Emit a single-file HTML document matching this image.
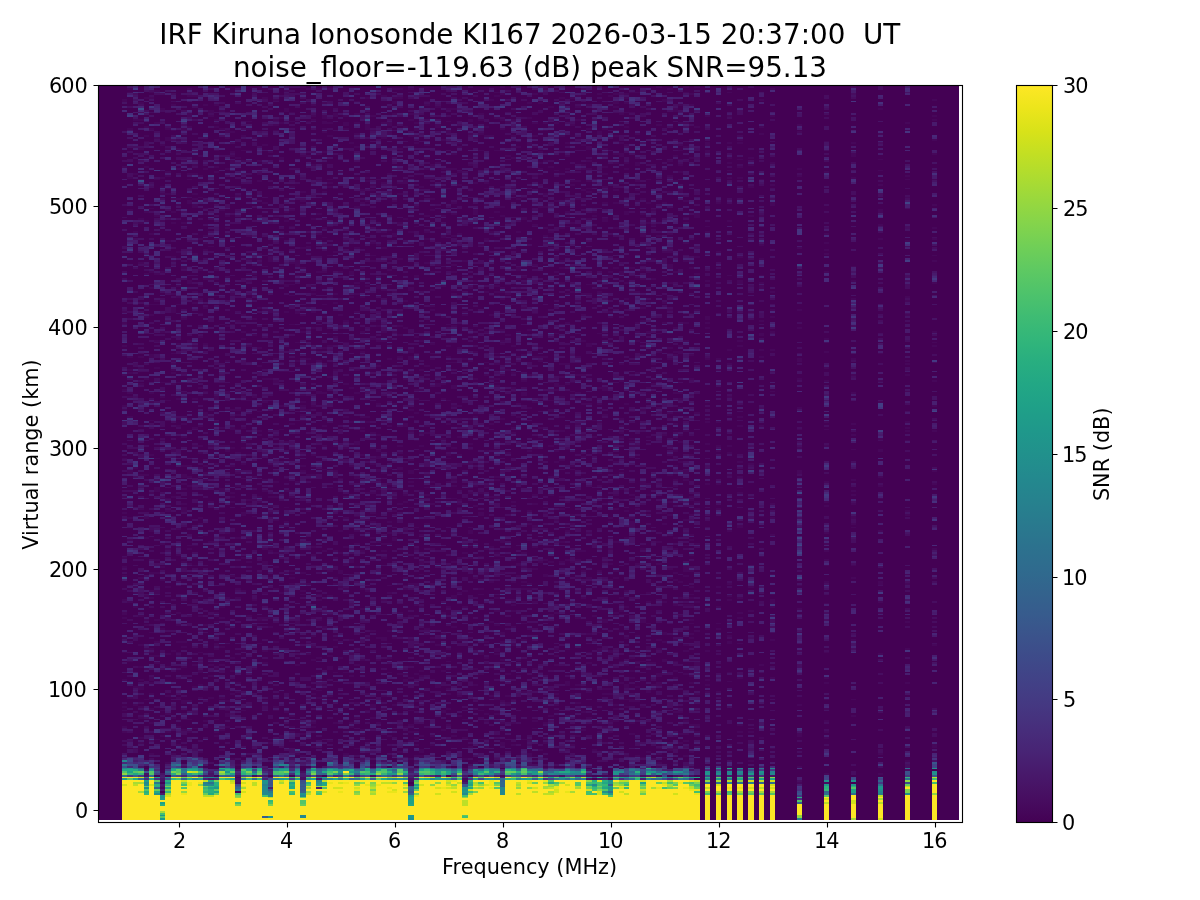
<!DOCTYPE html><html><head><meta charset="utf-8"><title>IRF Kiruna Ionosonde</title><style>html,body{margin:0;padding:0;background:#fff}svg{display:block}text{font-family:"DejaVu Sans","Liberation Sans",sans-serif;fill:#000}</style></head><body>
<svg width="1200" height="900" viewBox="0 0 1200 900">
<defs><linearGradient id="vg" x1="0" y1="0" x2="0" y2="1"><stop offset="0.0000" stop-color="#fde725"/><stop offset="0.0312" stop-color="#ece51b"/><stop offset="0.0625" stop-color="#d8e219"/><stop offset="0.0938" stop-color="#c2df23"/><stop offset="0.1250" stop-color="#addc30"/><stop offset="0.1562" stop-color="#98d83e"/><stop offset="0.1875" stop-color="#84d44b"/><stop offset="0.2188" stop-color="#70cf57"/><stop offset="0.2500" stop-color="#5ec962"/><stop offset="0.2812" stop-color="#4ec36b"/><stop offset="0.3125" stop-color="#3fbc73"/><stop offset="0.3438" stop-color="#32b67a"/><stop offset="0.3750" stop-color="#28ae80"/><stop offset="0.4062" stop-color="#22a785"/><stop offset="0.4375" stop-color="#1fa088"/><stop offset="0.4688" stop-color="#1f988b"/><stop offset="0.5000" stop-color="#21918c"/><stop offset="0.5312" stop-color="#23898e"/><stop offset="0.5625" stop-color="#26828e"/><stop offset="0.5938" stop-color="#297a8e"/><stop offset="0.6250" stop-color="#2c728e"/><stop offset="0.6562" stop-color="#2f6b8e"/><stop offset="0.6875" stop-color="#33638d"/><stop offset="0.7188" stop-color="#375b8d"/><stop offset="0.7500" stop-color="#3b528b"/><stop offset="0.7812" stop-color="#3e4989"/><stop offset="0.8125" stop-color="#424086"/><stop offset="0.8438" stop-color="#453781"/><stop offset="0.8750" stop-color="#472d7b"/><stop offset="0.9062" stop-color="#482374"/><stop offset="0.9375" stop-color="#48186a"/><stop offset="0.9688" stop-color="#470d60"/><stop offset="1.0000" stop-color="#440154"/></linearGradient><clipPath id="axc"><rect x="98" y="86" width="861" height="734"/></clipPath></defs>
<rect width="1200" height="900" fill="#fff"/>
<rect x="98" y="86" width="861" height="734" fill="#440154"/>
<g clip-path="url(#axc)"><svg x="94.953" y="84.327" width="863.878" height="735.781" viewBox="0 0 160 406" preserveAspectRatio="none" shape-rendering="crispEdges"><g fill="none" stroke-width="1"><path stroke="#46075a" d="M12 388.5h1M58 386.5h1M130 385.5h1M68 383.5h1M26 382.5h1M75 381.5h1m15 0h1M135 380.5h1m9 0h1M92 378.5h1M111 377.5h1M104 376.5h1m5 0h1m6 0h1m12 0h1M26 375.5h1m24 0h1m63 0h1M13 374.5h1m56 0h1m2 0h1m30 0h1M29 373.5h1m35 0h1m5 0h1m15 0h1m33 0h1m28 0h1M25 372.5h1m12 0h1m19 0h1m9 0h1m27 0h1M36 371.5h1m23 0h1m40 0h1m3 0h2m1 0h1M16 370.5h1m21 0h1m20 0h2m14 0h1m4 0h1m17 0h1m1 0h1m8 0h1M10 369.5h1m3 0h1m22 0h1m8 0h1m33 0h1m23 0h1m12 0h1m27 0h1M19 368.5h1m36 0h1m3 0h1m41 0h1m7 0h1M23 367.5h1m36 0h1m21 0h1m9 0h1m13 0h1M7 366.5h1m37 0h1m2 0h1m39 0h1m15 0h1m2 0h1m17 0h1M30 365.5h1m9 0h1m10 0h1m17 0h1m2 0h1m34 0h1m47 0h1M15 364.5h1m43 0h1m2 0h1m8 0h1m3 0h1m1 0h1m10 0h1m16 0h1m49 0h1M8 363.5h1m23 0h1m42 0h1m7 0h1m24 0h1M36 362.5h1m6 0h1m14 0h1m50 0h1M11 361.5h1m1 0h2m35 0h1m13 0h1m4 0h1m1 0h2m6 0h2m23 0h1M8 360.5h1m4 0h1m20 0h1m24 0h1m8 0h1m54 0h1m11 0h1M12 359.5h1m9 0h1m11 0h1m19 0h1m5 0h1m1 0h1m3 0h1m22 0h1m40 0h1M38 358.5h1m10 0h1m36 0h1m12 0h1m8 0h2m20 0h1M5 357.5h1m7 0h1m3 0h1m4 0h1m13 0h1m21 0h2m33 0h1m1 0h1m15 0h1m7 0h1m1 0h1m13 0h1M16 356.5h1m6 0h1m25 0h1m14 0h1m25 0h1M18 355.5h1m32 0h1m24 0h1m4 0h1M5 354.5h1m9 0h1m8 0h1m11 0h1m3 0h1m6 0h1m9 0h1m36 0h1M38 353.5h1m19 0h1m6 0h1m29 0h1m5 0h1m6 0h1m1 0h2m7 0h1M10 352.5h1m29 0h1m3 0h1m2 0h1m4 0h1m16 0h1m5 0h1m1 0h1m5 0h1m9 0h1m5 0h1M20 351.5h1m51 0h1m1 0h1m6 0h1m13 0h2m12 0h1m25 0h1M16 350.5h2m4 0h1m16 0h1m1 0h1m26 0h2m28 0h1M8 349.5h1m5 0h1m33 0h1m2 0h1m39 0h1M24 348.5h1m11 0h1m30 0h1m16 0h1m55 0h1M13 347.5h1m10 0h1m47 0h1m1 0h1M35 346.5h1m28 0h1m25 0h1m16 0h2M5 345.5h1m6 0h1m11 0h2m1 0h1m5 0h1m16 0h1m7 0h1m3 0h1m1 0h1m6 0h1m39 0h1M10 344.5h1m33 0h1m8 0h1m3 0h1m7 0h1m16 0h1m13 0h1m38 0h1M5 343.5h1m2 0h1m24 0h1m17 0h1m46 0h1m2 0h1m13 0h1M7 342.5h1m23 0h1m19 0h1m3 0h1m27 0h1m1 0h1m10 0h1m33 0h1M16 341.5h1m31 0h1m27 0h1m12 0h1M16 340.5h2m6 0h1m6 0h1m27 0h1m15 0h1m23 0h2m9 0h1M9 339.5h1m33 0h2m13 0h1m5 0h1m5 0h1m3 0h1m2 0h1m20 0h2m7 0h1m27 0h1m4 0h1M6 338.5h1m3 0h1m4 0h1m3 0h1m1 0h1m1 0h1m2 0h1m14 0h2m31 0h1m33 0h1M13 337.5h1m13 0h1m15 0h1m9 0h1m13 0h1m5 0h1m2 0h1m32 0h1M10 336.5h1m14 0h1m14 0h1m9 0h1m14 0h1m19 0h1m2 0h1m5 0h2m15 0h1M26 335.5h1m52 0h1m11 0h1m10 0h1m10 0h1m1 0h1M41 334.5h1m18 0h1m22 0h1m6 0h1m11 0h1M8 333.5h1m6 0h1m8 0h1m40 0h1m17 0h1m10 0h2M7 332.5h2m9 0h1m2 0h1m28 0h1m12 0h1m34 0h1m1 0h1M19 331.5h1m22 0h1m20 0h1m6 0h1m16 0h1m1 0h1m8 0h1m4 0h2m8 0h1M10 330.5h1m15 0h1m32 0h1m27 0h1m9 0h1m6 0h1m5 0h1m24 0h1m14 0h1M13 329.5h1m11 0h1m31 0h1m11 0h1m15 0h1m1 0h1m18 0h1m10 0h1M5 328.5h1m2 0h1m1 0h1m30 0h1m15 0h1m4 0h1m31 0h1m18 0h1M10 327.5h1m47 0h1m40 0h1m7 0h1m11 0h1m5 0h1m9 0h1M21 326.5h1m25 0h1m12 0h1m17 0h1m25 0h1m5 0h1M41 325.5h1m14 0h2m1 0h1m11 0h1m4 0h1m27 0h1m4 0h1M11 324.5h1m7 0h1m24 0h1m1 0h1m7 0h1m12 0h1m14 0h1m8 0h1m8 0h1m16 0h1M19 323.5h1m5 0h1m34 0h1m3 0h1m24 0h1m9 0h1m7 0h1M9 322.5h1m12 0h1m6 0h1m13 0h1m21 0h1m4 0h1m10 0h1M8 321.5h1m4 0h1m2 0h1m26 0h1m34 0h1m21 0h1m1 0h1M18 320.5h1m2 0h1m1 0h1m13 0h1m10 0h1m36 0h1m9 0h1m2 0h1m12 0h1m11 0h1M11 319.5h1m19 0h1m27 0h1m31 0h1m10 0h2m7 0h1M6 318.5h1m9 0h1m48 0h1m31 0h1m2 0h2m3 0h1m1 0h1M40 317.5h1m8 0h1m2 0h1m22 0h1m2 0h1m26 0h1m4 0h2M25 316.5h1m15 0h1m3 0h1m8 0h1m9 0h1m7 0h1m23 0h1m2 0h1M10 315.5h2m3 0h1m27 0h1m21 0h1m19 0h1m3 0h1m3 0h1M13 314.5h1m25 0h1m7 0h1m23 0h1m2 0h1m70 0h1M5 313.5h1m4 0h1m4 0h1m3 0h1m18 0h1m28 0h1m8 0h1m14 0h1m3 0h1m11 0h1m27 0h1M14 312.5h1m16 0h1m16 0h1m25 0h1m10 0h1m7 0h1m1 0h1m4 0h1m8 0h1m3 0h1m16 0h1M9 311.5h2m11 0h1m4 0h1m31 0h1m5 0h1m8 0h1m10 0h1m1 0h1m5 0h1m8 0h1m1 0h1m45 0h1M16 310.5h1m6 0h1m16 0h1m3 0h1m57 0h1M8 309.5h1m13 0h1m30 0h1m5 0h1m3 0h1m13 0h1m2 0h1m28 0h1m45 0h1M22 308.5h1m7 0h1m8 0h1m36 0h2m39 0h1m1 0h1M11 307.5h1m3 0h2m16 0h1m38 0h1m2 0h1m29 0h1m11 0h1M44 306.5h1m2 0h1m5 0h1m4 0h1m8 0h2m10 0h1m12 0h1m11 0h1m2 0h1m17 0h1m14 0h1M5 305.5h1m44 0h1m1 0h2m1 0h1m6 0h1m24 0h1m10 0h1m11 0h1M22 304.5h1m17 0h1m47 0h1m11 0h1m16 0h1M64 303.5h1m10 0h1m15 0h1m13 0h1m4 0h1M10 302.5h1m64 0h1m12 0h1m4 0h1m11 0h1m24 0h1M51 301.5h1m2 0h1m56 0h1M12 300.5h1m48 0h1m18 0h1m32 0h1m1 0h1M32 299.5h1m9 0h1m23 0h1m10 0h1m7 0h1M9 298.5h1m5 0h1m4 0h1m3 0h1m4 0h1m42 0h1m1 0h1M37 297.5h1m41 0h1m22 0h1m7 0h1m4 0h1M22 296.5h1m14 0h1m35 0h1m20 0h1m6 0h1m48 0h1M9 295.5h1m1 0h1m18 0h1m10 0h1m52 0h1m6 0h1m8 0h1M5 294.5h1m17 0h1m6 0h3m7 0h1m6 0h1m35 0h1m5 0h1m29 0h1M8 293.5h1m10 0h1m8 0h1m29 0h1m3 0h1m21 0h1m7 0h1m15 0h1M5 292.5h1m37 0h1m40 0h1m10 0h1m1 0h2M5 291.5h1m9 0h1m6 0h1m33 0h1m7 0h1m20 0h1m10 0h1m22 0h1m25 0h1M74 290.5h1m2 0h1m19 0h1m23 0h1M42 289.5h1m4 0h1m1 0h1m80 0h1M7 288.5h1m15 0h1m36 0h1m4 0h1m2 0h1m29 0h1m16 0h1m9 0h1M59 287.5h1m17 0h1m29 0h1m1 0h2M22 286.5h1m67 0h1m5 0h1m28 0h1m9 0h1M6 285.5h1m72 0h1m1 0h1m20 0h1m2 0h1m5 0h1m13 0h1m19 0h1M5 284.5h1m23 0h1m11 0h1m11 0h1m5 0h1m16 0h2m39 0h1m7 0h1M10 283.5h1m10 0h1m2 0h1m1 0h1m39 0h1m7 0h1m15 0h1m6 0h1m10 0h1m1 0h1m8 0h1M9 282.5h1m30 0h1m2 0h1m22 0h1m50 0h1M38 281.5h1m2 0h1m17 0h1m11 0h1m6 0h1m2 0h1m28 0h1m14 0h1M7 280.5h1m3 0h1m19 0h1m2 0h1m11 0h1m7 0h1m12 0h1m7 0h1m4 0h1m4 0h1m16 0h1M10 279.5h2m15 0h1m10 0h1m11 0h1m17 0h1m29 0h1M26 278.5h1m6 0h1m12 0h1m2 0h1m7 0h1m13 0h1m7 0h2m14 0h1M7 277.5h1m5 0h1m31 0h1m30 0h1m33 0h1m4 0h1m5 0h1M54 276.5h1m2 0h1m1 0h1m33 0h1m36 0h1M36 275.5h1m2 0h1m4 0h1m13 0h2m2 0h1m17 0h1m9 0h1m26 0h1m27 0h1m4 0h1M34 274.5h1m38 0h1m3 0h1m1 0h1m7 0h1m6 0h1m13 0h1m26 0h1m9 0h1M12 273.5h1m73 0h1m8 0h1m11 0h1M8 272.5h1m9 0h1m13 0h1m3 0h1m7 0h1m12 0h1m6 0h1m5 0h1m18 0h1m1 0h1m4 0h1m9 0h1m33 0h1M5 271.5h1m19 0h1m21 0h1m30 0h1m4 0h1m25 0h1M19 270.5h1m16 0h1m12 0h1m3 0h1m6 0h1m11 0h1m10 0h1m11 0h1m8 0h1m20 0h1m4 0h1m19 0h1M10 269.5h2m18 0h1m4 0h1m2 0h1m6 0h1m26 0h1m2 0h1m31 0h1M36 268.5h2m5 0h1m1 0h1m44 0h1m2 0h1m2 0h1m12 0h2M70 267.5h1m10 0h1m24 0h1m2 0h1M5 266.5h1m6 0h1m3 0h1m16 0h1m26 0h1m12 0h1m5 0h1m29 0h1M18 265.5h1m21 0h2m4 0h1m18 0h1m11 0h2m56 0h1m4 0h1M17 264.5h1m13 0h1m14 0h1m13 0h1m2 0h1m14 0h1m16 0h1m4 0h1m3 0h1M16 263.5h1m11 0h1m2 0h1m15 0h1m12 0h1m5 0h1m15 0h1m1 0h1m1 0h1m1 0h1m5 0h1M11 262.5h1m35 0h1m26 0h1m2 0h1m5 0h1m3 0h1m1 0h1m45 0h1M5 261.5h1m12 0h1m8 0h1m16 0h1m8 0h1m13 0h1m1 0h1m11 0h1m19 0h1M60 260.5h1m10 0h1m2 0h2m27 0h1m19 0h1M15 259.5h1m24 0h1m16 0h1m29 0h1m14 0h1m7 0h1M33 258.5h2m10 0h1m22 0h1m5 0h1m4 0h1M32 257.5h1m9 0h1m1 0h1m4 0h1m3 0h1m19 0h1m15 0h2m44 0h1M13 256.5h1m3 0h1m13 0h1m2 0h1m24 0h1m2 0h1m9 0h1m22 0h1m5 0h1m5 0h1m47 0h1M40 255.5h1m5 0h1m26 0h1m7 0h1M17 254.5h2m4 0h1m1 0h1m13 0h1m44 0h1m24 0h1M12 253.5h1m18 0h1m16 0h1m4 0h2m56 0h1m23 0h1M21 252.5h1m10 0h1m19 0h1m22 0h1m10 0h1m9 0h1m7 0h1M6 251.5h1m24 0h1m23 0h1m12 0h1m6 0h1m4 0h1m29 0h1M9 250.5h1m16 0h1m1 0h1m22 0h1m1 0h1m1 0h1m29 0h1m9 0h1m2 0h1m8 0h1M13 249.5h1m5 0h1m3 0h1m81 0h1M20 248.5h1m39 0h1m49 0h1m14 0h1M24 247.5h1m29 0h1m1 0h1m12 0h1m21 0h1m43 0h1M10 246.5h1m34 0h1m2 0h1m8 0h1m11 0h1m17 0h1m29 0h1m27 0h1M15 245.5h1m20 0h1M59 244.5h1m9 0h1m11 0h1m37 0h1m20 0h1M51 243.5h1m29 0h1m17 0h1m19 0h1M19 242.5h1m28 0h1m12 0h1m14 0h1m3 0h1m7 0h1m10 0h1m5 0h1m34 0h1M35 241.5h1m15 0h1m2 0h1m40 0h1m3 0h1M33 240.5h1m16 0h1m34 0h1m23 0h1M6 239.5h1m2 0h1m9 0h1m26 0h1m48 0h1m2 0h2m25 0h1m14 0h1M29 238.5h1m18 0h1m44 0h1m29 0h1m16 0h1M27 237.5h1m15 0h1m27 0h1m16 0h1m17 0h1m3 0h1m39 0h1M5 236.5h1m21 0h1m4 0h1m18 0h1m19 0h1m5 0h1m5 0h1m17 0h1m3 0h1M13 235.5h1m2 0h1m22 0h1m5 0h1m9 0h1m24 0h1m3 0h1m13 0h1m22 0h1m28 0h1M8 234.5h1m7 0h1m69 0h1m6 0h1m2 0h1m3 0h1m10 0h1m3 0h1M16 233.5h1m2 0h1m15 0h1m8 0h1m13 0h1m8 0h1m15 0h1M32 232.5h1m32 0h1m4 0h1m64 0h1M16 231.5h1m11 0h1m27 0h1m5 0h1m4 0h1m13 0h1m10 0h1m32 0h1m14 0h1M21 230.5h1m3 0h1m4 0h1m26 0h1m19 0h1m9 0h1m7 0h1m10 0h1m1 0h1m2 0h1m23 0h1M28 229.5h2m37 0h1m5 0h1m36 0h1M12 228.5h2m36 0h1m9 0h1m5 0h1m7 0h1m21 0h1m2 0h1m1 0h1m3 0h1m39 0h1M5 227.5h1m8 0h1m10 0h1m4 0h1m1 0h2m2 0h1m18 0h1m17 0h2m11 0h1m6 0h1m16 0h1m10 0h1M57 226.5h1m3 0h1m19 0h1m2 0h1m11 0h1m2 0h1m2 0h1m27 0h1m9 0h1M10 225.5h1m14 0h1m24 0h2m17 0h1m1 0h1m34 0h1m12 0h1M11 224.5h1m11 0h1m7 0h1m3 0h2m23 0h1m79 0h1M11 223.5h1m4 0h1m6 0h1m28 0h1m1 0h1m42 0h1M11 222.5h1m7 0h1m8 0h1m3 0h1m10 0h1m17 0h1m13 0h1m43 0h1M17 221.5h1m8 0h1m35 0h1m3 0h1m1 0h1m1 0h1m1 0h2m19 0h1m13 0h1m22 0h1m14 0h1M16 220.5h1m7 0h1m29 0h1m28 0h1m17 0h2m10 0h1m1 0h1m39 0h1M13 219.5h1m14 0h1m4 0h1m3 0h1m20 0h1m3 0h1m2 0h1m7 0h1m15 0h2m10 0h1m2 0h1m30 0h1M20 218.5h1m10 0h1m20 0h1m13 0h1m7 0h1m32 0h1m1 0h1m30 0h1M27 217.5h1m4 0h1m2 0h1m9 0h1m2 0h1m21 0h1m11 0h1M16 216.5h2m5 0h1m5 0h1m18 0h1m25 0h1m9 0h1m34 0h1m25 0h1M8 215.5h2m6 0h1m22 0h2m20 0h1m6 0h1m27 0h1m9 0h1m10 0h1M6 214.5h1m13 0h1m5 0h1m26 0h1m4 0h1m34 0h1m3 0h1m11 0h1m20 0h1M6 213.5h1m14 0h1m11 0h1m4 0h1m5 0h1m7 0h1m5 0h1m50 0h1m20 0h1m24 0h1M14 212.5h1m27 0h1m9 0h1m3 0h1m31 0h1m32 0h1M7 211.5h1m11 0h1m34 0h1m1 0h1M16 210.5h2m2 0h1m4 0h1m12 0h1m8 0h1m28 0h1m11 0h1m18 0h1m2 0h1M22 209.5h1m4 0h1m4 0h1m2 0h1m15 0h1m16 0h2m51 0h1M82 208.5h1m2 0h1m10 0h1m11 0h1m10 0h1M58 207.5h1m27 0h1M5 206.5h1m5 0h1m4 0h1m17 0h1m13 0h1m2 0h2m8 0h1m2 0h2m8 0h1m22 0h1m9 0h1M27 205.5h1m9 0h1m14 0h1m37 0h1M10 204.5h1m11 0h1m17 0h1m8 0h1m15 0h1m1 0h1m4 0h1m33 0h1m3 0h1M19 203.5h1m6 0h1m11 0h1m17 0h1m19 0h1m16 0h1m23 0h1M14 202.5h1m9 0h1m27 0h1m19 0h1m7 0h1m4 0h1m21 0h1m3 0h1m3 0h1m29 0h1M14 201.5h1m21 0h1m26 0h1m5 0h1m17 0h1m3 0h1m48 0h1m4 0h1M25 200.5h1m1 0h1m18 0h1m19 0h1m14 0h1m48 0h1M18 199.5h2m1 0h1m1 0h2m3 0h1m13 0h1m1 0h1m11 0h1m3 0h1m23 0h1m14 0h2m5 0h1m8 0h1m1 0h1m17 0h1M48 198.5h1m20 0h1m26 0h1m16 0h1M35 197.5h1m5 0h1m6 0h1m44 0h1m5 0h1m8 0h1M12 196.5h1m31 0h1m14 0h1m16 0h1m8 0h1m64 0h1M19 195.5h1m43 0h2m34 0h1m45 0h1M16 194.5h1m50 0h1m14 0h1m9 0h1m4 0h1m4 0h1M30 193.5h1m21 0h1m23 0h1m12 0h2m14 0h1m2 0h1m31 0h1M51 192.5h1m8 0h2m15 0h1m19 0h1m17 0h1M30 191.5h1m18 0h1m8 0h1m27 0h1m22 0h1m40 0h1m4 0h1M25 190.5h2m7 0h1m45 0h1m16 0h1m9 0h1m22 0h1m4 0h1M18 189.5h1m4 0h1m1 0h1m1 0h1m18 0h1m2 0h1m22 0h1m4 0h1m4 0h1m67 0h1M15 188.5h1m3 0h1m2 0h1m19 0h1m11 0h1m2 0h1m3 0h1m8 0h1m26 0h1m21 0h1m3 0h1M16 187.5h1m19 0h1m20 0h1m7 0h1m7 0h1m15 0h1m17 0h1m32 0h1M22 186.5h1m24 0h1m2 0h1m2 0h1m39 0h1m19 0h1m1 0h1m19 0h1m14 0h1M10 185.5h1m27 0h1m9 0h2m17 0h1m23 0h2M15 184.5h1m1 0h1m11 0h1m23 0h1m21 0h1m13 0h1m7 0h1M6 183.5h1m14 0h1m3 0h1m8 0h1m11 0h1m2 0h2m19 0h1m7 0h1m7 0h1m22 0h1m9 0h1M20 182.5h1m5 0h1m11 0h1m55 0h1m22 0h1M20 181.5h1m38 0h1m10 0h1m35 0h1m4 0h1M27 180.5h1m2 0h1m4 0h1m48 0h1m14 0h1M5 179.5h1m18 0h3m11 0h2m18 0h1m15 0h1m9 0h1m16 0h1M80 178.5h1m23 0h1m3 0h1m21 0h1M5 177.5h1m24 0h1m3 0h1m3 0h1m1 0h1m25 0h2m4 0h1m82 0h1M52 176.5h1m2 0h1m22 0h1m11 0h2m1 0h1m4 0h1M10 175.5h1m20 0h1m6 0h1m42 0h1m31 0h1m31 0h1M13 174.5h1m6 0h1m6 0h2m7 0h1m8 0h1m1 0h1m17 0h1m18 0h1m11 0h1m22 0h1M15 173.5h1m2 0h1m3 0h1m21 0h1m14 0h1m4 0h1m24 0h1m18 0h1M6 172.5h1m5 0h1m9 0h1m6 0h1m56 0h1m3 0h1m26 0h1M27 171.5h1m10 0h1m40 0h1M6 170.5h1m3 0h1m5 0h1m7 0h1m16 0h2m5 0h1m30 0h1m9 0h1m17 0h2m31 0h1M20 169.5h1m3 0h1m1 0h1m5 0h1m6 0h1m1 0h1m12 0h1m22 0h1m10 0h1m13 0h1m22 0h1m24 0h1M5 168.5h1m53 0h2m24 0h1m8 0h1M19 167.5h1m27 0h1m18 0h1m10 0h1m15 0h2m7 0h1M38 166.5h1m14 0h1m9 0h1m2 0h1m4 0h2m1 0h1m10 0h2M8 165.5h1m5 0h1m31 0h1m16 0h2m20 0h1m1 0h1m15 0h1M12 164.5h2m1 0h1m17 0h1m40 0h1m9 0h1m3 0h1m22 0h1M33 163.5h1m11 0h1m33 0h1m17 0h1m37 0h1m9 0h1m9 0h1M9 162.5h1m21 0h2m24 0h1m12 0h1m2 0h2m29 0h1m5 0h1m19 0h1M40 161.5h1m2 0h1m42 0h1M5 160.5h1m47 0h1m18 0h1m2 0h1m4 0h1m8 0h2m49 0h1m9 0h1M6 159.5h1m7 0h1m1 0h1m41 0h1m18 0h1m22 0h1M34 158.5h2m18 0h1m1 0h1m1 0h1m4 0h1m76 0h1M6 157.5h1m7 0h1m29 0h1m3 0h1m11 0h1m15 0h1m38 0h1M8 156.5h1m2 0h1m11 0h1m13 0h1m34 0h1m18 0h1m43 0h1M30 155.5h1m19 0h1m1 0h1m8 0h1M14 154.5h1m24 0h1m34 0h1m1 0h1m9 0h2m9 0h1m5 0h1m13 0h1m32 0h1M33 153.5h2m1 0h1m28 0h2m5 0h1m32 0h1M14 152.5h1m9 0h1m12 0h1m3 0h1m27 0h1m12 0h1m47 0h1m19 0h1M33 151.5h1m5 0h1m14 0h1m3 0h1m3 0h1m5 0h1m37 0h1m6 0h1m1 0h1m14 0h1m9 0h1M6 150.5h1m1 0h1m1 0h1m45 0h1m1 0h1m6 0h1m15 0h3m5 0h1m33 0h1M10 149.5h1m38 0h1m29 0h1m21 0h1m5 0h1m2 0h1M14 148.5h1m4 0h1m11 0h1m20 0h1m6 0h1m2 0h1m5 0h1m5 0h1m31 0h1m1 0h1m36 0h1M49 147.5h1m8 0h1m11 0h1m33 0h1m2 0h2m26 0h1M40 146.5h1m17 0h1m58 0h1m5 0h1m1 0h1m14 0h1M30 145.5h1m11 0h1m24 0h1m38 0h1M5 144.5h1m12 0h1m9 0h1m14 0h1m21 0h1m11 0h1m13 0h1m16 0h1m10 0h1m35 0h1M15 143.5h1m4 0h1m13 0h1m27 0h1m12 0h1m15 0h1M17 142.5h1m19 0h1m6 0h1m1 0h1m42 0h1m5 0h1m59 0h1M11 141.5h1m5 0h1m34 0h2m6 0h1m14 0h1m14 0h1m9 0h1m8 0h1m9 0h1M27 140.5h1m23 0h1m2 0h1m15 0h1m64 0h1M19 139.5h1m24 0h1m14 0h1m6 0h1m27 0h1M29 138.5h1m26 0h1m16 0h1m2 0h1m46 0h1M22 137.5h1m20 0h1m14 0h1m8 0h1m17 0h1m7 0h1m10 0h1m1 0h1m3 0h1m12 0h1M12 136.5h1m14 0h1m10 0h1m10 0h1m3 0h1m1 0h1m16 0h1m5 0h1m21 0h1m1 0h1m22 0h1m29 0h1M74 135.5h2m4 0h1m15 0h1M38 134.5h1m1 0h1m16 0h1m28 0h1m16 0h1m3 0h1m5 0h1m16 0h1M24 133.5h1m27 0h1m3 0h1m9 0h1M23 132.5h1m1 0h1m5 0h1m4 0h1m28 0h1m22 0h1m17 0h1M5 131.5h1m81 0h1m12 0h1m4 0h1m3 0h1m3 0h1M26 130.5h1m19 0h1m7 0h1m46 0h1m21 0h1M16 129.5h1m12 0h1m83 0h1M9 128.5h1m32 0h1m13 0h1m7 0h1m30 0h1m17 0h1m11 0h1M10 127.5h1m16 0h1m10 0h1m6 0h1m22 0h1m4 0h1m16 0h1m59 0h1M19 126.5h1m17 0h1m22 0h2m2 0h1m16 0h1m28 0h1m8 0h1M5 125.5h1m8 0h1m17 0h1m2 0h1m1 0h1m2 0h1m7 0h1m7 0h1m11 0h1m26 0h1m25 0h1M14 124.5h1m16 0h2m29 0h1m43 0h1m4 0h1m13 0h1m4 0h1M14 123.5h1m5 0h1m9 0h1m48 0h1m21 0h1M9 122.5h1m40 0h1m11 0h1M10 121.5h2m3 0h1m19 0h1m6 0h1m34 0h1m1 0h1m17 0h1M18 120.5h1m9 0h1m15 0h1m60 0h1M11 119.5h1m45 0h1m23 0h1m7 0h1m60 0h1M19 118.5h1m47 0h1m7 0h1m22 0h1m41 0h1M15 117.5h1m27 0h1m3 0h1m1 0h1m6 0h1m12 0h1m80 0h1M25 116.5h1m3 0h1m6 0h1m6 0h1m29 0h2m38 0h1M14 115.5h1m10 0h1m14 0h1m3 0h1m3 0h1m17 0h1m9 0h1m10 0h1m2 0h2M18 114.5h1m24 0h1m11 0h1m16 0h1m1 0h2m12 0h1m4 0h1m5 0h2m24 0h1M15 113.5h1m24 0h1m12 0h1m4 0h1m3 0h1m3 0h1M10 112.5h1m12 0h1m28 0h1m5 0h1m10 0h1m5 0h1m17 0h1m5 0h1m23 0h1M12 111.5h1m2 0h1m3 0h1m15 0h1m4 0h1m7 0h1m1 0h1m1 0h1m11 0h1m9 0h1m7 0h1m40 0h1M23 110.5h1m10 0h3m46 0h1m1 0h1m5 0h1m2 0h1M15 109.5h1m1 0h1m6 0h1m23 0h1m14 0h1m15 0h1m6 0h1m11 0h1m7 0h1m12 0h1m3 0h1m31 0h1M17 108.5h1m10 0h1m20 0h1m20 0h1m42 0h1m5 0h1m20 0h1M20 107.5h3m11 0h1m2 0h1m40 0h1m22 0h1m1 0h1m6 0h1M24 106.5h1m18 0h1m15 0h1m8 0h1m10 0h1m9 0h1m10 0h1M37 105.5h1m11 0h1m9 0h1m9 0h1m2 0h1m11 0h1m30 0h1m1 0h1m5 0h1M9 104.5h1m1 0h1m16 0h2m17 0h1m49 0h1m13 0h1M10 103.5h1m1 0h1m28 0h2m2 0h1m1 0h1m14 0h1m3 0h1m18 0h1m9 0h1m1 0h1m4 0h1m4 0h1m27 0h1M19 102.5h1m2 0h1m10 0h1m20 0h1m23 0h1m22 0h1M16 101.5h1m17 0h1m3 0h1m10 0h1m15 0h1m12 0h1m7 0h1m9 0h1m2 0h1m6 0h1m3 0h1M16 100.5h2m13 0h1m5 0h1m18 0h1m12 0h1m28 0h1m7 0h1m33 0h1M37 99.5h1m25 0h1m2 0h1m14 0h1m24 0h1M8 98.5h1m21 0h1m5 0h2m23 0h1m21 0h1M14 97.5h1m17 0h1m4 0h1m13 0h1m16 0h1m17 0h1m22 0h1m45 0h1M28 96.5h1m1 0h1m1 0h1m14 0h1m6 0h1m1 0h1m39 0h1m6 0h1m19 0h1M9 95.5h1m4 0h1m17 0h1m42 0h1m31 0h1m3 0h1m7 0h1M43 94.5h1m7 0h1m12 0h1m22 0h1m33 0h1m33 0h1M18 93.5h1m11 0h1m104 0h1M15 92.5h1m28 0h2m59 0h2m8 0h1M20 91.5h1m64 0h1m49 0h1M38 90.5h2m8 0h1m4 0h1m21 0h1m8 0h1m21 0h1m23 0h1M6 89.5h1m1 0h1m12 0h1m11 0h1m2 0h1m2 0h1m21 0h1M52 88.5h1m18 0h1m51 0h1M20 87.5h1m30 0h1m33 0h1m23 0h1m25 0h1M13 86.5h1m32 0h1m103 0h1M19 85.5h1m2 0h1m38 0h1m10 0h1m10 0h2m60 0h1m9 0h1M34 84.5h1m7 0h1m21 0h1m37 0h1M6 83.5h1m13 0h1m7 0h1m26 0h1m8 0h1m1 0h1m7 0h1m8 0h1m17 0h1m2 0h1M10 82.5h1m13 0h1m16 0h1m13 0h1m11 0h1m33 0h1m4 0h1m28 0h1M7 81.5h1m45 0h1m4 0h1m2 0h1m11 0h1m4 0h1m5 0h1m28 0h1M29 80.5h1m10 0h1M24 79.5h1m17 0h1m20 0h1m19 0h1m2 0h1m9 0h1m10 0h1m47 0h1M12 78.5h1m23 0h1m6 0h1m2 0h1m12 0h1m27 0h1m25 0h1M81 77.5h1m21 0h1m41 0h1M8 76.5h1m5 0h1m1 0h1m7 0h1m31 0h1m10 0h1m1 0h1m6 0h1m11 0h1m13 0h1m6 0h1M9 75.5h1m2 0h1m4 0h1m17 0h1m37 0h1m20 0h1m22 0h1M8 74.5h1m24 0h1m6 0h1m1 0h1m8 0h1m5 0h1m10 0h1m10 0h1m11 0h1m2 0h1m6 0h1M53 73.5h1m25 0h1m29 0h1m1 0h1M11 72.5h1m12 0h1m13 0h1m22 0h1m2 0h1m10 0h1m16 0h1m18 0h1m9 0h1m1 0h1M20 71.5h1m20 0h1m24 0h1m3 0h1m27 0h1m2 0h1m9 0h1M9 70.5h1m4 0h1m20 0h1m34 0h1m3 0h1m12 0h1m4 0h1m5 0h1m46 0h1M6 69.5h1m16 0h1m12 0h1m25 0h1m7 0h1m32 0h1m41 0h1M10 68.5h1m9 0h1m83 0h1M18 67.5h1m29 0h1m10 0h1m14 0h2m6 0h2m14 0h1M12 66.5h1m2 0h1m2 0h1m19 0h1m33 0h1m14 0h1m37 0h1m29 0h1M17 65.5h1m13 0h1m17 0h1m16 0h1m27 0h1m1 0h1m5 0h1m2 0h1m9 0h1m9 0h1M17 64.5h1m18 0h1m1 0h1m11 0h1m4 0h1m29 0h1m14 0h1m8 0h1M14 63.5h2m2 0h1m5 0h1m10 0h1m26 0h1m5 0h1m9 0h1m3 0h1m4 0h1m1 0h1m11 0h1M19 62.5h1m5 0h1m53 0h1m18 0h1m51 0h1M26 61.5h1m40 0h1m40 0h1M12 60.5h2m4 0h1m33 0h1m3 0h1m26 0h1M38 59.5h1m3 0h1m48 0h1m14 0h1m1 0h1M49 58.5h1m1 0h1m38 0h1m5 0h1m3 0h1m7 0h1M13 57.5h1m30 0h1m8 0h1m11 0h1m3 0h1m2 0h1m4 0h1m5 0h1m7 0h1M12 56.5h1m23 0h1m6 0h1m16 0h1m14 0h1m18 0h1m26 0h1M42 55.5h1m8 0h1m15 0h1m20 0h1m36 0h1m19 0h1M43 54.5h1m9 0h1m2 0h2m12 0h1m1 0h1m4 0h1m14 0h1m4 0h1M21 53.5h1m8 0h1m19 0h1m6 0h1m30 0h2m1 0h1m8 0h1m6 0h1M11 52.5h1m5 0h1m23 0h1m1 0h1m4 0h1m3 0h1m11 0h1m5 0h1m31 0h1m20 0h1m26 0h1m4 0h1M6 51.5h1m5 0h1m35 0h1m1 0h1m66 0h1m1 0h1m20 0h1M13 50.5h1m5 0h1m44 0h1m16 0h1m24 0h1m23 0h1m19 0h1M7 49.5h1m9 0h2m11 0h1m6 0h1m16 0h1m36 0h1m1 0h2M13 48.5h1m8 0h1m22 0h1m21 0h1m40 0h1m26 0h1M27 47.5h1m30 0h1m19 0h1m6 0h1m31 0h1m27 0h1M15 46.5h1m4 0h1m3 0h1m36 0h1m2 0h3m15 0h1m4 0h1m2 0h2m6 0h1m4 0h1m26 0h1M5 45.5h1m3 0h1m12 0h1m61 0h1m9 0h1m24 0h1M16 44.5h1m1 0h1m21 0h1m21 0h1m6 0h1m20 0h1m9 0h1m7 0h1m12 0h1M25 43.5h1m37 0h1m18 0h1m13 0h1m1 0h1m1 0h1m16 0h1m7 0h1M16 42.5h1m8 0h1m1 0h1m2 0h1m52 0h1m7 0h1m14 0h1M34 41.5h1m35 0h1m7 0h1m29 0h1m10 0h1m25 0h1M9 40.5h1m16 0h1m7 0h1m26 0h1m15 0h1m32 0h1m6 0h1m3 0h1M19 39.5h1m5 0h1m12 0h2m36 0h1m10 0h1m5 0h2m2 0h1m9 0h1m32 0h1M41 38.5h1m3 0h1m20 0h1m29 0h2m42 0h1m14 0h1M15 37.5h1m9 0h1m6 0h1m9 0h1m39 0h1m30 0h1M22 36.5h1m4 0h2m7 0h1m34 0h1m2 0h1m6 0h1m26 0h1m4 0h1m9 0h1M8 35.5h1m4 0h1m1 0h1m40 0h1m23 0h1m10 0h1m1 0h2M48 34.5h1m18 0h1m9 0h2m2 0h1m9 0h1m17 0h1M12 33.5h1m18 0h1m29 0h1m18 0h1m9 0h1m7 0h1m8 0h2m4 0h1M18 32.5h1m28 0h1m11 0h1m7 0h1m12 0h1m6 0h1m9 0h1m15 0h1m3 0h1m1 0h1m20 0h1M9 31.5h1m11 0h1m18 0h1m24 0h2m8 0h1m12 0h2m4 0h1m1 0h1m6 0h1m7 0h1m23 0h1M13 30.5h1m1 0h1m6 0h1m41 0h1m54 0h1m35 0h1M11 29.5h1m1 0h1m10 0h1m4 0h1m23 0h1m16 0h1M9 28.5h1m17 0h1m15 0h1m14 0h2m12 0h2m3 0h1m3 0h1m4 0h1m9 0h1m22 0h1M48 27.5h1m5 0h1m14 0h1m1 0h1m21 0h1m6 0h1m22 0h1m21 0h1M24 26.5h2m16 0h1m11 0h1m10 0h1m27 0h1m36 0h1M14 25.5h1m9 0h1m8 0h1m17 0h1m7 0h1m5 0h1m14 0h1m2 0h1m18 0h1m47 0h1M6 24.5h1m3 0h1m2 0h1m2 0h1m6 0h1m4 0h1m13 0h1m3 0h1m3 0h1m8 0h1m15 0h1m15 0h1m2 0h1M9 23.5h1m7 0h1m4 0h1m27 0h1m6 0h1m5 0h1m8 0h1m25 0h1m12 0h1m11 0h1M33 22.5h1m12 0h1m3 0h1m3 0h1m8 0h1m24 0h1m15 0h1m25 0h1M11 21.5h1m10 0h1m11 0h1m7 0h2m2 0h1m1 0h1m4 0h2m4 0h1m16 0h1m1 0h1m2 0h1m1 0h1m1 0h1m22 0h2m40 0h1M28 20.5h1m6 0h2m2 0h1m2 0h1m22 0h1m3 0h1m6 0h1M7 19.5h2m13 0h1m10 0h1m6 0h1m17 0h1m10 0h1m1 0h1m3 0h1m1 0h1m11 0h1m65 0h1M34 18.5h1m7 0h1m31 0h1m5 0h1M17 17.5h1m3 0h1m18 0h1m1 0h1m1 0h1m1 0h1m4 0h1m17 0h1m38 0h1m4 0h1m3 0h1m7 0h1m29 0h1M17 16.5h1m26 0h1m3 0h1m6 0h1m2 0h1m12 0h1m15 0h1m9 0h1M21 15.5h1m14 0h1m61 0h2m9 0h1M21 14.5h1m1 0h1m11 0h1m51 0h1m19 0h1M12 13.5h1m22 0h1m29 0h2m25 0h1m14 0h1m37 0h1M54 12.5h1m8 0h1m20 0h1m4 0h1m6 0h1M14 11.5h1m5 0h1m1 0h1m17 0h1m20 0h1m29 0h1m16 0h1m1 0h1M8 10.5h1m33 0h1m12 0h1m24 0h1m1 0h1m13 0h1m1 0h1M5 9.5h1m42 0h1m6 0h1m5 0h1m34 0h1m8 0h1M5 8.5h1m27 0h1m39 0h1m31 0h1m17 0h1m31 0h1M9 7.5h2m20 0h1m18 0h1m4 0h2m29 0h1m1 0h1m9 0h1M17 6.5h2m34 0h1m20 0h1m14 0h1m5 0h1M75 5.5h1m5 0h1m11 0h1m2 0h1m1 0h1m11 0h1M6 4.5h1m3 0h1m15 0h1m2 0h1m44 0h1m24 0h2m8 0h1m7 0h1M11 3.5h1m23 0h1M6 2.5h1m10 0h1m21 0h1m1 0h1m1 0h1m11 0h2m1 0h1m24 0h1m22 0h1m18 0h1M38 1.5h1m36 0h1m28 0h1m4 0h1m1 0h1m28 0h1M46 0.5h1m13 0h1m3 0h1m5 0h1m4 0h1m2 0h1m2 0h1m1 0h1m6 0h1m3 0h1m4 0h2m3 0h1m2 0h1m42 0h1"/>
<path stroke="#470d60" d="M26 385.5h1m108 0h1M58 384.5h1m9 0h1m61 0h1M26 383.5h1m11 0h1m19 0h1m32 0h1M38 382.5h1M9 381.5h1m16 0h1m2 0h1m21 0h1m7 0h1m41 0h1m2 0h1m2 0h1m2 0h1M140 380.5h1M38 379.5h1m101 0h1M9 378.5h1m16 0h1m41 0h1m22 0h1m58 0h1M68 377.5h1M16 376.5h1m48 0h1m25 0h1m53 0h1m4 0h1M69 375.5h1m10 0h2m1 0h1m1 0h1m23 0h1m30 0h1m9 0h1M21 374.5h1m15 0h1m42 0h1m26 0h1m1 0h1M53 373.5h1m5 0h1m33 0h2m22 0h1M10 372.5h1m15 0h1m7 0h1m1 0h1m11 0h2m1 0h1m17 0h1m4 0h1m3 0h1m10 0h1m11 0h1m1 0h1M57 371.5h1m31 0h1M27 370.5h1m18 0h1m1 0h1m6 0h1m14 0h1M28 369.5h1m25 0h1m28 0h1m4 0h1m9 0h1M7 368.5h1m28 0h1m13 0h2m13 0h1m10 0h1m9 0h1m5 0h2m1 0h1m11 0h1m7 0h1m14 0h1m14 0h1M7 367.5h1m10 0h1m16 0h2m50 0h1m19 0h1m37 0h1M18 366.5h1m10 0h1m6 0h1m20 0h1m28 0h1m19 0h1m8 0h1M16 365.5h1m10 0h1m1 0h1m4 0h1m6 0h1m8 0h1m1 0h1m22 0h1m10 0h1m17 0h1m4 0h1m1 0h1m3 0h1M5 364.5h1m32 0h1m4 0h1m10 0h1m23 0h1m1 0h1m1 0h1m17 0h1m2 0h1m13 0h1m17 0h1M16 363.5h1m7 0h1m25 0h1m18 0h1m2 0h1m21 0h1m2 0h1m2 0h2m4 0h1m12 0h1m1 0h1M5 362.5h2m3 0h1m8 0h1m21 0h1m17 0h1m17 0h1m2 0h1m22 0h1m17 0h1m8 0h1M32 361.5h1m9 0h1m22 0h2m9 0h2m15 0h1M20 360.5h1m10 0h1m1 0h1m21 0h1m18 0h1m8 0h1m31 0h1M37 359.5h1m3 0h1m38 0h1m3 0h1m3 0h1m2 0h1m4 0h1m5 0h1m4 0h1m3 0h1m1 0h1m5 0h1m35 0h1M16 358.5h1m20 0h1m15 0h1m20 0h1m28 0h1m51 0h1M6 357.5h1m3 0h1m5 0h1m27 0h1m29 0h1m32 0h1M14 356.5h1m36 0h1m5 0h1m9 0h2m6 0h1m34 0h1m14 0h1m9 0h1m9 0h1M12 355.5h2m8 0h1m22 0h1m2 0h1m6 0h1m65 0h1M9 354.5h1m10 0h1m5 0h1m1 0h1m29 0h1m2 0h1m3 0h1m38 0h1m6 0h1m38 0h1M56 353.5h1m16 0h1m9 0h1m37 0h1M33 352.5h1m1 0h1m9 0h1m4 0h1m8 0h2m11 0h1m3 0h1m1 0h1m9 0h1m2 0h1m3 0h1m10 0h1m10 0h1m17 0h1M24 351.5h1m15 0h1m15 0h1m18 0h1m8 0h1m15 0h1m1 0h1m14 0h1M7 350.5h1m29 0h1m39 0h1m12 0h1m22 0h1m7 0h1M9 349.5h1m22 0h1m10 0h1m27 0h1m9 0h1m19 0h1M5 348.5h1m2 0h1m3 0h1m8 0h1m10 0h1m54 0h1m8 0h1m7 0h1M5 347.5h1m3 0h1m6 0h1m8 0h1m30 0h1M7 346.5h1m10 0h1m31 0h1m8 0h1m31 0h1m12 0h1m40 0h1M41 345.5h1m26 0h1m5 0h1m3 0h1m8 0h1m10 0h1m9 0h1m16 0h1M16 344.5h1m6 0h2m6 0h1m8 0h1m29 0h1m14 0h1m3 0h1m18 0h1m36 0h1m9 0h1M11 343.5h1m2 0h1m3 0h1m12 0h1m14 0h1m12 0h1m8 0h1m22 0h1m1 0h1m5 0h1m6 0h1m10 0h1M28 342.5h1m9 0h1m21 0h1m15 0h1m24 0h1m1 0h1m2 0h1m1 0h1M5 341.5h1m2 0h1m19 0h1m15 0h1m2 0h1m5 0h1m2 0h1m1 0h1m5 0h1m10 0h1m30 0h1m4 0h1m3 0h1M20 340.5h1m2 0h1m15 0h1m2 0h1m17 0h1m9 0h1m6 0h1m15 0h1m1 0h1m13 0h1M14 339.5h2m36 0h1m9 0h1m21 0h1m6 0h1m5 0h1m6 0h1m1 0h1m18 0h1M7 338.5h1m31 0h1m12 0h1m41 0h1m20 0h1M7 337.5h1m8 0h1m18 0h1m18 0h1m14 0h1m8 0h1m1 0h1m25 0h1m18 0h1m4 0h1M15 336.5h1m13 0h1m5 0h1m9 0h1m17 0h1m3 0h1m10 0h1m20 0h1m4 0h1m16 0h1M13 335.5h1m13 0h1m5 0h1m28 0h2m16 0h2m22 0h1M13 334.5h1m4 0h1m1 0h1m1 0h1m14 0h1m14 0h2m31 0h1m12 0h1m10 0h1M40 333.5h1m4 0h1m15 0h1m22 0h1m3 0h1m4 0h1m4 0h1m4 0h1m4 0h1M39 332.5h1m18 0h1m25 0h1M33 331.5h1m7 0h1m15 0h3m4 0h2m1 0h1m1 0h1m2 0h1m8 0h2m2 0h2m3 0h1m16 0h1M8 330.5h2m30 0h3m4 0h1m2 0h1m1 0h1m11 0h1m2 0h1m1 0h1m6 0h1m22 0h1m45 0h1M6 329.5h1m2 0h1m19 0h1m2 0h1m11 0h1m13 0h1m9 0h1m6 0h1m39 0h1M38 328.5h2m3 0h1m15 0h1m14 0h1m2 0h1m23 0h1m1 0h1M15 327.5h1m9 0h1m12 0h2m20 0h1m35 0h1M6 326.5h1m3 0h1m2 0h1m2 0h2m14 0h2m6 0h1m20 0h1m4 0h1m16 0h1m3 0h1m5 0h1M18 325.5h1m9 0h1m2 0h1m1 0h1m40 0h1m5 0h1m24 0h2m8 0h1m3 0h1m25 0h1M23 324.5h1m8 0h2m28 0h1m38 0h1m4 0h1m1 0h1m10 0h1m1 0h1m1 0h1M14 323.5h1m8 0h1m18 0h1m19 0h1m21 0h1M12 322.5h1m2 0h1m37 0h1m3 0h1m14 0h1m1 0h2m26 0h1m18 0h1M7 321.5h1m14 0h1m35 0h1m4 0h1m25 0h1m6 0h1m28 0h1m4 0h1M56 320.5h1m25 0h1m3 0h1m20 0h2m21 0h1M19 319.5h1m6 0h1m27 0h1m17 0h1m3 0h1m23 0h1m6 0h1m7 0h1M47 318.5h1m13 0h1m7 0h1m2 0h1M19 317.5h1m1 0h1m28 0h1m47 0h1m3 0h1m42 0h1M31 316.5h1m5 0h1m15 0h1m4 0h1m20 0h1m70 0h1M21 315.5h1m50 0h1M15 314.5h1m2 0h1m1 0h1m5 0h1m6 0h1m3 0h1m26 0h1m32 0h1m17 0h1M6 313.5h1m2 0h1m2 0h1m29 0h2m3 0h1m22 0h2m7 0h1m9 0h1m6 0h1m7 0h1M12 312.5h1m33 0h1m4 0h1m18 0h1m21 0h1m11 0h1m10 0h1m19 0h1M26 311.5h1m7 0h2m12 0h1m45 0h1m1 0h1m13 0h1m29 0h1M18 310.5h1m39 0h1m19 0h1m6 0h1m3 0h1m4 0h1M38 309.5h1m1 0h1m17 0h1m1 0h1m6 0h2m3 0h1m13 0h1m6 0h1m4 0h1m11 0h2m3 0h1M20 308.5h1m3 0h1m29 0h1m3 0h1m1 0h1m6 0h2m1 0h1m4 0h1m9 0h1m5 0h1m14 0h1m4 0h1m43 0h1M6 307.5h1m20 0h1m11 0h1m5 0h1m3 0h1m8 0h2m2 0h1m34 0h1m13 0h1M7 306.5h1m14 0h1m8 0h1m14 0h1m2 0h1m27 0h1m3 0h1m20 0h1M7 305.5h1m2 0h1m23 0h1m21 0h1m1 0h1m4 0h1m5 0h1m24 0h1m12 0h2m8 0h1m3 0h1M29 304.5h1m14 0h1m5 0h1m12 0h1m34 0h1m24 0h1M26 303.5h1m21 0h1m12 0h1m5 0h1m18 0h1m3 0h1m1 0h1m13 0h1m33 0h1M20 302.5h1m2 0h1m9 0h1m35 0h1m4 0h1m17 0h1m4 0h1m9 0h1m7 0h1m9 0h1M13 301.5h2m4 0h1m15 0h1m1 0h1m12 0h1m9 0h2m33 0h1m12 0h1M42 300.5h1m33 0h1m4 0h1m14 0h1m12 0h1M25 299.5h1m5 0h1m4 0h1m7 0h1m1 0h1m13 0h1m64 0h1m24 0h1m4 0h1M10 298.5h1m6 0h1m16 0h1m4 0h1m9 0h1m6 0h1m5 0h1m2 0h1m10 0h1m15 0h1m4 0h1M12 297.5h1m4 0h1m12 0h2m4 0h1m19 0h1m5 0h1m20 0h1m22 0h1M26 296.5h1m6 0h1m15 0h2m29 0h2m9 0h1m12 0h1m12 0h1m7 0h1m29 0h1M6 295.5h1m6 0h1m17 0h1m4 0h2m1 0h1m5 0h1m47 0h1m31 0h1m9 0h1M13 294.5h1m23 0h1m3 0h1m3 0h1m11 0h1m12 0h1m1 0h1m26 0h1m55 0h1M7 293.5h1m9 0h1m2 0h1m1 0h1m36 0h1m5 0h1m10 0h1m2 0h1m16 0h1m2 0h1m3 0h1m21 0h1M16 292.5h1m4 0h1m13 0h1m9 0h1m1 0h1m4 0h2m18 0h1m34 0h2M13 291.5h1m7 0h1m20 0h2m8 0h1m82 0h1M20 290.5h1m20 0h1m16 0h1m19 0h1m25 0h1m8 0h1M19 289.5h1m12 0h1m32 0h1m5 0h1m21 0h1m17 0h1m1 0h1m36 0h1M10 288.5h1m1 0h1m18 0h1m3 0h1m55 0h1m17 0h2M14 287.5h1m2 0h2m10 0h1m17 0h1m12 0h1m1 0h1m22 0h1m3 0h1m1 0h1m5 0h1m10 0h1M31 286.5h1m7 0h1m7 0h1m8 0h1m19 0h1m4 0h1m1 0h1m23 0h1m15 0h1M5 285.5h1m6 0h1m5 0h1m34 0h1m10 0h1m23 0h1m20 0h1m13 0h1m31 0h1M14 284.5h1m1 0h1m1 0h1m5 0h1m19 0h1m1 0h1m4 0h1m8 0h1m12 0h1m19 0h1m10 0h1M29 283.5h1m8 0h1m30 0h2m10 0h1m11 0h2m4 0h1m11 0h1M13 282.5h1m15 0h1m6 0h1m4 0h1m12 0h1m14 0h1m8 0h1m19 0h1M9 281.5h1m5 0h2m14 0h1m35 0h1m6 0h1m26 0h1m19 0h1m13 0h1M8 280.5h1m4 0h1m4 0h1m23 0h1m12 0h1m67 0h1M6 279.5h1m13 0h1m5 0h1m8 0h1m5 0h1m18 0h1m28 0h1m21 0h1m38 0h1M5 278.5h1m39 0h1m12 0h1m11 0h1m6 0h2m2 0h1m5 0h1m8 0h1m10 0h1M11 277.5h1m20 0h1m13 0h1m59 0h1m10 0h1M6 276.5h1m8 0h1m1 0h1m5 0h1m26 0h1m28 0h1m65 0h1M7 275.5h1m21 0h1m8 0h1m71 0h1m24 0h1M15 274.5h1m32 0h1m36 0h1m6 0h1m9 0h1m14 0h1m32 0h1m4 0h1M28 273.5h1m39 0h1m2 0h1m2 0h1m15 0h2m6 0h1m3 0h1M26 272.5h1m19 0h1m6 0h1m14 0h1m3 0h1m15 0h1m5 0h1m60 0h1M9 271.5h1m11 0h1m52 0h1m1 0h1m7 0h1M23 270.5h1m9 0h1m13 0h1m16 0h1m1 0h1m4 0h1m31 0h1m4 0h1M5 269.5h1m14 0h1m11 0h1m1 0h1m6 0h1m6 0h1m20 0h1m4 0h1m1 0h2m8 0h1m6 0h1m25 0h1M12 268.5h1m3 0h1m11 0h1m1 0h1m21 0h1m6 0h1m6 0h1m1 0h2m2 0h1m57 0h1M5 267.5h1m10 0h1m1 0h1m1 0h1m21 0h3m7 0h1m2 0h1m1 0h1m2 0h1m3 0h1m15 0h1m20 0h1m15 0h1M26 266.5h1m1 0h1m13 0h1m1 0h1m3 0h1m14 0h1m8 0h1m33 0h2m2 0h1m34 0h1M7 265.5h1m3 0h1m8 0h1m32 0h1m43 0h1m2 0h1m8 0h1m11 0h1M11 264.5h1m12 0h1m14 0h1m10 0h1m14 0h1m6 0h1m13 0h1m11 0h1m41 0h1M55 263.5h1m5 0h1m27 0h1m19 0h1M7 262.5h2m1 0h1m3 0h1m6 0h1m4 0h1m3 0h1m4 0h1m15 0h1m10 0h1m19 0h1m5 0h1m10 0h1m3 0h1m6 0h1M16 261.5h1m17 0h1m24 0h1m8 0h1m19 0h1m5 0h1m18 0h1M5 260.5h1m45 0h1m1 0h1m26 0h1m24 0h1M27 259.5h1m18 0h1m11 0h1m6 0h1m8 0h1m38 0h1M12 258.5h1m5 0h1m13 0h1m2 0h1m11 0h1m1 0h1m45 0h1M10 257.5h1m2 0h1m15 0h1m25 0h1m3 0h1m3 0h2m13 0h1m16 0h1m5 0h1M8 256.5h1m12 0h1m16 0h2m3 0h1m17 0h1m12 0h1m8 0h2m3 0h1m4 0h1m15 0h1m13 0h1M15 255.5h1m6 0h1m9 0h1m8 0h1m17 0h1m8 0h1m7 0h1m15 0h1m13 0h1m4 0h1m5 0h1M11 254.5h1m39 0h1m17 0h1m8 0h1m4 0h1m3 0h1m4 0h1m5 0h1m4 0h1M30 253.5h1m13 0h1m18 0h1m4 0h1m1 0h1m1 0h1m19 0h1m1 0h1m6 0h1m5 0h1m13 0h1M15 252.5h1m6 0h1m5 0h1m9 0h2m4 0h1m6 0h1m24 0h1m8 0h1m1 0h1m9 0h1m5 0h1m5 0h1m30 0h1M42 251.5h1m27 0h1m10 0h1m2 0h1m50 0h1m4 0h1M23 250.5h1m8 0h1m88 0h1M10 249.5h1m28 0h1m20 0h2m4 0h1m20 0h1m21 0h1M17 248.5h1m29 0h1m5 0h1m9 0h1m42 0h1m43 0h1M23 247.5h1m8 0h1m4 0h1m12 0h1m33 0h1m2 0h1m16 0h1m4 0h1M13 246.5h1m11 0h1m3 0h1m49 0h1m9 0h1m1 0h1M10 245.5h1m3 0h1m2 0h1m7 0h1m25 0h1m5 0h1m17 0h1m5 0h3m5 0h1m3 0h1m15 0h1M10 244.5h3m34 0h2m6 0h1m1 0h1m3 0h1m3 0h1m7 0h1m4 0h1m8 0h1m6 0h1m1 0h1m2 0h1m3 0h1m9 0h1m16 0h1M16 243.5h1m1 0h1m16 0h1m8 0h1m33 0h1m19 0h1M83 242.5h1m7 0h1m10 0h1M56 241.5h1m28 0h1m54 0h1M18 240.5h1m4 0h1m25 0h1m6 0h1m34 0h1m18 0h1m2 0h1m26 0h1M5 239.5h1m7 0h1m18 0h1m28 0h1m13 0h1m45 0h1m8 0h1m4 0h1m14 0h1M5 238.5h1m3 0h1m4 0h1m2 0h1m50 0h1m14 0h1m2 0h2m3 0h1m29 0h1m13 0h1M48 237.5h1m6 0h1m17 0h1m2 0h1m6 0h1m5 0h1m12 0h1m10 0h1m1 0h1M8 236.5h2m2 0h1m3 0h1m6 0h1m4 0h1m15 0h1m11 0h1m9 0h1m37 0h1m4 0h1m1 0h1M14 235.5h1m17 0h1m16 0h1m4 0h1m37 0h1m9 0h1m22 0h1M10 234.5h1m2 0h1m8 0h1m15 0h1m3 0h1m18 0h1m5 0h1m3 0h1m13 0h1m3 0h1M7 233.5h1m3 0h1m6 0h1m2 0h1m1 0h1m1 0h1m1 0h1m11 0h1m1 0h1m8 0h1m24 0h1m11 0h1m10 0h1m14 0h1m5 0h1m30 0h1M13 232.5h1m7 0h1m11 0h1m11 0h1m28 0h1m2 0h1m29 0h1m1 0h2M15 231.5h1m3 0h1m9 0h1m18 0h1m1 0h2m22 0h1m5 0h1m13 0h1m6 0h1m13 0h1M15 230.5h1m2 0h1m8 0h1m1 0h1m9 0h1m27 0h1m15 0h1m56 0h1M13 229.5h1m4 0h1m15 0h1m2 0h2m15 0h1m14 0h1m20 0h1m5 0h2m6 0h1m2 0h1m11 0h1M24 228.5h1m13 0h1m16 0h1m3 0h1m1 0h1m3 0h1m5 0h1m8 0h1m8 0h1m1 0h2m17 0h1m2 0h1m11 0h1M8 227.5h1m3 0h1m2 0h1m4 0h1m23 0h1m1 0h1m1 0h1m19 0h1m3 0h1m10 0h1m7 0h1M16 226.5h1m12 0h1m22 0h1m15 0h1m35 0h1m3 0h1M12 225.5h1m2 0h2m15 0h1m13 0h1m6 0h1m1 0h1m1 0h1m14 0h1m22 0h2m13 0h2M5 224.5h3m37 0h1m2 0h1m2 0h1m1 0h1m5 0h1m7 0h1m1 0h1m1 0h1m4 0h1m16 0h1m2 0h1m1 0h1m4 0h1M18 223.5h2m1 0h1m7 0h1m19 0h1m5 0h2m14 0h1m10 0h1m6 0h1M8 222.5h1m4 0h1m4 0h1m21 0h1m31 0h1m11 0h1m4 0h1m2 0h1m8 0h1m2 0h1m1 0h1M6 221.5h1m7 0h1m6 0h1m5 0h1m14 0h1m15 0h1m4 0h1m14 0h1m7 0h1m4 0h1m5 0h1m42 0h1M18 220.5h1m11 0h1m4 0h1m11 0h2m4 0h1m9 0h1m8 0h1m2 0h1m2 0h1m2 0h1m22 0h1m5 0h1m34 0h1M39 219.5h1m11 0h2m13 0h1m1 0h1m1 0h1m24 0h1m3 0h1m10 0h1m44 0h1M9 218.5h1m1 0h1m6 0h1m17 0h1m8 0h1m15 0h1m23 0h2m6 0h1m21 0h1M13 217.5h1m4 0h1m3 0h1m5 0h1m10 0h3m9 0h1m1 0h1m12 0h1m5 0h1m13 0h1m5 0h1m6 0h1m4 0h1m14 0h1m3 0h1M7 216.5h1m11 0h1m4 0h1m10 0h1m5 0h1m2 0h1m30 0h1m3 0h1m37 0h1M11 215.5h1m24 0h1m4 0h1m2 0h1m9 0h1m34 0h1m5 0h1m34 0h1M30 214.5h1m7 0h1m5 0h1m30 0h1m11 0h1m2 0h1m44 0h1M5 213.5h1m20 0h3m14 0h1m24 0h1m3 0h1m2 0h2m12 0h1m9 0h1m7 0h2M48 212.5h1m16 0h1m12 0h1m7 0h1m8 0h1m13 0h1m1 0h1m11 0h1M41 211.5h1m23 0h1m5 0h1m4 0h1m15 0h1m1 0h1m7 0h2m9 0h1m5 0h1m35 0h1M61 210.5h1m4 0h2m2 0h1m30 0h1m11 0h1m7 0h1M6 209.5h1m12 0h1m34 0h1m6 0h1m3 0h1m1 0h1m3 0h1m51 0h1M34 208.5h1m15 0h1m6 0h1m3 0h1m7 0h2m1 0h1m10 0h1m21 0h1m3 0h1m30 0h1M5 207.5h1m12 0h1m1 0h1m8 0h1m3 0h1m11 0h2m4 0h1m19 0h1m5 0h1m17 0h1M44 206.5h1m30 0h1m1 0h1m22 0h1m12 0h1m7 0h1M8 205.5h1m5 0h1m16 0h1m19 0h1m40 0h1m6 0h1m7 0h1m22 0h1M5 204.5h1m2 0h1m19 0h1m53 0h1m6 0h1m1 0h1m4 0h1m3 0h1m8 0h1m5 0h1m3 0h1M7 203.5h1m7 0h1m15 0h1m21 0h1m11 0h1m24 0h1m4 0h1M15 202.5h1m14 0h1m4 0h1m26 0h1m10 0h2m21 0h1m9 0h1m14 0h1m28 0h1M15 201.5h1m21 0h1m4 0h1m9 0h1m6 0h1m33 0h1m13 0h1M6 200.5h2m3 0h1m9 0h1m11 0h1m2 0h1m14 0h1m17 0h1m12 0h1m4 0h1m18 0h1m8 0h1M9 199.5h1m24 0h1m30 0h1m13 0h1m6 0h1m9 0h2m12 0h1m10 0h1m8 0h1M5 198.5h1m12 0h1m9 0h1m7 0h1m4 0h1m3 0h1m1 0h1m28 0h1m23 0h1m1 0h1m32 0h1M25 197.5h1m1 0h1m6 0h1m1 0h1m7 0h1m1 0h1m17 0h1m9 0h1m3 0h1m10 0h1m4 0h1m35 0h1M6 196.5h1m2 0h1m67 0h1m12 0h1m9 0h1m1 0h1m1 0h1m5 0h1m34 0h1M10 195.5h1m1 0h1m1 0h1m13 0h1m2 0h1m1 0h1m15 0h2m4 0h1m41 0h1m8 0h1M32 194.5h1m62 0h1m11 0h1M13 193.5h1m19 0h1m7 0h1m18 0h1m1 0h1m2 0h1m8 0h1m6 0h1m6 0h1m14 0h1m6 0h1m2 0h1M20 192.5h1m16 0h1m1 0h1m5 0h1m12 0h1m3 0h1m27 0h1m9 0h1m4 0h1m1 0h1m9 0h1M17 191.5h1m10 0h1m3 0h2m6 0h1m4 0h1m39 0h1m11 0h1m3 0h1m38 0h1M8 190.5h1m9 0h1m23 0h1m2 0h1m2 0h1m20 0h1m3 0h1m3 0h1m17 0h1m15 0h1M10 189.5h1m4 0h1m51 0h2m14 0h1m7 0h1m12 0h1m25 0h1M8 188.5h1m3 0h1m1 0h1m12 0h1m17 0h1m10 0h1m30 0h1m1 0h1m11 0h1m33 0h1M5 187.5h1m4 0h1m1 0h1m20 0h1m34 0h1m2 0h1m21 0h1M5 186.5h1m6 0h1m1 0h1m28 0h1m7 0h1m37 0h2m8 0h1m1 0h1m7 0h1M13 185.5h1m8 0h1m14 0h1m21 0h1m4 0h2m13 0h2m25 0h1m4 0h1m5 0h1m1 0h1M25 184.5h1m16 0h1m23 0h2m1 0h1m36 0h1m6 0h1m41 0h1M15 183.5h2m14 0h1m6 0h1m19 0h1m3 0h3m29 0h1M33 182.5h1m5 0h3m35 0h1m67 0h1M12 181.5h1m15 0h1m12 0h1m3 0h1m43 0h1m14 0h1M19 180.5h1m17 0h1m1 0h1m6 0h2m34 0h1m18 0h1m11 0h1m5 0h1m3 0h1m26 0h1M21 179.5h1m10 0h1m7 0h1m5 0h1m47 0h1m18 0h1M26 178.5h1m11 0h1m27 0h1m12 0h1m19 0h1m23 0h1M19 177.5h1m21 0h1m1 0h1m8 0h1m4 0h2m20 0h1m22 0h1m2 0h1m1 0h1m5 0h1M22 176.5h1m17 0h1m2 0h1m19 0h1m2 0h1m18 0h1m19 0h1m13 0h1m30 0h1M11 175.5h1m28 0h1m27 0h1m6 0h1M7 174.5h1m16 0h1m6 0h2m10 0h1m7 0h1m8 0h2m6 0h1m5 0h1m4 0h1m3 0h1m24 0h1M10 173.5h1m13 0h1m25 0h1m31 0h1m12 0h1m6 0h1m4 0h1M5 172.5h1m1 0h1m19 0h1m19 0h1m6 0h1m12 0h2m19 0h1M14 171.5h1m4 0h1m2 0h1m6 0h1m1 0h2m6 0h2m12 0h1m56 0h1m6 0h1m3 0h1M20 170.5h1m29 0h1m3 0h1m8 0h1m12 0h1m22 0h1m1 0h1m9 0h1M5 169.5h1m9 0h2m33 0h1m33 0h1m15 0h1M12 168.5h1m13 0h1m7 0h2m1 0h1m1 0h2m2 0h1m5 0h1m25 0h1m1 0h1m5 0h2m2 0h1M12 167.5h1m37 0h1m1 0h1m26 0h1M8 166.5h1m21 0h1m24 0h1m6 0h1m52 0h1m19 0h1M19 165.5h1m13 0h2m3 0h1m1 0h1m9 0h1M16 164.5h1m5 0h3m26 0h1m8 0h1m4 0h1m4 0h1m25 0h1m3 0h1m7 0h1m1 0h1M8 163.5h1m2 0h1m6 0h1m15 0h1m9 0h1m43 0h1m21 0h1m19 0h1M6 162.5h1m4 0h1m5 0h1m1 0h1m9 0h1m3 0h1m21 0h1m5 0h1m17 0h1m4 0h2m2 0h1m2 0h1M60 161.5h1m2 0h1m21 0h1m10 0h1m43 0h1M16 160.5h1m2 0h1m3 0h1m6 0h1m13 0h1m1 0h1m8 0h1m5 0h1m15 0h1m9 0h1m3 0h1m4 0h1m2 0h1m35 0h1M7 159.5h1m22 0h1m13 0h1m6 0h1m14 0h1m1 0h1m5 0h1m4 0h1m25 0h1m29 0h1M8 158.5h2m26 0h1m7 0h2m4 0h1m37 0h1m9 0h1m26 0h1M19 157.5h1m7 0h1m3 0h1m13 0h1m20 0h1m8 0h1m27 0h1m4 0h1m41 0h1M22 156.5h1m24 0h1m15 0h1m39 0h1m46 0h1M7 155.5h1m48 0h1m18 0h1m4 0h2m29 0h1M7 154.5h1m1 0h1m12 0h2m3 0h1m12 0h1m1 0h1m1 0h1m32 0h1m2 0h1m10 0h1m7 0h2m29 0h1m14 0h1M11 153.5h1m2 0h1m1 0h2m4 0h1m4 0h2m16 0h1m22 0h1m11 0h1m7 0h2m5 0h1m15 0h1m11 0h1m31 0h1M27 152.5h1m15 0h1m16 0h1m6 0h1m10 0h1m42 0h1m18 0h1M12 151.5h1m25 0h1m17 0h1m9 0h2m26 0h1m4 0h1m19 0h1M11 150.5h1m5 0h1m18 0h1m37 0h1m3 0h1m19 0h1m7 0h1m6 0h1M11 149.5h1m12 0h1m63 0h1m11 0h1m24 0h1m29 0h1M8 148.5h1m6 0h1m8 0h1m4 0h2m16 0h1m9 0h1m14 0h1m4 0h1m13 0h1m5 0h1m2 0h1m24 0h1m4 0h1M15 147.5h1m4 0h1m14 0h1m5 0h1m49 0h1M16 146.5h1m1 0h1m2 0h1m14 0h1m6 0h1M8 145.5h1m32 0h1m40 0h1m3 0h1m43 0h1m19 0h1M11 144.5h1m5 0h1m2 0h1m14 0h1m8 0h1m1 0h1m7 0h1m15 0h1m1 0h1m8 0h1m19 0h1M8 143.5h1m23 0h1m6 0h1m6 0h1m11 0h2m26 0h2m4 0h1m14 0h1M11 142.5h1m30 0h1m19 0h1m12 0h2m1 0h1m7 0h1m14 0h2m32 0h1M10 141.5h1m14 0h2m15 0h1m26 0h1m6 0h1m11 0h1m17 0h1m43 0h1M13 140.5h1m1 0h1m28 0h1m7 0h1m42 0h1m1 0h1m25 0h1m21 0h1M14 139.5h2m7 0h1m7 0h1m19 0h1m10 0h1m6 0h1m11 0h1m2 0h1m3 0h1m8 0h1m4 0h1m5 0h1M11 138.5h2m4 0h1m1 0h1m16 0h1m2 0h1m12 0h1m11 0h1m6 0h1m83 0h1M9 137.5h1m5 0h1m12 0h1m2 0h1m13 0h1m9 0h1m13 0h1m1 0h2m8 0h1m7 0h1m12 0h1m22 0h1m19 0h1M13 136.5h1m11 0h1m7 0h1m24 0h1m2 0h1m8 0h1m23 0h1m8 0h1m31 0h1M39 135.5h1m1 0h1m11 0h1m4 0h1m10 0h1m1 0h1m25 0h1m12 0h1M12 134.5h1m2 0h1m25 0h1m1 0h1m1 0h1m4 0h1m2 0h1m11 0h1m59 0h1M19 133.5h1m7 0h1m2 0h1m14 0h1m3 0h1m1 0h1m3 0h1m14 0h1m69 0h1M5 132.5h1m31 0h1m3 0h1m4 0h1m6 0h1m14 0h1m5 0h1m4 0h1m6 0h1m7 0h1m28 0h1M10 131.5h1m15 0h2m18 0h1m20 0h1m25 0h1m14 0h1m21 0h1M13 130.5h2m6 0h1m19 0h1m9 0h1m28 0h1m64 0h1m4 0h1M6 129.5h1m14 0h1m9 0h1m16 0h1m3 0h1m8 0h1m17 0h1m41 0h1M16 128.5h1m16 0h1m48 0h1m14 0h1m6 0h1m18 0h1M19 127.5h1m32 0h1m1 0h1m68 0h1m21 0h1M63 126.5h1m51 0h1m7 0h1m26 0h1M6 125.5h1m1 0h1m4 0h1m12 0h1m3 0h1m20 0h2m28 0h1m6 0h1m5 0h1m11 0h1m10 0h1m1 0h1M5 124.5h1m7 0h1m2 0h1m7 0h1m13 0h1m10 0h2m2 0h1m2 0h1m9 0h1m2 0h1m1 0h1m9 0h1m2 0h1m11 0h1m1 0h1m18 0h1m27 0h1M13 123.5h1m22 0h1m2 0h1m9 0h1m2 0h1m4 0h1m27 0h1m6 0h1m2 0h1m10 0h1M20 122.5h1m1 0h1m13 0h1m24 0h1m8 0h1m8 0h1m25 0h1M38 121.5h1m27 0h1m6 0h1m9 0h1m10 0h1m30 0h1M6 120.5h1m1 0h1m47 0h1m9 0h1m25 0h1m4 0h1M19 119.5h1m4 0h1m4 0h1m49 0h1m5 0h1m6 0h1m2 0h1m5 0h1m3 0h1m9 0h1m7 0h1M6 118.5h1m1 0h1m3 0h1m8 0h1m6 0h1m16 0h1m7 0h1m38 0h1m1 0h1m7 0h1m22 0h1m24 0h1M14 117.5h1m11 0h1m2 0h1m22 0h1m10 0h1m17 0h1m9 0h1m1 0h1m12 0h1M22 116.5h1m18 0h2m23 0h2m36 0h1M13 115.5h1m14 0h1m3 0h1m2 0h1m11 0h1m45 0h1m11 0h1m4 0h1M7 114.5h1m4 0h1m12 0h1m34 0h1m7 0h1m17 0h1m34 0h1M50 113.5h1m36 0h1M46 112.5h1m31 0h1m5 0h1m7 0h1m1 0h1m7 0h1m7 0h2m38 0h1M39 111.5h1m23 0h1m3 0h1m1 0h1m2 0h1m16 0h1m17 0h1m5 0h1m7 0h1m8 0h1m19 0h1M10 110.5h1m28 0h1m16 0h1m1 0h1m17 0h1m15 0h1m20 0h1m36 0h1M18 109.5h1m9 0h1m8 0h1m43 0h1m6 0h1m18 0h1m1 0h1m5 0h1m29 0h1M27 108.5h1m3 0h1m3 0h2m4 0h1m10 0h1m26 0h1m1 0h1m11 0h1m3 0h1m1 0h1m17 0h1m32 0h1M5 107.5h1m9 0h2m10 0h1m54 0h1m42 0h1m4 0h1M29 106.5h1m2 0h1m12 0h1m3 0h1m2 0h1m19 0h1m2 0h1m18 0h2m44 0h1m9 0h1M17 105.5h2m6 0h1m53 0h1m5 0h1m9 0h1m3 0h1m13 0h1m26 0h1m9 0h1M12 104.5h1m38 0h1m1 0h1m47 0h1m11 0h1M5 103.5h1m38 0h1m12 0h1m5 0h1m1 0h1m3 0h1m21 0h1m1 0h1m14 0h1M9 102.5h1m6 0h1m25 0h1m28 0h1m9 0h1m16 0h1m9 0h1m4 0h1m11 0h1M7 101.5h1m5 0h1m8 0h1m4 0h1m18 0h1m24 0h1m15 0h1m27 0h1M64 100.5h1m11 0h1m1 0h1m2 0h1m6 0h1m12 0h1M8 99.5h2m4 0h1m14 0h1m58 0h1M54 98.5h1m15 0h2m25 0h1m3 0h1m3 0h1m9 0h1m29 0h1M16 97.5h1m2 0h1m8 0h1m1 0h1m9 0h1m9 0h1m1 0h2m8 0h1m2 0h1m5 0h1m30 0h2m1 0h1m4 0h1M20 96.5h1m52 0h1m3 0h1m7 0h1m19 0h1m15 0h1M13 95.5h1m26 0h2m11 0h2m4 0h1m25 0h1m9 0h1m14 0h1M10 94.5h1m11 0h1m7 0h2m2 0h1m24 0h1m1 0h2m46 0h1M39 93.5h1m10 0h1m8 0h1m10 0h1m6 0h1m35 0h1m31 0h1M8 92.5h1m12 0h1m6 0h2m2 0h1m27 0h1m12 0h1m3 0h1m4 0h1M13 91.5h1m2 0h2m15 0h1m2 0h1m5 0h1m3 0h1m2 0h1m14 0h2m28 0h1m11 0h1m1 0h1m16 0h1M5 90.5h1m8 0h1m9 0h1m6 0h1m5 0h1m25 0h1m4 0h1m5 0h1m2 0h1m11 0h1m12 0h1m8 0h1m43 0h1M5 89.5h1m19 0h1m2 0h1m13 0h1m23 0h1m4 0h1m19 0h1m19 0h1m7 0h1m30 0h1M32 88.5h1m9 0h2m16 0h1m4 0h1m1 0h1m12 0h1M33 87.5h1m5 0h1m20 0h1m2 0h1m3 0h1m15 0h1m3 0h1M14 86.5h1m2 0h2m16 0h1m7 0h1m4 0h1m2 0h1m2 0h1m2 0h1m4 0h1m3 0h1m5 0h1m18 0h1M7 85.5h1m2 0h1m29 0h1m5 0h1m19 0h1m13 0h1m18 0h1m10 0h1m4 0h1m5 0h1M50 84.5h1m14 0h1m18 0h1m12 0h1m15 0h1m41 0h1M21 83.5h1m9 0h1m14 0h1m6 0h1m42 0h1M18 82.5h1m16 0h1m23 0h1m5 0h1m23 0h1m2 0h1m2 0h1m25 0h1m1 0h1M21 81.5h1m12 0h1m4 0h1m12 0h1m6 0h1m43 0h2m40 0h1M46 80.5h1m7 0h1m6 0h1m3 0h1m18 0h2m17 0h1M16 79.5h1m17 0h1m1 0h1m14 0h1m18 0h1m14 0h1m3 0h2m44 0h1m14 0h1M28 78.5h1m32 0h1m10 0h1m8 0h1m21 0h1m46 0h1M20 77.5h1m23 0h1m5 0h1m5 0h1m11 0h1m23 0h1m6 0h1m1 0h1M7 76.5h1m17 0h2m5 0h1m19 0h1m11 0h1m24 0h1m14 0h1m30 0h1M29 75.5h1m44 0h1m3 0h1m1 0h1m8 0h1m23 0h1M11 74.5h1m1 0h1m1 0h1m3 0h1m1 0h1m81 0h1m1 0h1m3 0h1M5 73.5h1m24 0h1m25 0h1m11 0h1m2 0h1m1 0h1m3 0h1m7 0h1m8 0h1m1 0h1M22 72.5h1m3 0h1m3 0h1m2 0h1m20 0h1m26 0h1M25 71.5h1m59 0h1m24 0h1m12 0h1M10 70.5h1m5 0h1m27 0h1m20 0h1m25 0h1m7 0h1m3 0h1m31 0h1M13 69.5h1m12 0h1m52 0h1m1 0h1m8 0h1M36 68.5h1m7 0h1m13 0h1m4 0h1m3 0h1m11 0h1m1 0h1m21 0h1m9 0h1m16 0h1m19 0h1M24 67.5h1m4 0h1m4 0h1m16 0h1m13 0h1m1 0h1m38 0h1m6 0h1M5 66.5h1m16 0h1m1 0h1m9 0h1m8 0h1m2 0h1m3 0h1m8 0h1m3 0h1m26 0h1m13 0h1m6 0h1m23 0h1M43 65.5h1m26 0h1m10 0h1m5 0h1m29 0h1M20 64.5h1m8 0h2m17 0h1m17 0h1m19 0h1m28 0h1M12 63.5h1m24 0h2m5 0h1m3 0h2m7 0h1m3 0h1m9 0h1m18 0h1m26 0h1m1 0h1m5 0h1m24 0h1M17 62.5h1m13 0h1m23 0h1m2 0h1m10 0h2m1 0h1m4 0h1M8 61.5h1m19 0h1m8 0h1m2 0h1m11 0h1m8 0h1m21 0h1m4 0h2m19 0h1m13 0h1m21 0h1m4 0h1M26 60.5h1m3 0h1m26 0h1m19 0h1m9 0h1m12 0h1m3 0h1m6 0h1m28 0h1m4 0h1M12 59.5h1m17 0h1m18 0h1m4 0h1m19 0h1m9 0h1m1 0h2m13 0h1m3 0h1m5 0h1m28 0h1M34 58.5h1m15 0h1m9 0h2m7 0h1m11 0h1m12 0h1M17 57.5h1m9 0h1m5 0h1m21 0h1m3 0h1m14 0h1m1 0h1m3 0h1m44 0h1m24 0h1M10 56.5h1m7 0h1m7 0h1m5 0h1m18 0h1m21 0h1m3 0h1m18 0h2m21 0h1M45 55.5h1m7 0h2m4 0h1m22 0h1m12 0h1m12 0h1m12 0h1m1 0h1M10 54.5h1m16 0h2m8 0h1m2 0h1m22 0h1M32 53.5h1m3 0h1m4 0h1m20 0h1m38 0h1m15 0h1m1 0h1m25 0h1M8 52.5h1m15 0h1m62 0h1m4 0h1m1 0h2m12 0h1M11 51.5h1m14 0h1m11 0h1m2 0h1m15 0h1m3 0h2m18 0h1m24 0h1m8 0h1M6 50.5h1m17 0h1m33 0h1m6 0h1m2 0h1m16 0h1m39 0h1M6 49.5h1m8 0h1m11 0h2m30 0h2m5 0h1m15 0h1m3 0h1m34 0h1m8 0h1M30 48.5h1m19 0h1m13 0h1m3 0h1m4 0h1m2 0h1m10 0h1m1 0h1M59 47.5h1m2 0h1m4 0h1m3 0h1m21 0h1M36 46.5h2m2 0h1m14 0h2m18 0h1m13 0h1m15 0h1M18 45.5h1m20 0h1m3 0h1m18 0h1m7 0h1m4 0h1m4 0h1m36 0h1M20 44.5h1m22 0h1m26 0h1m18 0h1m12 0h2m15 0h1M26 43.5h1m4 0h1m23 0h1m5 0h1m7 0h1m18 0h1m6 0h1m9 0h1m2 0h1m31 0h1M5 42.5h2m1 0h1m11 0h1m1 0h1m9 0h1m15 0h1m4 0h1m30 0h1m5 0h1m18 0h1m11 0h1m1 0h1m11 0h1M6 41.5h1m8 0h1m1 0h1m28 0h1m22 0h1m2 0h1m3 0h1m3 0h1m17 0h1m7 0h1m4 0h1M7 40.5h1m7 0h2m32 0h1m5 0h1m23 0h1m11 0h1m6 0h1m1 0h1m10 0h1M23 39.5h2m7 0h1m37 0h1m10 0h1m31 0h1m11 0h1M8 38.5h1m6 0h1m9 0h1m12 0h1m5 0h1m54 0h1m17 0h1m17 0h1M6 37.5h1m11 0h1m20 0h2m7 0h1m45 0h1m3 0h1M47 36.5h1m12 0h1m1 0h2m1 0h1m9 0h1m13 0h2m4 0h1m11 0h1m3 0h1m23 0h1M33 35.5h1m12 0h2m3 0h1m30 0h1m22 0h1m5 0h1m9 0h1m8 0h1M6 34.5h3m4 0h1m6 0h1m5 0h1m3 0h1m2 0h1m4 0h1m1 0h1m11 0h1m20 0h1m13 0h1m10 0h1m18 0h1M9 33.5h1m19 0h1m22 0h1m31 0h1M9 32.5h1m6 0h1m8 0h1m3 0h1m54 0h1m16 0h1m43 0h1M11 31.5h2m13 0h1m7 0h1m16 0h1m5 0h1m2 0h1m17 0h1m12 0h1m1 0h1m31 0h1M11 30.5h1m2 0h1m11 0h1m14 0h1m10 0h1m6 0h1m10 0h1m18 0h1m7 0h1m9 0h1m2 0h1m2 0h1M19 29.5h2m27 0h1m1 0h1m34 0h1m9 0h1m1 0h1M14 28.5h1m8 0h1m7 0h1m37 0h1m27 0h1m5 0h1M18 27.5h1m41 0h1m4 0h1m10 0h1M11 26.5h1m18 0h1m20 0h1m6 0h1m4 0h1m7 0h1M10 25.5h1m5 0h2m26 0h1m7 0h1m2 0h1m12 0h1m13 0h1m12 0h2M24 24.5h1m2 0h1m8 0h1m3 0h1m2 0h1m7 0h1m2 0h1m50 0h1m7 0h1M13 23.5h1m38 0h1m2 0h1m14 0h1m6 0h1m1 0h1m4 0h1m4 0h1m16 0h1m2 0h1M16 22.5h1m15 0h1m3 0h1m19 0h1m10 0h1m42 0h1M8 21.5h1m22 0h1m7 0h1m21 0h1m25 0h2M12 20.5h1m14 0h1m5 0h1m33 0h1m4 0h1m4 0h1m10 0h1m18 0h1M18 19.5h1m18 0h1m16 0h1m6 0h1m1 0h1m8 0h1m11 0h1m7 0h1m32 0h1M17 18.5h1m25 0h1m5 0h1m25 0h1m3 0h1m19 0h1m17 0h1m17 0h1M49 17.5h1m6 0h1m6 0h1m1 0h1m21 0h1m13 0h1M21 16.5h1m18 0h1m9 0h1m9 0h1m5 0h1m14 0h1m9 0h2m6 0h1m1 0h1m17 0h1m15 0h1M8 15.5h1m1 0h1m2 0h1m8 0h1m1 0h1m21 0h1m15 0h1m13 0h1m4 0h2m13 0h2m4 0h1m16 0h1M9 14.5h1m2 0h1m3 0h1m33 0h1m7 0h1m6 0h1m3 0h1m12 0h1m23 0h1m1 0h1m10 0h1M32 13.5h1m11 0h1m32 0h1m24 0h1m32 0h1M6 12.5h1m11 0h1m12 0h1m5 0h1m12 0h1m5 0h1m44 0h1M8 11.5h1m23 0h1m30 0h1m25 0h1m9 0h1m7 0h1m9 0h1M23 10.5h1m2 0h1m11 0h1m4 0h1m17 0h1m3 0h1m2 0h1m17 0h1m28 0h1M14 9.5h1m16 0h1m1 0h1m9 0h1m44 0h1m1 0h1M31 8.5h1m7 0h1m27 0h1m8 0h1m2 0h1m5 0h1m1 0h1m31 0h1M38 7.5h1m19 0h1m7 0h1m1 0h1m24 0h1m41 0h1m4 0h1M10 6.5h1m23 0h1m1 0h1m19 0h1m3 0h2m8 0h1m64 0h1M7 5.5h1m3 0h2m1 0h1m14 0h1m5 0h4m9 0h1m3 0h1m11 0h1m18 0h1m13 0h1m42 0h1M17 4.5h1m33 0h1m3 0h1m2 0h1m24 0h1m2 0h1m19 0h1M10 3.5h1m25 0h1m28 0h1m10 0h1m8 0h1M21 2.5h1m4 0h1m5 0h1m40 0h1m16 0h1m54 0h1M36 1.5h2m20 0h1m10 0h1m13 0h1m37 0h1m23 0h1M14 0.5h1m8 0h1m7 0h1m15 0h1m92 0h1"/>
<path stroke="#471365" d="M12 387.5h1M12 384.5h1m13 0h1M12 383.5h1m8 0h1m19 0h1m51 0h1M20 381.5h2m9 0h1m9 0h1m26 0h1m17 0h1m21 0h1m16 0h1M9 380.5h1m2 0h1m8 0h1M32 378.5h1m25 0h1m51 0h1M13 377.5h1m17 0h1m26 0h1m24 0h1M8 376.5h1m10 0h1m16 0h1m5 0h1m19 0h1m10 0h1m1 0h1m2 0h1m5 0h1m14 0h1M20 375.5h1m54 0h1m28 0h2m4 0h1m10 0h1M35 374.5h1m2 0h1m15 0h1m4 0h1m30 0h1m28 0h1m30 0h1M14 373.5h1m12 0h1m4 0h1m6 0h1m9 0h1m14 0h1m11 0h1m1 0h1m2 0h1m15 0h1m57 0h1M20 372.5h1m8 0h1m26 0h1m19 0h1m6 0h1m13 0h1m6 0h1M5 371.5h1m22 0h1m11 0h1m33 0h1m35 0h1m2 0h1m11 0h1M10 370.5h2m2 0h1m3 0h1m43 0h1m4 0h1m3 0h1m6 0h1m8 0h2m4 0h1m21 0h1m9 0h1M5 369.5h1m10 0h1m1 0h1m10 0h2m5 0h1m28 0h1m1 0h1m3 0h1m24 0h1M6 368.5h1m11 0h1m18 0h1m11 0h1m2 0h1m34 0h1m9 0h1m19 0h1m7 0h1M6 367.5h1m34 0h1m3 0h1m75 0h1m1 0h1M61 366.5h1m4 0h1m5 0h2m2 0h1m22 0h1m9 0h1m11 0h1M6 365.5h1m11 0h1m37 0h1m28 0h1m2 0h1m8 0h1m47 0h1m4 0h1M8 364.5h1m5 0h1m3 0h1m27 0h1m8 0h1m14 0h1m15 0h1m22 0h1m35 0h1M14 363.5h1m7 0h1m15 0h1m3 0h1m14 0h1m4 0h1m17 0h2M45 362.5h1m26 0h1m1 0h1m8 0h1m3 0h1m5 0h1m10 0h1m6 0h1M6 361.5h1m8 0h1m1 0h1m5 0h1m4 0h1m14 0h1m3 0h1m5 0h1m1 0h1m11 0h2m71 0h1M9 360.5h1m17 0h1m11 0h1m9 0h1m15 0h1m9 0h1m2 0h1m1 0h1m10 0h1m3 0h1m4 0h1m49 0h1M9 359.5h2m17 0h1m23 0h1m53 0h1m8 0h1M28 358.5h1m28 0h1m4 0h1m13 0h1m27 0h1m20 0h1M15 357.5h1m2 0h1m21 0h1m5 0h1m19 0h1m19 0h1m15 0h1m27 0h1M17 356.5h1m24 0h1m23 0h1m22 0h1m12 0h3m50 0h1M5 355.5h1m3 0h1m18 0h1m8 0h1m18 0h2m35 0h3m29 0h1m24 0h1m4 0h1M23 354.5h1m15 0h1m53 0h1M20 353.5h1m31 0h1m23 0h1m38 0h1m7 0h1M39 352.5h1m8 0h1m7 0h1m5 0h1m21 0h1m24 0h1m13 0h1M6 351.5h1m8 0h1m22 0h1m20 0h1m2 0h1M5 350.5h2m22 0h1m32 0h1m8 0h1m19 0h1m7 0h1M27 349.5h1m7 0h1m2 0h1m25 0h1m14 0h1m8 0h1m7 0h1M20 348.5h1m1 0h1m2 0h2m14 0h1m21 0h1m9 0h1m3 0h1m30 0h1m4 0h1m1 0h1M18 347.5h1m46 0h1m4 0h1m14 0h1m3 0h1M17 346.5h1m8 0h1m28 0h1m1 0h1m9 0h1m42 0h2M18 345.5h1m12 0h1m21 0h1m6 0h1m20 0h1m4 0h1m7 0h1m8 0h1m2 0h1m28 0h1M6 344.5h1m1 0h1m5 0h1m68 0h1m13 0h1m13 0h1M21 343.5h1m2 0h1m1 0h2m59 0h1m1 0h1m12 0h1m42 0h1M14 342.5h1m3 0h1m8 0h1m6 0h1m37 0h2m10 0h1M63 341.5h1m1 0h1m22 0h1m6 0h1m27 0h1M57 340.5h1m21 0h1m1 0h2m1 0h1M36 339.5h1m10 0h1m19 0h1m5 0h1m8 0h2M31 338.5h1m1 0h1m35 0h1m10 0h1m2 0h1m1 0h1m10 0h1m3 0h1M23 337.5h1m27 0h1m5 0h1m1 0h1m29 0h1m6 0h2M8 336.5h1m29 0h1m7 0h1m2 0h1m10 0h1m19 0h1m2 0h1m5 0h1m7 0h2m36 0h1m14 0h1M7 335.5h1m22 0h1m25 0h1m10 0h1m4 0h1m1 0h1m3 0h1m30 0h1m1 0h1m9 0h1M15 334.5h1m45 0h1m3 0h1m16 0h1m1 0h1m45 0h1M7 333.5h1m12 0h1m11 0h1m23 0h1m15 0h1m16 0h1m1 0h1m7 0h1m17 0h1M37 332.5h1m4 0h1m23 0h1m18 0h1m7 0h1m10 0h1M6 331.5h1m17 0h1m4 0h1m13 0h1m5 0h2m44 0h1M24 330.5h1m4 0h1m7 0h1m8 0h1m6 0h1m18 0h1m29 0h1M11 329.5h1m10 0h1m5 0h1m16 0h1m38 0h1M17 328.5h1m4 0h1m7 0h1m5 0h1m23 0h1m4 0h1m2 0h1m7 0h1m3 0h1m1 0h1m15 0h1m31 0h1M20 327.5h1m40 0h1m19 0h1m6 0h1m9 0h1m4 0h1m11 0h1m7 0h1M25 326.5h1m23 0h1m7 0h1m7 0h1m25 0h2m4 0h1M26 325.5h1m10 0h1m44 0h1m7 0h2m19 0h1m5 0h1m12 0h1M5 324.5h1m1 0h1m10 0h1m28 0h1m31 0h1m10 0h1m6 0h1M21 323.5h1m6 0h1m20 0h1m27 0h1m7 0h2m24 0h1M10 322.5h1m8 0h1m1 0h1m6 0h1m12 0h1m27 0h1m9 0h1m2 0h1m26 0h1M24 321.5h1m3 0h2m15 0h1m11 0h1m8 0h1m1 0h1m4 0h1m27 0h1m8 0h1m2 0h1m1 0h1M12 320.5h1m1 0h2m48 0h1m18 0h1m3 0h1m2 0h1m1 0h1m3 0h1M5 319.5h1m41 0h1m19 0h1m7 0h1m2 0h1m1 0h1m16 0h1m27 0h1m29 0h1M19 318.5h1m15 0h1m5 0h1m14 0h1m52 0h3m3 0h1m1 0h1M6 317.5h1m17 0h1m69 0h1M17 316.5h1m9 0h1m5 0h2m12 0h1m1 0h1m2 0h1m9 0h1m62 0h1M28 315.5h1m5 0h1m1 0h1m10 0h1m12 0h1m29 0h1m4 0h2m2 0h1m2 0h1m7 0h1M21 314.5h1m12 0h1m1 0h1m11 0h1m14 0h1m20 0h1m6 0h1m14 0h1m4 0h1m7 0h1m10 0h1M24 313.5h1m2 0h1m35 0h1m11 0h1M10 312.5h1m5 0h1m7 0h1m4 0h1m7 0h1m48 0h1m9 0h1m2 0h1m25 0h1M32 311.5h1m47 0h1m3 0h1M9 310.5h1m10 0h1m1 0h1m10 0h1m7 0h2m7 0h1m2 0h1m11 0h1m3 0h1m6 0h1m18 0h1m39 0h1M11 309.5h1m15 0h1m85 0h1m26 0h1M11 308.5h1m14 0h1m13 0h1m18 0h1m22 0h1m4 0h1m14 0h1m6 0h2m2 0h1m16 0h1m9 0h1M66 307.5h1m4 0h1m5 0h1m14 0h1m7 0h1m7 0h1M5 306.5h1m13 0h1m115 0h1M25 305.5h1m12 0h1m52 0h1M7 304.5h2m63 0h1m7 0h2m20 0h1m6 0h1m11 0h1m18 0h1M38 303.5h1m6 0h1m5 0h1m14 0h1m46 0h1M12 302.5h1m3 0h1m20 0h1m3 0h1m2 0h1m3 0h2m14 0h1m34 0h1m17 0h1m3 0h1M44 301.5h1m11 0h1m6 0h1m66 0h1m24 0h1M8 300.5h1m15 0h1m24 0h1m5 0h1m3 0h1m9 0h1m24 0h1m3 0h1m4 0h1m3 0h2M27 299.5h1m2 0h1m10 0h1m17 0h1m9 0h1m39 0h1m1 0h1M21 298.5h1m15 0h2m32 0h1m10 0h1m8 0h1m1 0h1M5 297.5h1m18 0h1m29 0h1m5 0h1m7 0h1m1 0h1m3 0h1m1 0h1m19 0h1M9 296.5h1m25 0h1m20 0h1m3 0h1m5 0h1m32 0h1m21 0h1M14 295.5h1m10 0h1m3 0h1m19 0h1m34 0h1M28 294.5h1m4 0h1m9 0h1m12 0h1m1 0h1m31 0h1m39 0h1m14 0h1m4 0h1M12 293.5h1m3 0h1m34 0h1m14 0h1m1 0h1m11 0h1m36 0h1M30 292.5h1m33 0h1m23 0h1m41 0h1M8 291.5h1m23 0h1m5 0h1m39 0h1m7 0h1m17 0h1M5 290.5h1m12 0h1m6 0h1m14 0h1m25 0h2m8 0h1m2 0h1m4 0h1M18 289.5h1m3 0h1m23 0h1m33 0h1m3 0h1m9 0h1m2 0h1M26 288.5h1m1 0h1m13 0h1m7 0h1m33 0h1m1 0h1m2 0h1m3 0h1M39 287.5h2m29 0h1m16 0h1m15 0h2m18 0h1M19 286.5h1m1 0h1m15 0h1m16 0h1m12 0h1m2 0h1m2 0h1m4 0h2m24 0h1m8 0h1M21 285.5h1m14 0h1m10 0h1m6 0h1m1 0h1m3 0h1m9 0h1m1 0h1m4 0h1m30 0h1M8 284.5h1m11 0h1m5 0h1m6 0h1m58 0h1m6 0h1m21 0h1m28 0h1M16 283.5h1m25 0h1m8 0h1m6 0h1m6 0h1m21 0h1m12 0h1m4 0h1m3 0h1M8 282.5h1m81 0h1m14 0h1m13 0h1M8 281.5h1m2 0h1m35 0h1m9 0h1m4 0h1m21 0h1m2 0h1m8 0h1m5 0h1m2 0h1m13 0h1m20 0h1M83 280.5h1m14 0h1m16 0h1m19 0h1M8 279.5h1m53 0h1m1 0h1m11 0h1m1 0h1m1 0h1m10 0h1m2 0h1m18 0h1m7 0h1m23 0h1M8 278.5h1m2 0h1m23 0h1m14 0h1m11 0h1m11 0h1m1 0h1m9 0h1m4 0h1m43 0h1M57 277.5h1m1 0h1m7 0h1m24 0h1m11 0h2m7 0h1m9 0h1m26 0h1M22 276.5h1m9 0h1m1 0h1m10 0h1m2 0h1m34 0h1m1 0h1m23 0h1m40 0h1M8 275.5h1m9 0h2m6 0h1m3 0h1m6 0h1m7 0h1m5 0h1m4 0h1m26 0h1m46 0h1M61 274.5h1m7 0h1m13 0h1M9 273.5h1m28 0h1m7 0h1m4 0h1m11 0h1m2 0h1m6 0h1m20 0h1m16 0h1m7 0h1m10 0h1M17 272.5h1m60 0h1m14 0h1m4 0h1M70 271.5h1m16 0h1m1 0h1m14 0h1M10 270.5h1m2 0h1m4 0h1m6 0h1m1 0h1m11 0h1m6 0h1m1 0h1m6 0h1m18 0h2M19 269.5h1m37 0h1m13 0h1m18 0h1m20 0h1m3 0h1M8 268.5h1m8 0h1m6 0h1m10 0h1m15 0h1m3 0h1m5 0h1m18 0h1m42 0h1M8 267.5h1m22 0h1m34 0h1m1 0h1m3 0h1m6 0h1m6 0h1m4 0h1m19 0h1m11 0h1m31 0h1M25 266.5h1m5 0h1m8 0h1m27 0h1m31 0h1m1 0h1m8 0h1M17 265.5h1m48 0h1m12 0h1m70 0h1M12 264.5h1m10 0h1m6 0h1m23 0h1m12 0h1m13 0h1m1 0h1m10 0h1m6 0h1m11 0h1m5 0h1M19 263.5h1m44 0h1m14 0h1M60 262.5h1m20 0h1m9 0h1m2 0h2M13 261.5h1m16 0h1m4 0h1m1 0h1m33 0h1m27 0h1M8 260.5h1m31 0h1m20 0h1M6 259.5h1m6 0h1m24 0h1m9 0h1m3 0h2m53 0h2m46 0h1M21 258.5h1m7 0h1m11 0h1m18 0h1m9 0h1m5 0h1m29 0h1M23 257.5h1m38 0h1m8 0h1m12 0h1m70 0h1M35 256.5h2m10 0h1m8 0h1m16 0h1m31 0h2m3 0h1m6 0h1M10 255.5h1m20 0h1m3 0h1m3 0h1m10 0h1m24 0h1m29 0h1M8 254.5h1m4 0h2m9 0h1m8 0h1m30 0h1m21 0h1m7 0h2M18 253.5h1m6 0h1m11 0h1m3 0h1m20 0h1m19 0h1m2 0h1m17 0h1m6 0h1M68 252.5h2m23 0h1m5 0h1m8 0h1M11 251.5h1m22 0h1m3 0h1m19 0h2m14 0h1m17 0h1m6 0h1m15 0h1M13 250.5h1m8 0h1m2 0h1m21 0h1m42 0h1m8 0h1m8 0h2m30 0h1M17 249.5h1m9 0h2m3 0h1m2 0h1m7 0h1m3 0h1m2 0h1m16 0h1m8 0h1m5 0h1m3 0h1m26 0h1M39 248.5h1m9 0h1m5 0h1m24 0h1m10 0h1m7 0h1M34 247.5h1m17 0h1m2 0h1m1 0h2m7 0h1m4 0h1m6 0h1m71 0h1M21 246.5h1m6 0h1m11 0h1m19 0h1m1 0h1m1 0h1m11 0h1m16 0h1m9 0h1m5 0h1m25 0h1M11 245.5h1m11 0h1m18 0h1m3 0h1m2 0h1m8 0h1m4 0h1m10 0h1m10 0h1M6 244.5h1m1 0h1m23 0h1m13 0h1m5 0h1m82 0h1M10 243.5h2m22 0h1m17 0h1m1 0h1m18 0h1m5 0h1m8 0h1m19 0h1m21 0h1m24 0h1M16 242.5h1m24 0h1m10 0h1m5 0h1m8 0h1m16 0h1m2 0h1m23 0h1m7 0h1m15 0h1M20 241.5h1m11 0h1m9 0h1m47 0h1m20 0h1m9 0h1M25 240.5h1m6 0h1m11 0h1m1 0h1m1 0h1m31 0h1m38 0h1M23 239.5h1m16 0h1m11 0h2m6 0h1m1 0h1m9 0h1m1 0h1m9 0h2m19 0h1m4 0h1m2 0h1M7 238.5h1m61 0h1m10 0h1m3 0h1m7 0h1m6 0h1m5 0h1M31 237.5h1m5 0h1m15 0h1m9 0h1m29 0h1m46 0h1M35 236.5h2m1 0h1m9 0h1m31 0h1m69 0h1M17 235.5h1m15 0h1m1 0h1m8 0h1m2 0h1m11 0h1m7 0h1m10 0h1m44 0h1m21 0h1M5 234.5h1m50 0h1m2 0h1m44 0h1M8 233.5h1m24 0h1m9 0h1m1 0h1m15 0h1m12 0h1m18 0h1m36 0h1M6 232.5h1m1 0h1m22 0h1m8 0h1m2 0h1m41 0h2m13 0h1m22 0h1M12 231.5h1m11 0h1m34 0h1m8 0h1m21 0h1M63 230.5h1m28 0h1m16 0h1M27 229.5h1m2 0h1m10 0h1m1 0h1m17 0h1m24 0h1m1 0h2m3 0h1m4 0h1m3 0h1m14 0h1M6 228.5h1m2 0h1m5 0h2m24 0h1m45 0h1m12 0h1m5 0h1M11 227.5h1m12 0h1m4 0h1m46 0h1m4 0h1m18 0h1m10 0h1M19 226.5h1m14 0h1m1 0h1m10 0h1m6 0h2m2 0h1m5 0h1m42 0h1m9 0h1m3 0h1M18 225.5h1m30 0h1m17 0h1m2 0h1m11 0h1M10 224.5h1m11 0h1m1 0h1m7 0h1m49 0h1m17 0h1m22 0h1M26 223.5h1m4 0h1m3 0h1m9 0h1m2 0h1m4 0h1m21 0h1m3 0h2m3 0h1m13 0h1m2 0h1m5 0h1M22 222.5h1m4 0h1m23 0h1m17 0h1m23 0h1M8 221.5h1m9 0h2m11 0h1m21 0h1m1 0h1m8 0h1m39 0h1m6 0h1m13 0h1M12 220.5h1m29 0h2m5 0h1m11 0h1m8 0h1m17 0h1m46 0h1m4 0h1M10 219.5h1m1 0h1m31 0h1m49 0h1m12 0h1m13 0h1m8 0h1M21 218.5h1m2 0h1m13 0h1m10 0h2m44 0h1M12 217.5h1m4 0h1m12 0h1m7 0h1m20 0h1m21 0h1m8 0h1m5 0h1m1 0h1m2 0h1M14 216.5h1m23 0h2m26 0h1m6 0h1m11 0h1m17 0h1M20 215.5h1m4 0h1m21 0h1M14 214.5h1m9 0h1m24 0h1m6 0h1m4 0h1m9 0h1m31 0h1m19 0h1M8 213.5h1m86 0h1M13 212.5h1m3 0h1m5 0h1m9 0h1m21 0h1m3 0h1m11 0h1m7 0h1m3 0h1m13 0h1m9 0h1M11 211.5h1m51 0h2m4 0h1m7 0h1m1 0h1m41 0h1m18 0h1M15 210.5h1m8 0h1m8 0h1m6 0h1m3 0h1m7 0h2m10 0h1m22 0h1m10 0h1m1 0h1m8 0h1M5 209.5h1m7 0h1m11 0h1m21 0h1m4 0h1m7 0h1m5 0h1m21 0h1m10 0h1m15 0h1M27 208.5h1m5 0h1m2 0h1m4 0h1m4 0h1m8 0h1m19 0h1m13 0h1m2 0h1m42 0h1M26 207.5h1m15 0h1m49 0h1m4 0h1m9 0h1m17 0h1M15 206.5h1m1 0h1m6 0h1m1 0h1m11 0h1m18 0h1m24 0h1m26 0h1M13 205.5h1m15 0h1m11 0h2m10 0h1m2 0h1m4 0h1m57 0h1M38 204.5h1m35 0h1m1 0h1m4 0h1m35 0h1m37 0h1M14 203.5h1m5 0h1m16 0h1m6 0h1m3 0h1m43 0h1M12 202.5h1m18 0h1m24 0h1m14 0h1m16 0h1m10 0h1m13 0h1M11 201.5h1m1 0h1m10 0h1m4 0h2m14 0h1m2 0h1m15 0h1m35 0h2M13 200.5h2m1 0h1m17 0h1m4 0h2m12 0h1m20 0h1M6 199.5h1m15 0h1m23 0h1m16 0h1m23 0h1m5 0h1m11 0h1M11 198.5h1m21 0h1m6 0h1m37 0h1m2 0h1m3 0h1m2 0h1m34 0h1M8 197.5h1m3 0h1m9 0h1m53 0h1m9 0h1m16 0h2M32 196.5h1m1 0h1m1 0h1m12 0h1m3 0h1m10 0h1m7 0h1m9 0h1m12 0h1m59 0h1M27 195.5h1m23 0h1m18 0h1m9 0h1m5 0h1m17 0h1m12 0h1M37 194.5h1m3 0h1m1 0h1m21 0h1m5 0h1m15 0h1m2 0h1m26 0h1M9 193.5h1m5 0h1m47 0h2m39 0h1m45 0h1M26 192.5h1m6 0h1m2 0h1m3 0h1m31 0h1m2 0h1m8 0h1m19 0h1m3 0h1m1 0h1M8 191.5h1m53 0h1m37 0h1M22 190.5h1m6 0h1m6 0h1m22 0h1m10 0h1m10 0h1m11 0h1m4 0h1m4 0h1m13 0h1M52 189.5h1m16 0h1m22 0h2m21 0h1m9 0h1M25 188.5h1m43 0h1m15 0h1m7 0h1M67 187.5h1m2 0h1m10 0h2m26 0h1M11 186.5h1m28 0h1m18 0h1m10 0h1m3 0h1m13 0h1m34 0h1m6 0h1M17 185.5h1m9 0h1m42 0h1m2 0h1m23 0h1M31 184.5h1m36 0h1m15 0h1m24 0h2M19 183.5h2m19 0h1m13 0h1m30 0h1m13 0h1m7 0h1m17 0h1M21 182.5h1m3 0h1m22 0h1m12 0h1m3 0h1m7 0h1m15 0h1m13 0h1m7 0h1m1 0h1M14 181.5h1m21 0h1m34 0h1m26 0h1m2 0h1M72 180.5h1m2 0h1m2 0h1m14 0h1m2 0h1m7 0h1m2 0h1M8 179.5h1m20 0h1m6 0h1m23 0h1m38 0h1m30 0h1M5 178.5h1m18 0h1m72 0h1m3 0h1m8 0h1M11 177.5h1m23 0h1m6 0h1m28 0h1m1 0h1m32 0h1m16 0h1M8 176.5h1m60 0h1m17 0h1m18 0h1M12 175.5h1m41 0h1m14 0h1m17 0h1m14 0h1m5 0h1m1 0h1m10 0h1M8 174.5h1m3 0h1m3 0h1m29 0h1m10 0h2m21 0h1m4 0h2m2 0h1m1 0h1m25 0h1m17 0h1m4 0h1m4 0h1M8 173.5h1m17 0h1m22 0h1m7 0h2m22 0h1m9 0h1m1 0h1m11 0h1m9 0h1m1 0h1m37 0h1M16 172.5h1m14 0h1m14 0h1m23 0h1m1 0h1m10 0h1m8 0h1m17 0h1m44 0h1M7 171.5h1m80 0h1m7 0h1m28 0h1m9 0h1M17 170.5h1m9 0h1m8 0h1m7 0h1m8 0h1M44 169.5h1m14 0h1m16 0h1m14 0h1m19 0h1m3 0h1m1 0h1m37 0h1M51 168.5h1m22 0h1m20 0h1m2 0h1m4 0h1m46 0h1M31 167.5h1m42 0h1m1 0h1M23 166.5h1m70 0h1m8 0h2m18 0h1M26 165.5h1m17 0h1m4 0h1m3 0h1m4 0h1m14 0h1m3 0h1m20 0h1M10 164.5h1m6 0h1m9 0h1m26 0h1m4 0h1m23 0h1m3 0h1m6 0h2m3 0h1m4 0h1m10 0h1m1 0h1m27 0h1M23 163.5h1m3 0h1m26 0h1m4 0h1m2 0h1m10 0h1m19 0h1M60 162.5h1m2 0h1m39 0h1m2 0h1m1 0h1m14 0h1m16 0h1M48 161.5h1m15 0h1m4 0h1m27 0h1m4 0h1M57 160.5h1m16 0h1m6 0h1M23 159.5h2m4 0h1m66 0h1m28 0h1m4 0h1M40 158.5h1m14 0h1m18 0h1m24 0h1m30 0h1M8 157.5h2m31 0h1m14 0h1m5 0h1m5 0h1m15 0h1m24 0h1m11 0h1M5 156.5h1m42 0h1m2 0h1m13 0h1m9 0h1m8 0h1m2 0h1m52 0h1M8 155.5h1m12 0h1m22 0h1m10 0h1m3 0h1m27 0h1m29 0h1M6 154.5h1m21 0h1m5 0h1m1 0h1m9 0h1m13 0h1m12 0h1m33 0h1m27 0h1M7 153.5h1m18 0h1m4 0h2m5 0h1m2 0h1m25 0h1m6 0h1m28 0h1m3 0h1M46 152.5h1m3 0h1m25 0h1m11 0h1M18 151.5h1m2 0h1m60 0h1m5 0h2m14 0h1M45 150.5h1m26 0h1m3 0h1m9 0h1m13 0h1m8 0h1m40 0h1M5 149.5h1m26 0h1m5 0h1m5 0h1m14 0h1m12 0h1m30 0h1m2 0h1m2 0h1m3 0h1M20 148.5h1m12 0h1m15 0h1m13 0h1m18 0h1m2 0h1m2 0h1m16 0h1m4 0h1m29 0h1M16 147.5h1m17 0h1m1 0h1m5 0h1m2 0h1m23 0h1m3 0h1m6 0h1M17 146.5h1m49 0h1m5 0h1m4 0h1m2 0h1M15 145.5h1m5 0h1m7 0h1m13 0h1m5 0h1m8 0h1m12 0h1m1 0h1m28 0h1m8 0h1M32 144.5h1m5 0h1m1 0h1m11 0h1M7 143.5h1m10 0h1m9 0h1m65 0h2m49 0h1M39 142.5h1m5 0h1m3 0h1m7 0h1m7 0h2m13 0h1m49 0h1M32 141.5h1m5 0h1m20 0h1m25 0h1m3 0h1m4 0h1m2 0h1m42 0h1M34 140.5h1m4 0h1m7 0h1m1 0h2m4 0h1m8 0h1m3 0h1m7 0h1m27 0h1m1 0h1m43 0h1M34 139.5h2m11 0h1m34 0h1m67 0h1M80 138.5h1m5 0h1m9 0h1m3 0h1m44 0h1M10 137.5h1m38 0h1m9 0h2m35 0h1M11 136.5h1m12 0h1m38 0h1m11 0h1m43 0h1M23 135.5h1m5 0h1m14 0h1m5 0h1m22 0h1m12 0h1m17 0h1m12 0h1m3 0h1M10 134.5h1m10 0h1m3 0h1m5 0h1m2 0h1m11 0h1m19 0h1m1 0h1m3 0h1m9 0h1m17 0h1M17 133.5h1m4 0h1m2 0h1m6 0h1m52 0h1m11 0h1m2 0h1m49 0h1M43 132.5h1m17 0h2m20 0h1m3 0h1m62 0h1M28 131.5h2m12 0h1m10 0h1m17 0h2m72 0h1M11 130.5h1m21 0h1m26 0h1m14 0h1m8 0h1m4 0h1m12 0h1M28 129.5h1m24 0h1m86 0h1m14 0h1M13 128.5h1m37 0h1m13 0h1m11 0h2m4 0h1m6 0h2m11 0h1m13 0h1m27 0h1m4 0h1M8 127.5h1m42 0h1m25 0h1m20 0h1m5 0h1m1 0h1m3 0h1M12 126.5h1m2 0h1m2 0h1m7 0h1m25 0h1m1 0h1m1 0h1m18 0h1m33 0h1m11 0h1M12 125.5h1m20 0h1m36 0h1m3 0h1m48 0h1M9 124.5h1m8 0h1m3 0h1m14 0h1m6 0h1m10 0h1m38 0h1m4 0h1M5 123.5h1m34 0h1m9 0h1m7 0h1m21 0h1m8 0h1m50 0h1m4 0h1M85 122.5h1m7 0h1m21 0h1M7 121.5h1m8 0h1m36 0h1m4 0h1m51 0h1m10 0h1m23 0h1m9 0h1M20 120.5h1m11 0h1m56 0h1m40 0h1m19 0h1M5 119.5h1m11 0h1m60 0h1m12 0h1M11 118.5h1m6 0h1m6 0h1m63 0h1m6 0h1m9 0h1M8 117.5h1m14 0h1m1 0h1m1 0h1m31 0h1m16 0h1m1 0h1m28 0h1m3 0h1M19 116.5h1m19 0h1m39 0h1m11 0h1m2 0h2m10 0h1m14 0h1m18 0h1m14 0h1M19 115.5h1m19 0h1m14 0h1m18 0h1m9 0h1m11 0h1m5 0h1m17 0h1m10 0h1M28 114.5h2m21 0h1m24 0h1m2 0h2m27 0h1M54 113.5h2m65 0h1M14 112.5h1m2 0h2m10 0h1m4 0h1m8 0h1m3 0h1m23 0h1m1 0h1m3 0h1m1 0h1m25 0h1m9 0h1m5 0h1m3 0h1m19 0h1M73 111.5h1m34 0h1M19 110.5h1m4 0h1m15 0h1m13 0h1m23 0h1m7 0h1m20 0h1m11 0h1m1 0h1m8 0h1M19 109.5h1m2 0h1m11 0h1m15 0h1m9 0h1m13 0h1m2 0h1m16 0h1m22 0h1M6 108.5h1m14 0h1m4 0h1m7 0h1m8 0h1m25 0h1m5 0h1m7 0h2m2 0h1M18 107.5h1m27 0h1m3 0h1m23 0h1m5 0h1m13 0h1m1 0h1m5 0h1m42 0h1M57 106.5h1m11 0h1m11 0h1m9 0h1m23 0h1M47 105.5h1m6 0h2m10 0h1m24 0h1M52 104.5h1m12 0h1m4 0h1m2 0h1m25 0h1m25 0h1m4 0h1M11 103.5h1m6 0h1m2 0h1m16 0h1m13 0h1m52 0h1m34 0h1m14 0h1M10 102.5h1m7 0h1m5 0h1m2 0h2m48 0h1m4 0h1M51 101.5h1m3 0h1m7 0h1m11 0h1m25 0h1m11 0h1m16 0h1m14 0h1M46 100.5h1m11 0h1m20 0h1m10 0h1m28 0h1M6 99.5h1m16 0h1m10 0h1m27 0h1m14 0h1m19 0h1m21 0h1M9 98.5h1m1 0h1m2 0h1m20 0h1m19 0h1m3 0h1m5 0h1m7 0h1m2 0h1m21 0h1M23 97.5h1m2 0h1m6 0h1m2 0h1m18 0h1m10 0h2m7 0h1m12 0h1M15 96.5h1m1 0h1m9 0h1m22 0h1m1 0h1m10 0h1m17 0h1m5 0h1M24 95.5h1m4 0h1m28 0h1m47 0h1m2 0h1m15 0h1M18 94.5h1m5 0h1m3 0h2m5 0h1m1 0h1m51 0h1m6 0h1m10 0h1m7 0h1M9 93.5h1m6 0h1m46 0h1m2 0h1m31 0h1m3 0h1m16 0h1M5 92.5h2m9 0h1m3 0h1m13 0h1m26 0h1m4 0h1m1 0h1m10 0h1m14 0h2m25 0h1M12 91.5h1m50 0h1m39 0h1m1 0h1m34 0h1M41 90.5h1m43 0h1m17 0h1m41 0h1M11 89.5h1m33 0h2m8 0h1m6 0h1m1 0h1m4 0h1m13 0h1m1 0h2m10 0h1M13 88.5h1m27 0h1m4 0h1m3 0h1m18 0h1m13 0h2m3 0h1m11 0h1m54 0h1M47 87.5h1m4 0h1m5 0h1m10 0h1m31 0h2m20 0h1M33 86.5h1m7 0h1m5 0h1m7 0h1m18 0h1m9 0h1m45 0h1m9 0h1M8 85.5h1m3 0h1m19 0h1m14 0h1m27 0h1m12 0h1m8 0h1m8 0h1m1 0h1m14 0h1M51 84.5h1m2 0h1m21 0h1m1 0h1m29 0h1m10 0h1M7 83.5h1m21 0h1m3 0h1m15 0h1m1 0h1m45 0h1m7 0h1M31 82.5h1m4 0h1m36 0h1m13 0h1m6 0h1m22 0h1M24 81.5h1m2 0h1m34 0h1m2 0h1m6 0h1m1 0h1M5 80.5h1m5 0h1m1 0h1m8 0h1m19 0h1m7 0h1m1 0h1m3 0h1m93 0h1M21 79.5h2m68 0h1m3 0h1m1 0h2m9 0h1m21 0h1M16 78.5h1m17 0h1m29 0h1m8 0h1m1 0h1m47 0h1m11 0h1m4 0h1m4 0h1M7 77.5h1m35 0h1m16 0h1m15 0h1m7 0h1m12 0h1m23 0h1m3 0h1M33 76.5h1m11 0h1m9 0h1m3 0h1m8 0h1m8 0h1m9 0h1m13 0h1m1 0h1M11 75.5h1m10 0h1m7 0h1m6 0h1m5 0h1m7 0h1m11 0h1m4 0h1m1 0h1M41 74.5h1m21 0h1m3 0h1m22 0h1m1 0h1M31 73.5h1m3 0h1m10 0h1m3 0h1m25 0h1m1 0h1m8 0h1M34 72.5h1m23 0h1m23 0h1m2 0h1m10 0h1m5 0h1m3 0h2M11 71.5h1m12 0h1m20 0h1m6 0h1m7 0h1m21 0h1m4 0h1m18 0h1M21 70.5h1m4 0h1m4 0h1m6 0h1m50 0h1m33 0h1m16 0h1M15 69.5h1m4 0h1m12 0h1m10 0h1m14 0h1m34 0h1m13 0h1m8 0h1M21 68.5h1m8 0h4m1 0h1m12 0h1m23 0h1m19 0h2m7 0h1M8 67.5h1m6 0h1m3 0h1m49 0h2m13 0h1m38 0h1m6 0h1M10 66.5h1m28 0h1m9 0h1m5 0h1m6 0h1m2 0h1m28 0h1m5 0h1m39 0h1M35 65.5h1m10 0h1m30 0h1m6 0h1m12 0h2m46 0h1M52 64.5h1m7 0h1m27 0h1m1 0h1m10 0h1m21 0h1m16 0h1M20 63.5h1m1 0h1m30 0h1m1 0h1m20 0h1m7 0h1m6 0h1m6 0h1m5 0h1M41 62.5h1m10 0h1m1 0h1m12 0h1m16 0h1m26 0h1m3 0h1M39 61.5h1m39 0h1m7 0h1m11 0h1M14 60.5h1m7 0h1m17 0h2m3 0h1m5 0h1m2 0h1m4 0h1m12 0h1m2 0h1m4 0h1m1 0h1m6 0h1m4 0h1m4 0h1m13 0h1M53 59.5h1m3 0h1m1 0h1m7 0h1m7 0h1m17 0h1m25 0h1m15 0h1M9 58.5h1m7 0h1m30 0h1m28 0h1m20 0h1m12 0h1m7 0h1m5 0h1m9 0h1M20 57.5h1m1 0h1m1 0h1m17 0h1m21 0h1m27 0h1m1 0h1m15 0h1M25 56.5h1m20 0h1m1 0h1m6 0h1m7 0h1m12 0h1m5 0h1m18 0h1m33 0h1M8 55.5h1m1 0h1m12 0h1m22 0h1m1 0h1m13 0h1m1 0h1m15 0h1m5 0h1m9 0h1m3 0h1m9 0h1M19 54.5h1m15 0h2m44 0h1m3 0h1m12 0h1m18 0h1m5 0h1M13 53.5h1m14 0h1m5 0h1m5 0h1m10 0h1m4 0h1m15 0h1m31 0h1m1 0h1m48 0h1M38 52.5h2m14 0h1m21 0h1m11 0h1m11 0h1m12 0h1M7 51.5h1m36 0h1m18 0h2m5 0h1m7 0h1m25 0h1M8 50.5h1m8 0h1m9 0h1m10 0h1m16 0h1M48 49.5h1m31 0h2m16 0h1m10 0h1M9 48.5h1m16 0h1m44 0h1m7 0h1m8 0h1m7 0h1m10 0h1m1 0h1m13 0h1m31 0h1M12 47.5h1m12 0h1m14 0h1m24 0h1m8 0h2m15 0h2m22 0h1m24 0h1M31 46.5h1m28 0h1m11 0h1m3 0h1m16 0h1m8 0h1m10 0h1m41 0h1M21 45.5h1m3 0h1m14 0h1m17 0h1m34 0h1M15 44.5h1m25 0h1m18 0h1m36 0h1m8 0h1m18 0h1m24 0h1M14 43.5h1m8 0h1m46 0h1m21 0h1m8 0h1m8 0h1m44 0h1M18 42.5h1m9 0h1m13 0h1m12 0h1m15 0h1m3 0h1m22 0h1m9 0h1m2 0h1m38 0h1M16 41.5h1m8 0h1m14 0h1m4 0h1m13 0h1m44 0h1m4 0h1M12 40.5h1m4 0h1m4 0h1m20 0h1m79 0h1M8 39.5h1m1 0h1m68 0h1m21 0h1m17 0h1M7 38.5h1m1 0h1m2 0h1m38 0h1m31 0h1m1 0h1m1 0h1m21 0h1M13 37.5h1m2 0h2m33 0h1m4 0h1m15 0h1m13 0h1m14 0h1m1 0h1m11 0h1m7 0h1m16 0h1M16 36.5h1m14 0h1m6 0h1m10 0h1m4 0h1m12 0h1m34 0h1M18 35.5h2m16 0h1m17 0h2m3 0h4m7 0h1m5 0h1M9 34.5h1m9 0h1m24 0h1m5 0h1m6 0h1m47 0h1m5 0h1M18 33.5h2m48 0h1m35 0h1m30 0h1m9 0h1M10 32.5h1m1 0h1m2 0h1m3 0h1m7 0h1m8 0h1m29 0h1m41 0h1m26 0h1M15 31.5h1m20 0h1m17 0h1m54 0h1M16 30.5h1m19 0h1m28 0h1m3 0h1m7 0h1m13 0h1m10 0h1m1 0h1M6 29.5h1m20 0h1m17 0h2m9 0h1m12 0h1m10 0h1m18 0h1M36 28.5h1m15 0h2m6 0h1m23 0h1m4 0h1m8 0h1m16 0h1M16 27.5h1m13 0h1m5 0h1m14 0h1m1 0h1m12 0h1m3 0h1m7 0h2m7 0h1m17 0h1m2 0h1m21 0h1M5 26.5h1m25 0h1m1 0h1m19 0h1m25 0h1m6 0h1m24 0h1m7 0h1M6 25.5h1m98 0h1M15 24.5h1m15 0h1m20 0h1m14 0h1m67 0h1M21 23.5h1m16 0h1m74 0h1m21 0h1M27 22.5h2m42 0h1m5 0h1m13 0h1m5 0h1M7 21.5h1m4 0h1m11 0h1m10 0h1m1 0h1m29 0h1m30 0h1M24 20.5h1m15 0h1m3 0h1m9 0h1m5 0h1m23 0h1m12 0h1m6 0h1m40 0h1M23 19.5h1m25 0h1m90 0h1M7 18.5h1m23 0h1m1 0h1m4 0h2m5 0h1m25 0h1m6 0h1m6 0h1m1 0h1m6 0h1m45 0h1M10 17.5h1m28 0h1m3 0h1m18 0h1m8 0h1m5 0h1m8 0h1m20 0h1m22 0h1M9 16.5h1m5 0h1m20 0h1m5 0h1m2 0h1m6 0h1m6 0h1m25 0h1m16 0h1m2 0h1m4 0h1m19 0h1M23 15.5h1m4 0h1m5 0h1m5 0h1m19 0h1m6 0h1m24 0h1m15 0h1m8 0h1M13 14.5h2m5 0h1m21 0h1m1 0h1m15 0h2m6 0h1m27 0h1m14 0h1M15 13.5h1m3 0h1m19 0h1m20 0h1m1 0h1m1 0h1m2 0h1M16 12.5h1m6 0h1m55 0h1m7 0h1m3 0h1m7 0h1m7 0h1m27 0h1M28 11.5h1m1 0h1m23 0h1m31 0h1m8 0h1m6 0h1m6 0h1m15 0h1M5 10.5h1m16 0h1m40 0h1m3 0h1M17 9.5h1m21 0h1m24 0h1m6 0h1m20 0h1m1 0h1m3 0h1m5 0h1M7 8.5h1m2 0h1m34 0h1m1 0h1m5 0h1m18 0h1m33 0h1M33 7.5h1m15 0h1m27 0h1m23 0h1M7 6.5h1m11 0h1m3 0h1m5 0h1m5 0h1m19 0h1m3 0h1m20 0h1m17 0h1m4 0h1m36 0h1M16 5.5h2m3 0h2m23 0h1m19 0h1m23 0h1m18 0h1M18 4.5h1m12 0h1m3 0h1m10 0h1m31 0h1m3 0h1m7 0h1m3 0h1m2 0h1m15 0h1m9 0h1m26 0h1M9 3.5h1m3 0h1m6 0h1m20 0h1m24 0h1m4 0h1m11 0h1m15 0h1m1 0h1m6 0h1m2 0h1M40 2.5h1m13 0h1m9 0h1m16 0h1m9 0h1m5 0h1m21 0h1M6 1.5h1m28 0h1m6 0h1m22 0h2m10 0h2m1 0h1m1 0h1m2 0h1m7 0h1m23 0h1M6 0.5h1m28 0h1m8 0h1m13 0h2m2 0h1m3 0h1m1 0h1m18 0h1m5 0h1m12 0h1m4 0h1m18 0h1m4 0h1"/>
<path stroke="#481a6c" d="M12 391.5h1M41 388.5h1M12 386.5h1m117 0h1M68 385.5h1M94 383.5h1M12 381.5h1m25 0h1m9 0h1m9 0h1m4 0h1m19 0h1m13 0h2m3 0h1m14 0h1M32 380.5h1m5 0h1m52 0h1m2 0h1M21 379.5h1m10 0h1m25 0h1M31 378.5h1m74 0h1M59 377.5h1m25 0h2M23 376.5h1m7 0h1m2 0h1m18 0h1m15 0h1m27 0h1m11 0h1m13 0h1M13 375.5h1m2 0h1m21 0h1m34 0h1m25 0h1m1 0h1M25 374.5h1m10 0h1m2 0h1m22 0h1m1 0h1m48 0h1m11 0h1m19 0h1M7 373.5h1m3 0h1m13 0h1m5 0h1m4 0h1m4 0h1m15 0h1m41 0h2m9 0h1M14 372.5h1m16 0h1m50 0h1m5 0h1m5 0h2m19 0h1m7 0h1M7 371.5h1m11 0h1m9 0h1m2 0h1m14 0h1m2 0h1m24 0h1m4 0h3m11 0h1m3 0h2m21 0h1m33 0h1M15 370.5h1m7 0h1m11 0h1m4 0h1m11 0h1m12 0h1m8 0h1m32 0h1m9 0h1m12 0h1M13 369.5h1m20 0h1m4 0h1m11 0h1m3 0h1m20 0h1m2 0h1m13 0h1M39 368.5h1m2 0h1m14 0h1m9 0h1m5 0h1m76 0h1M17 367.5h1m1 0h1m31 0h1m3 0h1m13 0h1m9 0h1m1 0h1m73 0h1M15 366.5h1m52 0h2m38 0h1M49 365.5h1m30 0h1m6 0h1m33 0h1m3 0h1M6 364.5h1m4 0h1m21 0h2m12 0h1m4 0h1m3 0h1m35 0h1m8 0h1M6 363.5h1m3 0h1m15 0h1m4 0h1m24 0h1m29 0h1m8 0h1m6 0h1M8 362.5h1m3 0h1m13 0h1m19 0h1m1 0h1m53 0h1m4 0h1M45 361.5h1m38 0h1m17 0h1M10 360.5h1m6 0h1m6 0h1m11 0h1m27 0h1m21 0h1M46 359.5h1m31 0h1m3 0h1m17 0h1m20 0h1M24 358.5h1m44 0h1m2 0h2m7 0h1m1 0h1M9 357.5h1m22 0h1m6 0h1m8 0h1m6 0h1m17 0h1m8 0h1M5 356.5h2m8 0h1m36 0h1m42 0h1m27 0h1M14 355.5h1m8 0h1m18 0h1m3 0h1m12 0h1m5 0h1m18 0h1m2 0h1M7 354.5h1m27 0h1m2 0h1m17 0h1m5 0h2m11 0h1m12 0h1m1 0h1m1 0h1m5 0h1M107 353.5h1M7 352.5h2m12 0h1m33 0h1M9 351.5h1m11 0h1m23 0h1m14 0h1m9 0h1m6 0h1m8 0h1m1 0h1m12 0h1m11 0h1M11 350.5h1m34 0h1m13 0h2m10 0h3m7 0h1m6 0h1m12 0h1m8 0h1M16 349.5h1m43 0h1m16 0h1m4 0h1m12 0h1m7 0h1m5 0h1m3 0h1m5 0h1M6 348.5h1m7 0h1m14 0h1m18 0h1m3 0h1m77 0h1M44 347.5h1m47 0h1m10 0h1m2 0h1M13 346.5h1m11 0h1m19 0h1m49 0h1m9 0h1m34 0h1m9 0h1m4 0h1M9 345.5h2m10 0h1m13 0h1m47 0h1m8 0h1m47 0h1M33 344.5h1m4 0h1m12 0h1m21 0h2m2 0h1m9 0h2m10 0h2m6 0h1m32 0h1M9 343.5h1m2 0h1m9 0h1m18 0h1m11 0h1m8 0h1m11 0h1m5 0h1m42 0h1M22 342.5h1m25 0h1m9 0h1m3 0h1m12 0h1m31 0h1m42 0h1M7 341.5h1m6 0h1m4 0h1m14 0h1m5 0h1m44 0h1m18 0h1m2 0h1m5 0h1M25 340.5h1m35 0h1m51 0h1M11 339.5h1m8 0h1m9 0h1m19 0h2m3 0h1m1 0h1m36 0h2m12 0h1m2 0h1m11 0h1M45 338.5h1m2 0h1m21 0h1m39 0h2M14 337.5h1m11 0h1m3 0h1m2 0h1m16 0h1m49 0h1m22 0h1M27 336.5h1m40 0h1m5 0h1m4 0h1m16 0h1m12 0h1m3 0h1M15 335.5h1m22 0h1m20 0h1m8 0h2M7 334.5h1m17 0h2m7 0h1m14 0h1m16 0h1m4 0h1m8 0h1m6 0h1m3 0h1M25 333.5h1m3 0h1m37 0h1m9 0h3m16 0h1m10 0h1m32 0h1M24 332.5h1m2 0h1m3 0h1m36 0h1m4 0h1m9 0h1m22 0h1m3 0h1M10 331.5h1m15 0h1m10 0h1m10 0h1M11 330.5h1m20 0h1m48 0h1m13 0h1m15 0h1m28 0h1M12 329.5h1m29 0h1m16 0h1m40 0h1M12 328.5h1m11 0h1m21 0h1m5 0h1m14 0h1m16 0h1M16 327.5h1m11 0h1m25 0h1m15 0h1m12 0h1M15 326.5h1m7 0h1m20 0h2m23 0h1m43 0h1M53 325.5h1m13 0h1m2 0h1m39 0h1M70 324.5h1m7 0h1m8 0h1M6 323.5h1m2 0h1m65 0h1m5 0h1m6 0h1m8 0h1m7 0h1M46 322.5h1m2 0h1m44 0h1m16 0h1m1 0h1m11 0h1m9 0h1M12 321.5h1m48 0h1m20 0h1m21 0h1m6 0h1M16 320.5h1m14 0h1m23 0h1m18 0h1m22 0h1m52 0h1M14 319.5h1m10 0h1m12 0h1m14 0h1m15 0h1m3 0h2m11 0h1m11 0h1M11 318.5h1m9 0h1m2 0h1m4 0h1m47 0h1m2 0h1M15 317.5h1m6 0h2m23 0h1m21 0h1m23 0h1m1 0h1m21 0h1m37 0h1M6 316.5h2m11 0h1m69 0h1m1 0h1m3 0h1m14 0h1M24 315.5h1m27 0h1m27 0h1m19 0h1M17 314.5h1m10 0h1m9 0h1m23 0h1m4 0h1m14 0h1m10 0h1m2 0h1m10 0h1m13 0h1M17 313.5h1m11 0h1m9 0h1m11 0h1m6 0h1m5 0h1m4 0h1m15 0h1m35 0h1m8 0h1M94 312.5h1m7 0h1m37 0h1M33 311.5h1m20 0h1m2 0h1M51 310.5h1m59 0h1M18 309.5h1m20 0h1m7 0h1m1 0h1m1 0h1m30 0h1M19 308.5h1m33 0h1m12 0h1m11 0h1M12 307.5h2m6 0h1m36 0h1m6 0h1m56 0h1M12 306.5h1m37 0h1m42 0h1m27 0h1M6 305.5h1m15 0h1m34 0h1m6 0h1m2 0h1m4 0h1m5 0h1m16 0h1m34 0h1m4 0h1M12 304.5h1m21 0h1m7 0h1m32 0h1m8 0h1m30 0h1m14 0h1m24 0h1M14 303.5h1m2 0h1m1 0h1m3 0h1m12 0h1m3 0h1m19 0h1m28 0h1m7 0h1M11 302.5h1m3 0h1m23 0h2m20 0h1m3 0h1m18 0h1M12 301.5h1m26 0h1m32 0h1m4 0h1m4 0h1m24 0h1m32 0h1M9 300.5h1m27 0h1m39 0h1M8 299.5h1m2 0h1m36 0h2m30 0h1m19 0h1m2 0h1M11 298.5h1m4 0h1m10 0h1m15 0h1m10 0h2m61 0h1M15 297.5h1m13 0h1m18 0h1m29 0h1m56 0h1M23 296.5h2m19 0h1m12 0h1m3 0h1m31 0h1M28 295.5h1m21 0h1m6 0h1m21 0h1m3 0h1m11 0h1m9 0h1m3 0h1M9 294.5h1m2 0h1m8 0h1m14 0h1m14 0h1m12 0h1m21 0h1m14 0h1m5 0h1M10 293.5h1m34 0h1m10 0h1m38 0h1m1 0h1m23 0h1M8 292.5h1m5 0h1m2 0h1m7 0h1m20 0h1m7 0h1m6 0h1m4 0h1m8 0h1m33 0h1m11 0h1M19 291.5h1m19 0h2m14 0h1m10 0h1m6 0h1m25 0h1m9 0h1m45 0h1M35 290.5h1m2 0h1m3 0h1m2 0h1m63 0h1m40 0h1M14 289.5h1m26 0h1m26 0h1m4 0h1m9 0h1m1 0h1m9 0h1M18 288.5h1m19 0h1m13 0h1m9 0h2m21 0h1m11 0h1m2 0h1M35 287.5h1m15 0h1m19 0h1m30 0h1m37 0h1M20 286.5h1m74 0h1m6 0h1M20 285.5h1m3 0h1m71 0h2m32 0h1M25 284.5h1m30 0h1m37 0h1m20 0h1M9 283.5h1m34 0h1m37 0h1m24 0h1M15 282.5h1m3 0h1m53 0h1m35 0h1m13 0h1M22 281.5h1m62 0h1m31 0h1M23 280.5h1m2 0h2m1 0h1m31 0h1m22 0h1m24 0h1M9 279.5h1m49 0h1m39 0h1M20 278.5h1m19 0h1m26 0h1m21 0h1m40 0h1M6 277.5h1m29 0h1m21 0h1m7 0h1m18 0h1m8 0h1m40 0h1M39 276.5h1m9 0h1m12 0h2m2 0h1m19 0h1m7 0h1m26 0h1M23 275.5h1m24 0h1m15 0h1m27 0h1m10 0h1m51 0h1M26 274.5h1m18 0h2m20 0h1m22 0h1m13 0h1m1 0h1m4 0h1m28 0h1M5 273.5h1m1 0h1m6 0h1m2 0h1m14 0h1m31 0h1m11 0h1m12 0h1M14 272.5h1m1 0h1m2 0h1m3 0h1m35 0h1m6 0h1m48 0h1m5 0h1M23 271.5h2m33 0h1m2 0h1m10 0h1m7 0h1m24 0h1m44 0h1M8 270.5h1m5 0h1m2 0h1m2 0h1m31 0h1m9 0h1m34 0h1M12 269.5h1m38 0h1m12 0h1m34 0h1M19 268.5h1m1 0h1m42 0h1m9 0h1m11 0h2m33 0h1M32 267.5h1m6 0h1m25 0h1m9 0h1m12 0h1m10 0h1M39 266.5h1m16 0h1m18 0h1m23 0h1m17 0h1m5 0h1M19 265.5h1m11 0h2m21 0h1m15 0h1m10 0h1m2 0h1m9 0h1m35 0h1M10 264.5h1m8 0h1m22 0h1m14 0h2m3 0h1m1 0h1m5 0h1m8 0h1m12 0h1m9 0h1m27 0h1M5 263.5h1m56 0h1m4 0h1m12 0h1m24 0h1m34 0h1M5 262.5h1m7 0h1m3 0h1m22 0h2m7 0h1m2 0h1m14 0h1m8 0h1M55 261.5h1m14 0h1m5 0h1m5 0h1m32 0h1M37 260.5h1m43 0h1m10 0h1m7 0h1m3 0h1m3 0h1M16 259.5h1m17 0h1m21 0h1m3 0h1m18 0h1m4 0h1M6 258.5h1m1 0h1m6 0h1m7 0h1m24 0h1m10 0h1m6 0h1m8 0h1m12 0h1m10 0h1m45 0h1M36 257.5h1m11 0h1m38 0h1m19 0h1m7 0h1m24 0h1M7 256.5h1m7 0h1m9 0h1m1 0h1m22 0h1m13 0h1m24 0h1M9 255.5h1m3 0h1m19 0h1m23 0h1m12 0h1m24 0h1M37 254.5h1m24 0h1M20 253.5h3m1 0h1m8 0h1m16 0h1m7 0h1m40 0h1m6 0h1m1 0h1m16 0h1M6 252.5h1m6 0h1m69 0h1m41 0h1M18 251.5h2m3 0h2m44 0h1m25 0h1m49 0h1M6 250.5h1m8 0h1m11 0h1m36 0h1m3 0h1m7 0h1m3 0h1m5 0h1m6 0h1M8 249.5h1m6 0h1m26 0h1m52 0h1m34 0h1M7 248.5h1m24 0h1M11 247.5h1m15 0h1m71 0h1m40 0h1M8 246.5h1m14 0h1m3 0h1m33 0h1m10 0h1m22 0h1m4 0h1m5 0h1M18 245.5h1m3 0h1m7 0h1m17 0h1m1 0h1m20 0h1m6 0h1m21 0h1m12 0h1M5 244.5h1m9 0h1m61 0h1m23 0h1m5 0h1m3 0h1m43 0h1M6 243.5h1m8 0h1m25 0h2m7 0h1m7 0h1M6 242.5h1m18 0h1m25 0h1m65 0h1m5 0h1M38 241.5h1m30 0h1m7 0h1m19 0h1M20 240.5h1m20 0h1m26 0h1m6 0h1m21 0h1M12 239.5h1m17 0h1m12 0h1m5 0h1m30 0h1m7 0h1m22 0h1M26 238.5h1m18 0h1m4 0h2m3 0h1m6 0h1m7 0h1m39 0h1M9 237.5h1m39 0h1m36 0h1m3 0h1m34 0h1M29 236.5h1m17 0h1m5 0h1m9 0h1m1 0h1m1 0h2m15 0h1m8 0h1m27 0h1M28 235.5h1m7 0h1m9 0h1m4 0h1m13 0h1m17 0h1m17 0h1m4 0h1M7 234.5h1m24 0h1m40 0h1m2 0h2m28 0h1M15 233.5h1m35 0h1m71 0h1M19 232.5h1m8 0h1m12 0h1m6 0h1m1 0h1m12 0h1m41 0h1m2 0h1m16 0h1M6 231.5h1m38 0h1m3 0h1m4 0h1m6 0h1m9 0h1m1 0h1m9 0h1m13 0h1m13 0h1m11 0h1M31 230.5h1m17 0h1m15 0h1m30 0h1m4 0h1m17 0h1m25 0h1M35 229.5h1m22 0h1m1 0h1m9 0h1m16 0h1M5 228.5h1m23 0h1m4 0h1m13 0h1m33 0h1m5 0h1m5 0h1m12 0h3M38 227.5h1m25 0h1m30 0h1M5 226.5h1m4 0h1m16 0h1m32 0h1m13 0h1m15 0h1m24 0h1m3 0h1m35 0h1M7 225.5h1m25 0h1m5 0h1m58 0h1m46 0h1M39 224.5h1m17 0h1m21 0h2m49 0h1m4 0h1M8 223.5h1m11 0h1m18 0h1m43 0h1m2 0h1m23 0h1m44 0h1M25 222.5h1m16 0h1m43 0h1m9 0h1m2 0h1m2 0h1m2 0h1m19 0h1m4 0h1M9 221.5h1m12 0h1m9 0h1m69 0h1M5 220.5h1m31 0h1m33 0h1m7 0h1m11 0h1m15 0h2M5 219.5h1m9 0h1m16 0h1m14 0h1m21 0h1m7 0h1m4 0h1M19 218.5h1m2 0h1m9 0h1m40 0h1m4 0h1m8 0h1m2 0h1m8 0h1m4 0h1m8 0h1M50 217.5h1m1 0h1m5 0h1m6 0h1M8 216.5h1m13 0h1m3 0h1m1 0h1m7 0h1m13 0h1m5 0h1m19 0h1m4 0h1m12 0h1m14 0h1M5 215.5h1m15 0h2m22 0h1m2 0h1m64 0h1m9 0h1m21 0h1M18 214.5h1m9 0h1m3 0h1m27 0h1m4 0h1m23 0h1m27 0h1m1 0h1M14 213.5h1m36 0h1m10 0h1m56 0h1M6 212.5h1m12 0h1m31 0h1m24 0h1m8 0h1M66 211.5h1m6 0h1m8 0h1m42 0h1m24 0h1M48 210.5h2m15 0h1m3 0h1m1 0h1m23 0h1m23 0h1m20 0h1m9 0h1M10 209.5h1m10 0h1m14 0h1m8 0h1m3 0h1m12 0h1m11 0h1m4 0h1m11 0h1m4 0h2m11 0h2m2 0h1M6 208.5h1m25 0h1m4 0h1m11 0h1m38 0h1m8 0h1m12 0h1M23 207.5h1m30 0h1m18 0h1m8 0h1m23 0h1m43 0h1M30 206.5h1m4 0h1m14 0h1m4 0h1m2 0h1m11 0h2m14 0h1m21 0h1M23 205.5h1m1 0h2m19 0h1m3 0h1m7 0h1m51 0h1M7 204.5h1m19 0h1m20 0h1m11 0h1m19 0h1m13 0h1m9 0h1M40 203.5h1m14 0h1M5 202.5h1m11 0h1m16 0h1m2 0h1m9 0h1m10 0h1m2 0h1m13 0h1m33 0h1m13 0h1M85 201.5h1m6 0h1m6 0h1m55 0h1M12 200.5h1m5 0h1m23 0h1m2 0h1m33 0h1m6 0h1m6 0h1m2 0h1m2 0h1M30 199.5h1m5 0h1m2 0h1m13 0h1m20 0h1M21 198.5h1m7 0h1m2 0h1m1 0h1m11 0h1m18 0h1m6 0h1m2 0h1m11 0h1m11 0h1m9 0h1m11 0h1m8 0h1M23 197.5h1m32 0h1m30 0h2m36 0h1m14 0h1m9 0h1m4 0h1M22 196.5h1m19 0h1m13 0h1m5 0h1m18 0h1m7 0h1M41 195.5h1m2 0h1m13 0h1m31 0h1m5 0h1M19 194.5h1m7 0h1m12 0h1m3 0h1m23 0h1M6 193.5h1m1 0h1m42 0h1m17 0h1m7 0h1m4 0h1m2 0h1m5 0h1m1 0h1m51 0h1M71 192.5h1m4 0h1M7 191.5h1m15 0h1m2 0h1m2 0h1m41 0h1m12 0h1m14 0h1m2 0h1M37 190.5h1m83 0h1M24 189.5h1m15 0h1m3 0h1m2 0h1m14 0h1m3 0h1m20 0h1m1 0h1m11 0h1m1 0h1m5 0h1m13 0h1m31 0h1M10 188.5h1m13 0h1m21 0h1m13 0h1m44 0h1M19 187.5h1m8 0h1m24 0h1m7 0h1m44 0h1m43 0h1m4 0h1M7 186.5h1m38 0h1m7 0h1m13 0h1m33 0h1M26 185.5h1m3 0h1m5 0h1m2 0h1m6 0h1m10 0h1m8 0h1m20 0h1m22 0h1m44 0h1M26 184.5h2m8 0h1m28 0h1m8 0h1m29 0h1m12 0h1M14 183.5h1m15 0h1m11 0h1m30 0h2m14 0h1m18 0h1m26 0h1M12 182.5h2m3 0h1m9 0h1m21 0h1m29 0h1m4 0h2m19 0h1m15 0h1M9 181.5h1m12 0h1m4 0h1m7 0h1m10 0h1m7 0h1m19 0h1m2 0h1m8 0h1m36 0h1m26 0h1M14 180.5h1m38 0h1m13 0h1m2 0h1m37 0h1M19 179.5h1m8 0h1m16 0h1m8 0h1m20 0h1m11 0h1m29 0h1M8 178.5h1m4 0h1m28 0h1m20 0h1m7 0h1m21 0h1m1 0h1m6 0h1m6 0h1M78 177.5h1m4 0h1m7 0h1m11 0h1m11 0h1M30 176.5h1m5 0h1m67 0h1M7 175.5h3m48 0h1m27 0h1m6 0h1m25 0h1m30 0h1M44 174.5h1m19 0h1m4 0h2M7 173.5h1m12 0h1m9 0h1m6 0h1m9 0h1m26 0h1m8 0h1m2 0h1m1 0h1m7 0h1m12 0h1M24 172.5h1m15 0h1m21 0h1m14 0h1m7 0h1m10 0h1M12 171.5h1m11 0h1m3 0h1m8 0h1m19 0h1m24 0h1m14 0h1m3 0h1m13 0h1m24 0h1m9 0h1M22 170.5h1m5 0h1m2 0h2m22 0h1m44 0h1m34 0h1m14 0h1M6 169.5h1m4 0h1m11 0h1m3 0h1m23 0h1m12 0h1m39 0h1m30 0h1M9 168.5h1m1 0h1m3 0h1m12 0h1m9 0h1M6 167.5h1m13 0h1m34 0h1m4 0h1m34 0h1m9 0h2m18 0h1M17 166.5h1m2 0h1m30 0h1m7 0h1m30 0h2m38 0h1m19 0h1M13 165.5h1m45 0h1m2 0h1m50 0h1M55 164.5h1m19 0h1m1 0h1m23 0h1m23 0h1m9 0h1M7 163.5h1m11 0h2m1 0h1m5 0h1m8 0h1m17 0h1m8 0h1m19 0h2m3 0h1m16 0h1m4 0h1M18 162.5h1m3 0h1m13 0h1m45 0h1m10 0h1M19 161.5h1m18 0h1m2 0h1m31 0h1m16 0h1m32 0h1M31 160.5h1m18 0h1m37 0h1m11 0h1m3 0h1M31 159.5h1m22 0h1m17 0h1m2 0h1m22 0h1m2 0h1m43 0h1M41 158.5h1m10 0h1m25 0h1m71 0h1M5 157.5h1m12 0h1m16 0h1m11 0h1m10 0h1m11 0h1m31 0h1m14 0h1M50 156.5h1m29 0h1m23 0h1m6 0h1M17 155.5h1m5 0h1m12 0h1m5 0h1m47 0h2M38 154.5h1m18 0h1m34 0h1m1 0h1M10 153.5h1m13 0h1m24 0h2m5 0h2m25 0h1m10 0h1m2 0h1m1 0h1m4 0h1M11 152.5h3m8 0h1m3 0h1m47 0h1m10 0h1m12 0h1M10 151.5h1m6 0h1m27 0h1m4 0h1m8 0h1m5 0h1m12 0h1m2 0h1m21 0h1m3 0h1M12 150.5h1m6 0h1m2 0h1m39 0h1m22 0h1m6 0h1M9 149.5h1m60 0h1m2 0h1m56 0h1M70 148.5h1m9 0h1m28 0h1M8 147.5h1m9 0h1m8 0h1m2 0h2m11 0h1m17 0h1m5 0h1m20 0h1m6 0h1m25 0h1m23 0h1M25 146.5h2m45 0h1m11 0h1m36 0h1M18 145.5h1m5 0h1m23 0h1m2 0h2m43 0h1m11 0h1m1 0h1M16 144.5h1m6 0h1m3 0h1m32 0h1M25 143.5h1m52 0h1m2 0h1m17 0h1m11 0h1M35 142.5h1m87 0h1M12 141.5h1m17 0h2m17 0h1m16 0h1m11 0h1m28 0h2M65 140.5h1m6 0h1m16 0h1m65 0h1M5 139.5h1m2 0h2m23 0h1m20 0h1m64 0h1M31 138.5h1m15 0h1m7 0h1m4 0h1m17 0h1m3 0h1m1 0h1m9 0h1m6 0h1m23 0h1M14 137.5h1m2 0h2m10 0h1m16 0h1m18 0h1m45 0h1m43 0h1M5 136.5h1m3 0h1m13 0h1m15 0h1m12 0h1m34 0h1m10 0h1m6 0h1m44 0h1M11 135.5h2m2 0h1m19 0h1m11 0h1m16 0h1m40 0h1m34 0h1m9 0h1M7 134.5h1m11 0h1m27 0h1m13 0h1m15 0h1m7 0h1m4 0h1M44 133.5h1m31 0h1m5 0h1m11 0h1m13 0h1m12 0h1M8 132.5h1m3 0h2m46 0h1m39 0h1m1 0h1M24 131.5h1m18 0h1m22 0h1m6 0h1m32 0h1M5 130.5h1m9 0h1m9 0h1m8 0h1m18 0h1m8 0h1m3 0h1m18 0h1m54 0h1M5 129.5h1m1 0h1m5 0h1m9 0h2m26 0h1m23 0h1m10 0h1M21 128.5h1m27 0h1m10 0h1m13 0h1m31 0h1m2 0h2M9 127.5h1m23 0h1m15 0h1m10 0h1m2 0h1M5 126.5h1m5 0h1m54 0h1m30 0h1M31 125.5h1m29 0h1m14 0h2m7 0h1m7 0h1m17 0h1M7 124.5h1m33 0h1m3 0h1m5 0h1m2 0h1m4 0h1m16 0h1M31 123.5h1m6 0h1m6 0h1m22 0h1M37 122.5h1m11 0h1m16 0h1m35 0h1m6 0h1m1 0h1m7 0h1m5 0h1m9 0h1M9 121.5h1m2 0h1m24 0h1m17 0h1m19 0h1m11 0h1m13 0h1m48 0h1M12 120.5h1m21 0h1m4 0h1m13 0h1m1 0h1m3 0h1m10 0h1m3 0h1m4 0h1m1 0h1m19 0h2M7 119.5h1m8 0h1m6 0h1m16 0h1m10 0h1m9 0h1m57 0h1M5 118.5h1m1 0h1m22 0h2m10 0h1m12 0h1m44 0h1M17 117.5h1m71 0h1m35 0h1M9 116.5h1m2 0h1m2 0h2m6 0h1m31 0h1m12 0h1M37 115.5h2m10 0h1m34 0h1M13 114.5h1m12 0h1m23 0h1m10 0h1m16 0h1m24 0h1m41 0h1M6 113.5h1m24 0h2m9 0h1m8 0h1m15 0h1m12 0h2m2 0h1M6 112.5h1m44 0h1m11 0h1m4 0h1m13 0h1m6 0h1m29 0h1M9 111.5h1m13 0h1m29 0h1m14 0h1m31 0h1m2 0h1M13 110.5h1m39 0h1m16 0h1m8 0h1m16 0h1m2 0h1m23 0h1M11 109.5h2m28 0h1m2 0h1m31 0h1m5 0h1m47 0h1M12 108.5h1m1 0h2m40 0h1m7 0h1m3 0h1m8 0h1M28 107.5h1m12 0h1m39 0h1m3 0h1m25 0h1M37 106.5h1m6 0h1m1 0h1m45 0h1m17 0h1m8 0h1m5 0h1M14 105.5h1m63 0h1m18 0h1m7 0h1M31 104.5h1m2 0h1m33 0h1m17 0h1m6 0h1m25 0h1m30 0h1m4 0h1M49 103.5h1m39 0h1m31 0h1m23 0h1M20 102.5h1m2 0h1m2 0h1m4 0h1m16 0h1m24 0h1m2 0h1m25 0h1m18 0h1M11 101.5h1m5 0h1m1 0h1m3 0h1m9 0h1m3 0h1m4 0h1m10 0h1m35 0h1M5 100.5h1m8 0h1m28 0h1m15 0h2m14 0h1m8 0h1m28 0h1M27 99.5h1m31 0h1m29 0h1m31 0h1m1 0h1M38 98.5h1m5 0h1m4 0h1m36 0h1m17 0h1M11 97.5h1m8 0h1m14 0h1m13 0h1m8 0h1m28 0h1M41 96.5h1m17 0h1m5 0h1m26 0h1m2 0h1m11 0h1M25 95.5h1m7 0h1m12 0h1m29 0h2M27 94.5h1m19 0h1m2 0h1m22 0h2m1 0h1m42 0h1m30 0h1M20 93.5h1M46 92.5h1m16 0h1m10 0h1m32 0h1m3 0h1M8 91.5h1m15 0h1m23 0h1m39 0h1m22 0h1m43 0h1M45 90.5h1m51 0h1m12 0h1M9 89.5h1m3 0h1m9 0h1m33 0h2m4 0h1m18 0h1m17 0h1m29 0h1M11 88.5h2m14 0h1m36 0h1m3 0h1m27 0h1m2 0h1m2 0h1m3 0h1m4 0h1M7 87.5h1m13 0h1m20 0h1m5 0h1m5 0h2m15 0h1M6 86.5h2m13 0h1m46 0h1m4 0h1m25 0h1m4 0h1M17 85.5h1m5 0h1m1 0h1m10 0h1m12 0h1m12 0h1m15 0h1m12 0h1m11 0h1m36 0h1M6 84.5h1m39 0h1m21 0h1m14 0h1m26 0h1m39 0h1M54 83.5h1m4 0h1m26 0h1m7 0h1m7 0h1m7 0h1m10 0h1m1 0h1M11 82.5h1m16 0h1m8 0h1m2 0h1m5 0h1M26 81.5h1m1 0h1m12 0h1m2 0h1m61 0h1m8 0h1m7 0h1M19 80.5h1m5 0h1m19 0h1m26 0h1m18 0h1m6 0h1m26 0h1m9 0h1M9 79.5h1m2 0h1m58 0h1m21 0h1m6 0h1m9 0h1m14 0h1M22 78.5h1m17 0h1m50 0h1m25 0h1M12 77.5h1m34 0h1m9 0h1m9 0h1m6 0h1m2 0h1m8 0h1m3 0h1m59 0h1M12 76.5h1m31 0h1m6 0h1m45 0h1m9 0h1M7 75.5h2m17 0h1m4 0h1m29 0h1m7 0h1m7 0h1m9 0h1m3 0h1m9 0h1m3 0h1M12 74.5h1m1 0h1m11 0h1m1 0h1m2 0h1m28 0h1m9 0h1m10 0h1m14 0h1m9 0h1M51 73.5h1m12 0h1m16 0h1m41 0h1m6 0h1m24 0h1M12 72.5h1m3 0h1m27 0h1m18 0h1m51 0h1m9 0h1m4 0h1M19 71.5h1m24 0h1m44 0h2m12 0h1m41 0h1M11 70.5h1m10 0h1m20 0h1m22 0h1m17 0h1m16 0h1m17 0h1m1 0h1M22 69.5h1m15 0h1m19 0h1m29 0h1m3 0h1m37 0h1M8 68.5h1m15 0h1m2 0h1m10 0h1m2 0h1m3 0h1m1 0h1m18 0h1m24 0h1m16 0h1M13 67.5h1m95 0h1m30 0h1M6 66.5h1m25 0h1m7 0h1M19 65.5h1m8 0h1m4 0h1m2 0h1m2 0h1m11 0h1m12 0h1m17 0h1m9 0h1m7 0h1M21 64.5h1m11 0h1m40 0h1m6 0h1m1 0h1m13 0h1m5 0h1m6 0h1m6 0h1m32 0h1M33 63.5h1m33 0h1m12 0h1m18 0h1m8 0h1m2 0h1m3 0h1M21 62.5h1m4 0h1m6 0h1m3 0h1m2 0h1m6 0h1m41 0h1m9 0h1m25 0h1M34 61.5h1m13 0h1m29 0h1M36 60.5h2m11 0h1m10 0h1m3 0h1m8 0h2m9 0h1m24 0h1m45 0h1M14 59.5h1m22 0h1m2 0h1m11 0h1m19 0h1m4 0h1m2 0h1m17 0h1M21 58.5h1m3 0h1m3 0h1m10 0h1m26 0h1m5 0h2m29 0h1m8 0h1M8 57.5h2m22 0h1m1 0h1m15 0h1m16 0h2m29 0h1m5 0h1m3 0h1m4 0h1M9 56.5h1m14 0h1m28 0h1m4 0h1m9 0h1m36 0h1M13 55.5h1m52 0h1m9 0h1m13 0h1m10 0h1M20 54.5h1m21 0h1m50 0h1M27 53.5h1m11 0h1m24 0h1m12 0h1m5 0h1m31 0h1m7 0h1m6 0h1M5 52.5h1m21 0h1m6 0h1m23 0h1m4 0h1m19 0h1m9 0h1m3 0h1M21 51.5h1m29 0h1m2 0h1m10 0h1m2 0h1m4 0h1m61 0h1m19 0h1M15 50.5h1m9 0h1m28 0h1m6 0h2m3 0h1m37 0h1m5 0h1m44 0h1M25 49.5h1m12 0h1m29 0h1m3 0h1m12 0h1m39 0h1M5 48.5h1m25 0h2m10 0h1m5 0h1m25 0h1m7 0h1m7 0h1m1 0h1m7 0h1m2 0h1m10 0h1m24 0h1m9 0h1M23 47.5h1m23 0h1m9 0h1m18 0h1M10 46.5h1m47 0h1m9 0h2M26 45.5h1m6 0h1m14 0h1m7 0h1m7 0h1m25 0h1m5 0h1m6 0h1m46 0h1M30 44.5h1m27 0h1m4 0h1m12 0h1m34 0h1M8 43.5h1m11 0h1m18 0h1m20 0h1m22 0h1m31 0h1M9 42.5h1m1 0h1m9 0h1m4 0h1m4 0h1m2 0h1m24 0h1m4 0h1m5 0h1m7 0h1m23 0h1M22 41.5h1m14 0h1m3 0h1M39 40.5h1m18 0h1m11 0h1m23 0h1m6 0h1m5 0h1M5 39.5h1m39 0h1m10 0h1m1 0h1m13 0h1m27 0h1m10 0h1m5 0h1M48 38.5h1m10 0h1m12 0h1m7 0h1m12 0h1m17 0h1m1 0h1m11 0h1m19 0h1M28 37.5h1m1 0h1m6 0h1m21 0h1m19 0h2m4 0h1m10 0h1m58 0h1M37 36.5h1m5 0h1m11 0h1m13 0h1m40 0h1m19 0h1m24 0h1M5 35.5h1m16 0h1m14 0h1m15 0h1m13 0h1m7 0h1m1 0h1m5 0h1m61 0h1M10 34.5h1m99 0h1m14 0h1m14 0h1M6 33.5h1m20 0h1m38 0h1m14 0h1m1 0h1m10 0h1M20 32.5h1m2 0h1m41 0h1m5 0h1m21 0h1m2 0h1m6 0h1m11 0h1M19 31.5h1m32 0h1m8 0h1m8 0h1m5 0h1m29 0h1M29 30.5h1m5 0h1m31 0h1m13 0h1m8 0h1m7 0h1M8 29.5h1m6 0h2m11 0h1m20 0h1m11 0h1m10 0h1m4 0h1m15 0h1M48 28.5h1m13 0h1m3 0h1m26 0h1m31 0h1M7 27.5h1m3 0h1m12 0h1m4 0h1m1 0h1m1 0h1m6 0h1m18 0h1m2 0h1m19 0h1m2 0h1m3 0h1M29 26.5h1m6 0h1m32 0h1m7 0h2m8 0h1m3 0h1m17 0h1M23 25.5h1m33 0h1m13 0h1m7 0h1m23 0h1M8 24.5h1m62 0h1m43 0h1m14 0h1M60 23.5h1m8 0h1m5 0h1M31 22.5h1m28 0h1m7 0h2m47 0h1m37 0h1M25 21.5h1m1 0h1m4 0h2m16 0h1m23 0h1m44 0h1m35 0h1M9 20.5h1m40 0h1m30 0h1m4 0h1m22 0h1M12 19.5h1m6 0h1m70 0h1m3 0h1m7 0h1m7 0h1M16 18.5h1m3 0h1m16 0h1m12 0h1m1 0h1m31 0h1m7 0h1M31 17.5h1m6 0h1m15 0h1m4 0h1m7 0h1m47 0h1M19 16.5h1m3 0h2m2 0h2m27 0h1m7 0h1m11 0h1m40 0h1m22 0h1M7 15.5h1m9 0h1m1 0h1m29 0h1m19 0h1m17 0h1m7 0h1m15 0h1m13 0h1m4 0h1m4 0h1M25 14.5h1m5 0h1m14 0h1m46 0h1m3 0h1m23 0h1M10 13.5h1m12 0h1m16 0h1m20 0h1m6 0h2m2 0h1m10 0h1m9 0h2m35 0h1M58 12.5h1m14 0h1m81 0h1M11 11.5h1m24 0h2m7 0h1m26 0h1m20 0h1m27 0h1M7 10.5h1m21 0h1m2 0h1m7 0h1m4 0h1m2 0h1m59 0h1M9 9.5h1m5 0h1m10 0h1m15 0h1m22 0h1m21 0h1m7 0h1m10 0h1M8 8.5h1m7 0h1m2 0h1m1 0h1m8 0h1m31 0h1m6 0h1m12 0h1m7 0h1m10 0h1M41 7.5h1m11 0h1m5 0h1m31 0h1m4 0h1M14 6.5h1m11 0h1m16 0h1m2 0h1m4 0h1m6 0h1m6 0h1m31 0h1m7 0h1m5 0h1m11 0h1M6 5.5h1m11 0h1m6 0h1m15 0h1m14 0h1m3 0h1m7 0h1m3 0h1m16 0h1m33 0h1M11 4.5h1m21 0h1m69 0h1m36 0h1M14 3.5h1m15 0h1m21 0h1m7 0h1m7 0h1m9 0h1m17 0h1m43 0h1M9 2.5h1m19 0h1m30 0h1m4 0h1m35 0h1M9 1.5h1m9 0h1m24 0h1m19 0h1m21 0h1m2 0h1m1 0h1m58 0h1M5 0.5h1m6 0h1m6 0h1m12 0h1m1 0h1m2 0h1m72 0h1m2 0h1m7 0h1"/>
<path stroke="#481f70" d="M12 389.5h1M32 388.5h1M20 383.5h1m1 0h1m8 0h1m69 0h1m28 0h1M12 382.5h1m19 0h1m25 0h1m16 0h1m54 0h1M66 381.5h1m7 0h1M26 380.5h1M22 378.5h1m52 0h1m17 0h1m11 0h1m11 0h1M20 377.5h1m48 0h1m31 0h1M40 376.5h1m46 0h2m13 0h1M9 375.5h1m15 0h1m52 0h1m21 0h1m6 0h1M27 374.5h1m1 0h1m17 0h1m5 0h1m9 0h1m23 0h1m1 0h1m25 0h1M9 373.5h1m33 0h1m3 0h2m14 0h1m11 0h1m14 0h1m16 0h1M22 372.5h1m16 0h1m4 0h1m12 0h1m22 0h1m6 0h1m10 0h1m1 0h1m7 0h1m1 0h1m2 0h1M14 371.5h1m9 0h1m13 0h1m10 0h1m5 0h1m3 0h1m3 0h1m14 0h1m16 0h1m8 0h1m40 0h1M34 370.5h1m12 0h1m13 0h1m33 0h1m6 0h1M35 369.5h1m26 0h1m7 0h1m3 0h1m22 0h1m5 0h1m2 0h1M17 368.5h1m51 0h1m9 0h1m16 0h1m8 0h1m15 0h1M16 367.5h1m35 0h1m6 0h1m26 0h1m23 0h1m8 0h1m15 0h1M11 366.5h1m4 0h1m18 0h1m14 0h1m4 0h1m34 0h1m4 0h1m4 0h1M10 365.5h1m94 0h2m6 0h1M29 364.5h2m19 0h1m70 0h1M29 363.5h2m3 0h1m5 0h2m3 0h1m47 0h1m9 0h1m3 0h1m3 0h1M17 362.5h1m16 0h1m12 0h1m8 0h1m31 0h1M38 361.5h1m10 0h1m13 0h1m53 0h1M18 360.5h1m28 0h1m9 0h1m15 0h1m14 0h1m19 0h1M27 359.5h1m8 0h1m32 0h1m15 0h2m48 0h1M33 358.5h1m5 0h1m66 0h1M12 357.5h1m22 0h1m45 0h1m6 0h1m20 0h2m4 0h1M9 356.5h1m2 0h2m5 0h1m18 0h1m14 0h1m55 0h1M88 355.5h1M27 354.5h1m67 0h1M14 353.5h1m32 0h1m55 0h1m36 0h1M54 352.5h1m35 0h1m3 0h1m13 0h1M35 351.5h1m12 0h1m16 0h1m21 0h1m16 0h1M36 350.5h1m13 0h1m8 0h1m24 0h1m1 0h1m9 0h1m28 0h1M26 349.5h1m25 0h1m33 0h1m6 0h1M39 348.5h1m36 0h1m20 0h1m52 0h1M6 347.5h1m15 0h1m7 0h1m21 0h1m4 0h1m8 0h1m30 0h1m2 0h1m3 0h1m45 0h1M49 346.5h1m10 0h1m14 0h1M13 345.5h1m29 0h1m61 0h1m4 0h1M13 344.5h1m33 0h1m65 0h1m1 0h1M25 343.5h1m17 0h1M12 342.5h1m30 0h1m6 0h1m5 0h2m13 0h1m23 0h1m1 0h1m37 0h1M12 341.5h1m23 0h1m2 0h1m2 0h1m6 0h1m10 0h1m64 0h1M26 340.5h1m3 0h1m21 0h1m33 0h1m19 0h1M19 339.5h1m5 0h1m1 0h1m11 0h1m31 0h1m9 0h1m18 0h1m2 0h1m6 0h1M35 338.5h1m4 0h1m14 0h1m25 0h1m6 0h1m8 0h1m47 0h1m4 0h1M29 337.5h1m9 0h1m2 0h1m20 0h1m53 0h1M43 336.5h1m9 0h1m10 0h1m35 0h1m14 0h1M49 335.5h1M31 334.5h1m13 0h1m26 0h1M66 333.5h1m39 0h1m6 0h1M20 332.5h1m8 0h1m8 0h1m9 0h1m2 0h1m20 0h1m57 0h1m9 0h1M8 331.5h1m12 0h1m16 0h1m55 0h1m13 0h1M12 330.5h1m8 0h1m14 0h1m12 0h1m29 0h1m25 0h1M62 329.5h1M91 328.5h1m15 0h1m7 0h1M30 327.5h1m5 0h1m18 0h1m22 0h1M68 326.5h1m16 0h1m29 0h1m5 0h1M69 325.5h1m23 0h2m55 0h1M20 324.5h1m21 0h1m22 0h1m5 0h1m21 0h1M11 323.5h1m10 0h1m8 0h2m63 0h1m3 0h1m22 0h1M14 322.5h1m8 0h1m24 0h1m2 0h1m4 0h1m11 0h1m81 0h1M26 321.5h1m22 0h1m5 0h1m6 0h1m9 0h1m22 0h1M10 320.5h1m54 0h1m10 0h1m3 0h1m21 0h2m51 0h1M30 319.5h1m20 0h1m4 0h1m4 0h1m9 0h1m11 0h1m10 0h1m18 0h1M18 318.5h1m17 0h1m20 0h1m36 0h1m11 0h1m23 0h1m14 0h1M5 317.5h1m10 0h1m12 0h1m12 0h1m5 0h1m60 0h1M8 316.5h1m58 0h1m10 0h1m9 0h1m4 0h1m17 0h1m5 0h1M49 315.5h1m4 0h1m100 0h1M9 314.5h1m36 0h1m12 0h1m29 0h1m11 0h1m1 0h1m21 0h1M61 313.5h1m28 0h1m9 0h1M5 312.5h1m29 0h2m6 0h1m11 0h1m5 0h3m15 0h1M31 311.5h1m73 0h1M27 310.5h1m1 0h1m1 0h1m22 0h1m25 0h1m19 0h1m2 0h1M9 309.5h1m10 0h1m7 0h1m8 0h1m32 0h1M6 308.5h1m11 0h1m8 0h1m64 0h1M37 307.5h1m30 0h1M29 306.5h1m29 0h1m10 0h1m20 0h1m38 0h1M18 305.5h1m2 0h1m7 0h1m19 0h1m18 0h1m4 0h1m12 0h1m26 0h1m9 0h1M13 304.5h1m4 0h1m36 0h1m11 0h1M22 303.5h1m10 0h1m1 0h1m38 0h1m13 0h1M38 302.5h1m17 0h1M15 301.5h1m6 0h1m39 0h1m4 0h1m5 0h1m7 0h1m2 0h1m19 0h1M19 300.5h1m80 0h1M7 299.5h1m10 0h1m2 0h1m33 0h1m16 0h1m11 0h1m7 0h1m5 0h1m3 0h1m14 0h1m27 0h1M12 298.5h1m15 0h1m31 0h1m8 0h1m65 0h1m4 0h1M7 297.5h1m83 0h1m31 0h1M40 296.5h1m46 0h1m18 0h1m16 0h1M33 295.5h1m6 0h1m19 0h1m7 0h1m18 0h1m16 0h1m12 0h1M46 294.5h1m21 0h1m10 0h1m20 0h1M89 293.5h1m19 0h2m24 0h1M100 292.5h1m44 0h1m9 0h1M25 291.5h1m18 0h1m56 0h1m5 0h1m3 0h1M13 290.5h1m18 0h1m49 0h1m9 0h1m37 0h1m4 0h1m19 0h1M29 289.5h1m1 0h1m2 0h2m24 0h1m13 0h1m7 0h1m57 0h1m4 0h1M14 288.5h1m21 0h1m10 0h1m9 0h1m53 0h1M9 287.5h1m14 0h1m110 0h1M7 286.5h1m2 0h1m2 0h1m66 0h1m8 0h1M51 285.5h1m24 0h1m7 0h1m19 0h1m5 0h1M6 284.5h1m14 0h1m18 0h1m6 0h1m10 0h1m10 0h1m10 0h1m64 0h1M22 283.5h1m17 0h1m18 0h1m18 0h1m34 0h1M22 282.5h2m15 0h1m7 0h1m2 0h1m31 0h1M17 281.5h1m43 0h1m33 0h1M17 280.5h1m21 0h1m8 0h1m11 0h1m3 0h1m13 0h1m10 0h1m6 0h1m2 0h1m3 0h1m26 0h1M17 279.5h1m3 0h1m7 0h1m2 0h1m28 0h1m20 0h1m21 0h1M37 278.5h1m18 0h1m2 0h1M31 277.5h1m63 0h1m11 0h1M7 276.5h1m28 0h2m53 0h1m27 0h1M16 275.5h1m4 0h1m24 0h1m8 0h1m39 0h1m25 0h1M13 274.5h1m7 0h1m3 0h1m2 0h1m9 0h1M44 273.5h1m2 0h1m2 0h1m1 0h1m24 0h1m14 0h2m27 0h1M77 272.5h1m21 0h1m19 0h1m25 0h1M27 271.5h1m3 0h1m22 0h1m30 0h1m4 0h1m64 0h1M80 270.5h1m9 0h1m8 0h1m35 0h1M65 269.5h1m47 0h1m31 0h1M18 268.5h1m37 0h1m14 0h1m30 0h2m21 0h1m24 0h1M37 267.5h1m18 0h1m1 0h1m8 0h1m6 0h1m12 0h1m15 0h1m1 0h1m15 0h1M41 266.5h1m16 0h2m4 0h1m9 0h1m1 0h1m17 0h1m10 0h1M10 265.5h1m32 0h1m14 0h1m2 0h1m40 0h1M55 264.5h1m12 0h1m5 0h1m48 0h1m21 0h1M10 263.5h1m1 0h1m22 0h1m20 0h1m40 0h1m37 0h1M22 262.5h1m21 0h1m1 0h1M40 261.5h1m6 0h1m14 0h1m14 0h1m24 0h1m2 0h1m49 0h1M16 260.5h1m33 0h1m22 0h1M23 259.5h1m12 0h1m29 0h1m11 0h1m24 0h1m1 0h1m13 0h1m3 0h1M13 258.5h1m25 0h1m4 0h1m12 0h1m3 0h1m11 0h1m81 0h1M15 257.5h1m19 0h1m30 0h1m15 0h1m10 0h1m4 0h1M9 256.5h1m13 0h1m33 0h1m7 0h1m36 0h1M8 255.5h1m27 0h1m12 0h1m71 0h1m8 0h1m19 0h1M5 254.5h1m20 0h1m36 0h1m17 0h1m7 0h1m18 0h1m1 0h1m24 0h1M14 253.5h1m46 0h1m19 0h1m13 0h1m2 0h1m14 0h1m1 0h1M84 252.5h1m10 0h1m27 0h1m6 0h1m14 0h1M17 250.5h1m28 0h1m18 0h1m37 0h1M22 249.5h1m52 0h1m34 0h1m14 0h1M13 248.5h1m44 0h1m2 0h1m4 0h1m20 0h2m16 0h1m9 0h1m24 0h1M16 247.5h1m18 0h1m36 0h1m9 0h1m18 0h1m19 0h1m23 0h1M19 246.5h1m29 0h1m2 0h2m1 0h1m25 0h1m1 0h1M7 245.5h2m23 0h1m20 0h1m2 0h1m9 0h1m3 0h1m6 0h1m10 0h1m12 0h1m15 0h1m17 0h1M36 244.5h1m25 0h1m8 0h1m51 0h1M43 243.5h1m23 0h1m29 0h1M15 242.5h1m10 0h1m10 0h1m11 0h1m29 0h1m6 0h1m10 0h1m47 0h1M23 241.5h1m17 0h1m83 0h1M7 240.5h1m6 0h1m27 0h1m82 0h1M14 239.5h1m35 0h1m104 0h1M8 238.5h1m1 0h1m50 0h1m2 0h1m14 0h1m5 0h1m4 0h1m39 0h1M10 237.5h2m3 0h1m61 0h1m3 0h1m5 0h1m6 0h1m16 0h1m9 0h1m1 0h1M11 236.5h1m37 0h1m8 0h1m10 0h1m30 0h1m24 0h1M37 235.5h1m12 0h1m31 0h1m22 0h1m9 0h1M11 234.5h1m39 0h1m32 0h1m5 0h1M12 233.5h1m42 0h1m1 0h1m11 0h1m34 0h1m5 0h1m44 0h1M11 232.5h1m11 0h1m5 0h1m62 0h2m10 0h1m12 0h1M26 231.5h2m9 0h1m9 0h1m12 0h1m30 0h1m8 0h1m4 0h1m7 0h1m16 0h1M23 230.5h1m20 0h1m5 0h1m1 0h1m1 0h1m44 0h1m23 0h1m6 0h1M39 229.5h1m32 0h1m1 0h1m25 0h1m49 0h1m4 0h1M11 228.5h1m51 0h1m5 0h1M54 227.5h1m32 0h2m14 0h1m13 0h1m27 0h1M12 226.5h1m5 0h1m4 0h1m24 0h1m4 0h1m16 0h1m18 0h1m21 0h1M36 225.5h1m40 0h1m27 0h1M104 224.5h1m1 0h1m3 0h1M24 223.5h1m3 0h1m34 0h1m59 0h1M5 222.5h1m14 0h1m47 0h1m16 0h1m9 0h1M65 221.5h1m9 0h1m7 0h1m5 0h1M21 220.5h2m3 0h1m28 0h1m9 0h1m19 0h1M19 219.5h1m25 0h1m8 0h2m47 0h1m11 0h1m3 0h1M10 218.5h1m4 0h1m38 0h1m13 0h1m7 0h1m12 0h1m11 0h1m17 0h1m30 0h1M5 217.5h1m8 0h1m56 0h1m4 0h1m7 0h1m6 0h1M11 216.5h1m3 0h1m49 0h1m31 0h1M6 215.5h1m6 0h1m1 0h1m7 0h2m5 0h1m2 0h1m22 0h1m10 0h1m11 0h1m28 0h2M47 214.5h1m7 0h1m49 0h1m1 0h1m3 0h1m9 0h1m23 0h1M13 213.5h1m5 0h1m21 0h1m59 0h1m3 0h1M24 212.5h1m9 0h1m18 0h1m39 0h1m7 0h1m3 0h1M31 211.5h1m2 0h1m18 0h1m24 0h1m8 0h1M22 210.5h1m18 0h1m18 0h1m25 0h1m2 0h1M33 209.5h1m14 0h1m33 0h1M10 208.5h1m7 0h1m4 0h1m27 0h1m11 0h2m6 0h1m27 0h1M6 207.5h1m2 0h1m18 0h1m14 0h1m3 0h1m22 0h1m50 0h1M18 206.5h1m6 0h1m2 0h2m3 0h1m8 0h1m4 0h1m1 0h1m28 0h1m11 0h1m1 0h1m17 0h1M21 205.5h1m26 0h1m10 0h1m19 0h1m3 0h1M9 204.5h1m5 0h1m7 0h1m1 0h1m3 0h1m15 0h1M6 203.5h1m59 0h1m32 0h1m6 0h1m4 0h1M8 202.5h1m10 0h2m72 0h1M16 201.5h1m5 0h1m8 0h1m7 0h1m46 0h1m24 0h1m11 0h1m6 0h1M8 200.5h1m13 0h1m7 0h1m6 0h1m9 0h1m52 0h1m6 0h1m2 0h1m10 0h1M8 199.5h1m23 0h1m12 0h1m26 0h1m16 0h1M12 198.5h1m22 0h1m28 0h1m14 0h1M32 197.5h1m44 0h1m19 0h1m2 0h1m8 0h1M17 196.5h1m25 0h1m43 0h1m19 0h1m1 0h1M43 195.5h1m15 0h1m13 0h1m15 0h1m29 0h1m20 0h1M8 194.5h1m11 0h1m8 0h1m23 0h1m1 0h1m2 0h1m16 0h1m7 0h1m7 0h1m4 0h1m7 0h1m16 0h1M11 193.5h1m10 0h1m9 0h1m25 0h1m16 0h1m54 0h1M68 192.5h1m76 0h1M44 191.5h1m1 0h1m8 0h1m9 0h1m2 0h1m1 0h1m5 0h1m14 0h2m3 0h1m18 0h1m1 0h1M12 190.5h1m28 0h1m12 0h1m3 0h1m24 0h1m5 0h1m35 0h1m14 0h1M22 189.5h1m6 0h1m28 0h1m38 0h1M78 188.5h1m13 0h1m62 0h1M7 187.5h1m68 0h1m21 0h1m2 0h1M29 186.5h1m31 0h1m2 0h1m1 0h1m10 0h1m19 0h1M6 185.5h1m22 0h1m11 0h1m11 0h1m45 0h1m2 0h1M13 184.5h1m5 0h1m1 0h1m16 0h1m13 0h1m10 0h1m9 0h1m22 0h1m26 0h1M32 183.5h1m47 0h1m10 0h1m8 0h1m4 0h1M45 182.5h1m7 0h2m7 0h1m18 0h1m22 0h1M43 181.5h1m3 0h1m21 0h1m8 0h1m14 0h1m23 0h1m7 0h1M17 180.5h1m5 0h1m10 0h1m3 0h1m17 0h1m4 0h1m3 0h1m13 0h1m3 0h1m22 0h1m28 0h1M10 179.5h1m20 0h1m2 0h1m9 0h1m26 0h1m13 0h1m18 0h1m5 0h1M21 178.5h1m66 0h1m16 0h1m13 0h1M6 177.5h1m15 0h1m9 0h1m30 0h1m13 0h1M10 176.5h1m31 0h1m17 0h1m14 0h1m79 0h1M18 175.5h1m14 0h1m8 0h1m29 0h1m9 0h1m72 0h1M21 174.5h3m5 0h1m12 0h1m29 0h1m20 0h1m11 0h1m3 0h1M6 173.5h1m14 0h1m5 0h1m18 0h1m21 0h1m16 0h1m4 0h1m49 0h1M43 172.5h1m7 0h2M15 171.5h1m34 0h1m3 0h1m3 0h1m3 0h1m7 0h1m3 0h1m8 0h1M51 170.5h1m21 0h1m23 0h1m12 0h1M10 169.5h1m7 0h1m30 0h1m10 0h2m13 0h1M6 168.5h1m24 0h1m12 0h1m8 0h1m7 0h1m5 0h1m11 0h1m2 0h1m3 0h1m14 0h1m5 0h1M25 167.5h1m1 0h1m15 0h1m5 0h1m7 0h1m17 0h1m5 0h1m8 0h1m28 0h1M5 166.5h1m20 0h1m7 0h1m33 0h1m29 0h1m6 0h1M6 165.5h1m45 0h1m17 0h1m11 0h1m7 0h1m26 0h1M14 164.5h1m3 0h1m19 0h1m29 0h1M14 163.5h1m2 0h1m40 0h1m1 0h1m39 0h1m14 0h1M58 162.5h1m10 0h1m51 0h1m23 0h1M8 161.5h2m4 0h1m11 0h1m2 0h1m9 0h1m11 0h1m7 0h1m7 0h1m12 0h1m3 0h1M21 160.5h1m62 0h1M40 159.5h1m11 0h1m28 0h1m4 0h1m53 0h1M16 158.5h1m3 0h1m36 0h1m28 0h1m16 0h1m4 0h2m5 0h1m39 0h1M16 157.5h1m8 0h1m8 0h1m18 0h1m1 0h1M14 156.5h2m33 0h1M68 155.5h1m15 0h1m50 0h1m4 0h1M84 154.5h1M9 153.5h1m66 0h1m2 0h1m20 0h1M10 152.5h1m9 0h1m11 0h1m3 0h1m1 0h1m18 0h1m31 0h1m25 0h1M15 151.5h1m18 0h1m13 0h1m46 0h1m13 0h1m7 0h1M18 150.5h1m6 0h1m23 0h1m13 0h1m9 0h1m1 0h1m12 0h1m18 0h1m13 0h1M12 149.5h1m21 0h1m10 0h1m31 0h1m7 0h1m7 0h2m26 0h1M26 148.5h1m5 0h1m11 0h1m22 0h1m7 0h1m16 0h1m3 0h1m6 0h1m9 0h1M9 147.5h1m15 0h1m31 0h1m25 0h1m12 0h2m5 0h1m46 0h1M5 146.5h1m5 0h1m20 0h1m1 0h1m11 0h1m32 0h1m8 0h1m6 0h1m3 0h1m4 0h1M46 145.5h1m9 0h1m31 0h1m16 0h1M15 144.5h1m29 0h1m1 0h1m1 0h1m19 0h1m25 0h1m7 0h1M80 143.5h1m28 0h1M32 142.5h1m15 0h1m22 0h1m27 0h1M34 141.5h1m9 0h1m28 0h1m22 0h1M5 140.5h1m17 0h1m54 0h1m6 0h1M63 139.5h1m6 0h1m1 0h1m5 0h1M5 138.5h1m17 0h1m4 0h1m6 0h1m21 0h2m4 0h1m26 0h1M42 137.5h1m1 0h1m42 0h1m12 0h1m12 0h1m3 0h1M18 136.5h1m1 0h1m16 0h1m31 0h1m4 0h1m35 0h1m6 0h1M9 135.5h1m8 0h1m7 0h1m4 0h1m5 0h1m17 0h1m9 0h1m2 0h1m29 0h2m7 0h2M39 134.5h1m24 0h1m8 0h1m2 0h1m6 0h1m4 0h1m3 0h1m3 0h1m2 0h1m8 0h1m12 0h1m1 0h1M5 133.5h1m2 0h1m44 0h1m23 0h1m10 0h1m14 0h1m7 0h1M15 132.5h1m14 0h1m1 0h1m11 0h1m25 0h1m9 0h1M8 131.5h1m29 0h1m9 0h1m1 0h1m43 0h1m30 0h1M50 130.5h1m5 0h1M20 129.5h1m22 0h1m22 0h1m23 0h1m11 0h1m16 0h1M23 128.5h1m3 0h2m25 0h1m6 0h1m18 0h1m20 0h1m19 0h1M17 127.5h1m56 0h1m28 0h1m11 0h1m1 0h1m22 0h1M33 126.5h1m4 0h1m9 0h1m19 0h1m16 0h2M11 125.5h1m9 0h1m32 0h1m16 0h1m14 0h1m16 0h1m4 0h1m41 0h1M40 124.5h1m38 0h2m9 0h1m30 0h1M7 123.5h1m51 0h1m40 0h1m3 0h2M35 122.5h1m23 0h1m16 0h1m12 0h1m6 0h1m43 0h1M24 121.5h1m37 0h1m36 0h1M16 120.5h1m2 0h1m3 0h2m48 0h1m13 0h1m52 0h1M12 119.5h1m40 0h1m39 0h2M16 118.5h1m21 0h1m4 0h2m11 0h1m4 0h1m9 0h1m9 0h1m11 0h1m10 0h1M55 117.5h1m15 0h1m22 0h1m5 0h1m12 0h1M10 115.5h1m15 0h1m28 0h2m3 0h1m8 0h1m10 0h2m12 0h1m4 0h2m2 0h1M20 114.5h1m50 0h1m5 0h1m11 0h1m25 0h1m39 0h1M13 113.5h2m1 0h1m8 0h1m44 0h1m12 0h1m15 0h1M8 112.5h1m3 0h1m18 0h1m16 0h1m17 0h1m13 0h1M47 111.5h1m12 0h1m5 0h1m4 0h1m25 0h1M11 110.5h1m3 0h1m10 0h1m17 0h1m28 0h1m14 0h2m3 0h1m11 0h1M56 109.5h1m1 0h1m37 0h1m13 0h1m29 0h1m9 0h1M37 108.5h1m29 0h1m53 0h1M29 107.5h1m35 0h1M22 106.5h1m18 0h1M7 105.5h1m36 0h1m28 0h1m3 0h1m11 0h1m10 0h1m54 0h1M32 104.5h1m12 0h1m15 0h1m9 0h1m11 0h1m7 0h1m14 0h1m8 0h1m24 0h1M13 103.5h1m10 0h1m4 0h1m7 0h1m33 0h1m47 0h1m10 0h1M17 102.5h1m49 0h2m34 0h1m36 0h1M56 101.5h1m25 0h1m7 0h2m2 0h1m7 0h1m8 0h1m7 0h1m20 0h1M7 100.5h1m1 0h1m8 0h1m26 0h1m3 0h2m4 0h1m1 0h1m7 0h1m4 0h1m34 0h1m17 0h1m6 0h1M11 99.5h1m18 0h1m49 0h1m34 0h1M19 98.5h2m2 0h1m4 0h1m12 0h1m53 0h1M39 97.5h1m4 0h1m18 0h1m16 0h1m12 0h1M6 96.5h1m1 0h1m2 0h1m21 0h1m6 0h1m2 0h2m8 0h1m16 0h1m23 0h1m22 0h1M22 95.5h1m24 0h1m7 0h1m26 0h1m34 0h1m3 0h1m13 0h1M44 94.5h1m20 0h2m18 0h1m11 0h1m2 0h1m44 0h1M23 93.5h1m8 0h1m1 0h1m10 0h1m9 0h1m15 0h1m6 0h1m3 0h1m3 0h1m3 0h1m39 0h1M17 92.5h1m15 0h1m2 0h1m11 0h1m26 0h1m12 0h1M9 91.5h1m20 0h1m14 0h1m26 0h1m11 0h1M8 90.5h2m3 0h1m3 0h1m12 0h1m2 0h1m18 0h1m9 0h1m13 0h1m10 0h1m62 0h1M10 89.5h1m95 0h1M23 88.5h1m4 0h1m7 0h1m48 0h1M12 87.5h1m10 0h1m54 0h1m20 0h1m6 0h1M20 86.5h1m9 0h1m5 0h1m22 0h1m7 0h1m1 0h1m13 0h1M15 85.5h1m2 0h1m37 0h1m11 0h1m24 0h2m9 0h1M16 84.5h2m2 0h1m5 0h1m58 0h1m54 0h1M76 83.5h1m38 0h1M21 82.5h1m7 0h1m55 0h1m54 0h1M22 81.5h1m13 0h1m6 0h1m3 0h1m42 0h3m24 0h1m37 0h1M9 80.5h1m16 0h1m17 0h1m6 0h1M28 79.5h1m80 0h1M7 78.5h1m21 0h1m20 0h1m14 0h1m24 0h1m7 0h1M22 77.5h1m1 0h1m12 0h1m34 0h1M11 76.5h1m50 0h1m9 0h1m25 0h1M54 75.5h1m31 0h1m20 0h1m32 0h1M36 74.5h1m8 0h1m3 0h1m26 0h1m46 0h1M12 73.5h1m4 0h1m36 0h1m7 0h1M32 72.5h1m2 0h1M18 71.5h1m2 0h1m18 0h1m9 0h1m37 0h1M27 70.5h1m66 0h1M35 69.5h1m55 0h1m18 0h1m2 0h1m9 0h1M12 68.5h2m14 0h1m14 0h1m12 0h1m13 0h1m6 0h1m6 0h1m70 0h1M22 67.5h2m19 0h1m28 0h2m11 0h1m18 0h1m45 0h1M57 66.5h1m15 0h2m3 0h1m3 0h1m1 0h1m1 0h1m11 0h1m51 0h1M6 65.5h1m11 0h1m4 0h1m1 0h1m46 0h1m15 0h1m24 0h1m5 0h1M12 64.5h1m48 0h1m17 0h1m7 0h1m33 0h1M8 63.5h1m20 0h1m9 0h1m5 0h1m6 0h1m35 0h1M6 62.5h1m9 0h1m11 0h1m9 0h1m11 0h1m13 0h1m29 0h1m45 0h1M30 61.5h1m22 0h1m3 0h1m1 0h1m14 0h1m16 0h1m4 0h1M42 60.5h1m63 0h1m1 0h1m21 0h1M73 59.5h1M12 58.5h1m90 0h1M14 57.5h1m33 0h1m9 0h1m26 0h1m14 0h1M33 56.5h1m8 0h1m1 0h1m9 0h1M6 55.5h1m12 0h2m19 0h1m36 0h1m7 0h1m7 0h1m5 0h1M21 54.5h1m11 0h1m17 0h1m2 0h1m28 0h1m56 0h1m14 0h1M24 53.5h1m34 0h1m11 0h1m20 0h1m32 0h1M21 52.5h1m24 0h1m2 0h1m15 0h1m8 0h1m40 0h1m5 0h1M28 51.5h1m24 0h1m22 0h1m18 0h1m2 0h1m1 0h1M71 50.5h1m21 0h1m6 0h1m34 0h1m9 0h1M13 49.5h1m29 0h1M29 48.5h1m27 0h2m18 0h1m25 0h1M5 47.5h1m10 0h1m12 0h1m7 0h1m12 0h1m18 0h1m2 0h1M17 46.5h1m29 0h1m11 0h1m40 0h1M41 45.5h1m17 0h1m1 0h1m1 0h1m25 0h1m15 0h1M28 44.5h1M16 43.5h3m13 0h1M41 42.5h1m14 0h1m24 0h1m13 0h1m19 0h1M55 41.5h1m12 0h1m10 0h1m1 0h1M10 40.5h1m13 0h1m20 0h1m34 0h1m54 0h1M22 39.5h1m30 0h1m69 0h1M5 38.5h1m59 0h1m4 0h1m32 0h1M34 37.5h1m20 0h1m10 0h1m21 0h1M11 36.5h1m58 0h1m6 0h1m20 0h1M7 35.5h1m22 0h1m54 0h1m23 0h1m7 0h1m5 0h1m11 0h1M58 34.5h1m29 0h1m14 0h1m9 0h1M7 33.5h1m30 0h1m24 0h1m13 0h1m21 0h1m10 0h1M41 32.5h1m10 0h1m3 0h1m28 0h1m3 0h1m17 0h1M14 31.5h1m3 0h1m16 0h1m20 0h1m88 0h1M7 30.5h1m26 0h1m5 0h1m4 0h2m16 0h1m14 0h1M36 29.5h1m7 0h1m14 0h1m3 0h1m19 0h2m7 0h1m26 0h1m5 0h1M11 28.5h1m133 0h1M6 27.5h1m27 0h1m14 0h1m13 0h1m31 0h1M22 26.5h1m37 0h1m1 0h1m1 0h1m35 0h1m5 0h1M9 25.5h1m12 0h1m23 0h1m23 0h1m15 0h1m20 0h1m1 0h1m30 0h1M17 24.5h1m8 0h1m18 0h1m10 0h1m3 0h1m42 0h1M16 23.5h1m23 0h1m7 0h1m29 0h1m16 0h1M7 22.5h1m58 0h1m8 0h1m11 0h1m4 0h1m8 0h1m4 0h1m2 0h1m3 0h1m9 0h1M16 21.5h1m46 0h1m4 0h1m4 0h1m3 0h1m24 0h1M15 20.5h1m6 0h1m9 0h1m28 0h2m38 0h2m7 0h1M17 19.5h1m17 0h1m24 0h1m17 0h1m9 0h1m11 0h1M9 18.5h1m16 0h1m32 0h1m28 0h1m11 0h1m9 0h1M7 17.5h1m16 0h1m28 0h1m10 0h1m5 0h1m19 0h1m2 0h1m6 0h1m4 0h1M16 16.5h1M11 15.5h1m74 0h1m7 0h1M49 14.5h1m9 0h1m95 0h1M74 13.5h1m4 0h1m25 0h1M5 12.5h1m1 0h1m3 0h1m2 0h2m8 0h1m30 0h1m12 0h1m2 0h2m33 0h1m2 0h1m11 0h1M42 11.5h1m3 0h1m20 0h1m3 0h1m3 0h1m16 0h1m42 0h1m9 0h1M10 10.5h1m112 0h1M7 9.5h1m20 0h1m27 0h1m5 0h2m6 0h1m15 0h1m28 0h1M22 8.5h1m5 0h2m24 0h1m34 0h1m6 0h1m24 0h1M7 7.5h1m6 0h1m6 0h1m13 0h1m18 0h1m52 0h2m36 0h1M20 6.5h1m1 0h1m10 0h1m7 0h1m67 0h1M13 5.5h1m6 0h1m59 0h1m7 0h1m15 0h1m6 0h1M30 4.5h1m39 0h1m4 0h1m19 0h1m19 0h1M22 3.5h1m10 0h1m20 0h1m18 0h1m1 0h1m27 0h1M10 2.5h1m13 0h1m22 0h1m45 0h1m8 0h1m14 0h1M11 1.5h1m28 0h1m4 0h1m21 0h1m22 0h1m5 0h1m16 0h1M20 0.5h1m17 0h2m15 0h1m53 0h1m15 0h1"/>
<path stroke="#482475" d="M68 382.5h1M16 381.5h1m13 0h1m8 0h1m44 0h2m3 0h1m13 0h1M21 378.5h1m89 0h1M13 376.5h1m11 0h1m17 0h1m1 0h1m12 0h1m11 0h1m3 0h1m18 0h1M11 375.5h1m24 0h1m8 0h1m9 0h1m10 0h1m19 0h1m4 0h1m25 0h1M10 374.5h1m12 0h1m31 0h1M8 373.5h1m15 0h1m5 0h1m7 0h1m3 0h1m9 0h1m8 0h1m18 0h1m7 0h1M7 372.5h1m11 0h1m23 0h1m6 0h1m16 0h1m9 0h1m21 0h1m6 0h1M6 371.5h1m8 0h1m2 0h1m3 0h1m7 0h1m3 0h1m8 0h1m9 0h1m7 0h1m25 0h1M24 370.5h1m5 0h1m41 0h1m17 0h1m19 0h1m24 0h1m14 0h1M43 369.5h1m51 0h1m25 0h1m33 0h1M13 368.5h1m10 0h1m13 0h1m4 0h1m60 0h1m30 0h1m4 0h1M57 367.5h1M10 366.5h1m2 0h1m38 0h1m6 0h1m10 0h1m34 0h1M7 365.5h1m3 0h1m14 0h1m19 0h1m48 0h1m12 0h1M63 364.5h1m10 0h1M52 363.5h1m5 0h1m11 0h1m52 0h1M14 362.5h1m22 0h1m14 0h1m14 0h1m55 0h1M52 361.5h1m25 0h1m11 0h1m5 0h1m16 0h1M23 360.5h1m66 0h1m14 0h1M23 359.5h2m79 0h1M15 358.5h1m20 0h1m11 0h1m44 0h1m17 0h1M104 357.5h1M28 356.5h1m21 0h1m43 0h1M15 355.5h1m3 0h1m5 0h1m26 0h1m22 0h1m20 0h1m1 0h1m24 0h1M14 354.5h1m30 0h2m23 0h1m14 0h1M12 353.5h1m9 0h2m10 0h1m4 0h1M11 352.5h1m6 0h1m82 0h1M39 351.5h1m49 0h1m1 0h1m1 0h1M26 350.5h1m26 0h1m50 0h1M10 349.5h1m2 0h1m15 0h1m68 0h1m5 0h1M16 348.5h1m36 0h1M15 347.5h1m20 0h1m38 0h2m18 0h1M11 346.5h1m27 0h1m43 0h1m14 0h1m14 0h1M113 345.5h1m16 0h1M18 344.5h1m26 0h1m8 0h1m8 0h1m5 0h1m5 0h1m74 0h1M13 343.5h1m2 0h1m40 0h1m6 0h1m25 0h1m44 0h1M69 342.5h1M10 341.5h1m20 0h1m89 0h1M54 340.5h1m39 0h1m9 0h1m3 0h1m6 0h1m7 0h1M85 339.5h1m19 0h1m44 0h1M30 338.5h1m72 0h1m31 0h1M60 337.5h1m13 0h1m2 0h1m30 0h1M5 336.5h1m1 0h1m4 0h1m59 0h1m4 0h1m6 0h1m25 0h1M39 335.5h1m42 0h2m14 0h1m51 0h1M48 334.5h1m47 0h1M18 333.5h2m2 0h1m8 0h1m19 0h1m49 0h2M14 332.5h2m6 0h1m18 0h1m35 0h1m18 0h1m6 0h1m3 0h1m15 0h1M36 331.5h1m38 0h1m3 0h1m50 0h1M14 330.5h1m19 0h1m13 0h1m6 0h1m34 0h1m3 0h1m26 0h1m33 0h1M41 329.5h1m39 0h1M75 328.5h1m9 0h1m10 0h1m9 0h1M85 327.5h1m5 0h1m9 0h1m9 0h1M22 326.5h1m31 0h1m27 0h1m5 0h1m1 0h1m12 0h1m15 0h1M72 324.5h1m8 0h1m48 0h1M47 323.5h1m23 0h1m18 0h1m3 0h1m18 0h1m41 0h1M6 322.5h1m19 0h1m18 0h1m15 0h1m28 0h1m19 0h1m8 0h1m10 0h1M19 321.5h1m49 0h1m80 0h1M68 320.5h1M16 319.5h1m38 0h1m33 0h1m16 0h1m23 0h1M26 318.5h1m15 0h1m11 0h1m4 0h1m38 0h1M10 317.5h1m65 0h1m4 0h1m2 0h1M48 316.5h1m14 0h1M62 315.5h1m44 0h1M12 314.5h1m52 0h1m4 0h1m4 0h1M73 313.5h1m49 0h1M9 312.5h1m91 0h1M42 311.5h1m17 0h2m7 0h1m28 0h1m31 0h1M140 310.5h1M107 309.5h1M45 308.5h1m28 0h1m32 0h1M61 307.5h1m17 0h1m26 0h1M36 306.5h1m5 0h1m33 0h1m22 0h1m19 0h1m3 0h1M39 305.5h1m2 0h1M28 304.5h1m50 0h1m55 0h1M7 303.5h1m20 0h1m13 0h1m60 0h1m51 0h1M19 302.5h1M6 301.5h1m34 0h1m29 0h1m20 0h1m52 0h1M11 300.5h1m18 0h1m4 0h1m7 0h1m4 0h1m23 0h1m57 0h1M47 299.5h1m65 0h1M19 298.5h1m15 0h1m49 0h1m17 0h1m15 0h1m5 0h1M65 297.5h1m53 0h1M15 296.5h2m91 0h1M43 295.5h1m9 0h1m8 0h1m36 0h1M49 294.5h1m34 0h1m11 0h1m7 0h1m30 0h1M26 293.5h1m10 0h1m11 0h1m22 0h1m14 0h1m12 0h1m6 0h1m22 0h1M10 292.5h1m11 0h1m21 0h1m105 0h1M69 291.5h1m5 0h1m47 0h1m16 0h1M29 290.5h1m20 0h1m9 0h1m2 0h1m22 0h1m1 0h1m6 0h1m2 0h1m41 0h1M8 289.5h1m106 0h1M92 288.5h1M28 287.5h1m19 0h1m35 0h1M16 286.5h1m34 0h1m32 0h1m9 0h1m55 0h1M19 285.5h1m19 0h1m19 0h1m7 0h1m5 0h1m33 0h1M23 284.5h1m11 0h1m29 0h1m6 0h1m9 0h1m2 0h1m2 0h1M6 283.5h1m32 0h1m22 0h1m12 0h1m69 0h1M57 282.5h1M18 281.5h1m54 0h1m8 0h1m21 0h1M10 280.5h1m10 0h1m13 0h1m46 0h1m4 0h1M7 279.5h1m22 0h1m2 0h1m2 0h1m14 0h1m23 0h1M7 278.5h1m28 0h1m14 0h1M17 277.5h1m31 0h1m38 0h1M35 276.5h1m7 0h1m2 0h1m11 0h1m1 0h1m42 0h1m2 0h1M49 275.5h1m10 0h1m5 0h1m19 0h2m37 0h1M41 274.5h1m44 0h1M24 273.5h2m16 0h1m29 0h1m77 0h1M12 272.5h1m8 0h1m9 0h1m11 0h1m3 0h1m31 0h1M10 271.5h1m2 0h1m50 0h1m8 0h1m25 0h1m2 0h2m2 0h1m4 0h1M57 270.5h1m29 0h1M66 269.5h1m28 0h1m54 0h1M9 268.5h1m5 0h1m63 0h1m19 0h1m55 0h1M41 267.5h1M27 266.5h1m21 0h1m2 0h1m2 0h1m5 0h1m3 0h1m22 0h1m14 0h1m26 0h1M60 265.5h1M16 264.5h1M46 263.5h1m23 0h1m19 0h1m22 0h1M24 262.5h2m38 0h1m52 0h1M28 261.5h1m88 0h1m1 0h1M9 260.5h1m8 0h1m4 0h1m71 0h1M18 259.5h1m9 0h1m40 0h1m25 0h1m10 0h1M46 258.5h1m60 0h1M26 257.5h1m78 0h1M6 256.5h1m123 0h1m4 0h1m4 0h1M47 255.5h1m39 0h1m25 0h1M6 254.5h1m24 0h1m16 0h1m3 0h1m40 0h1m6 0h1m10 0h1m3 0h1M5 253.5h1m77 0h1M12 252.5h1m29 0h1m39 0h1m9 0h1m42 0h1M22 251.5h1m7 0h1m10 0h1m1 0h1m45 0h1M7 250.5h1m35 0h1m58 0h1M5 249.5h1m10 0h1m60 0h1M22 248.5h1m7 0h1m53 0h1m4 0h1M38 247.5h2M11 246.5h1m44 0h1m45 0h1m18 0h1m28 0h1M24 245.5h1m130 0h1M18 244.5h1m5 0h1m61 0h1M19 243.5h1m26 0h2m23 0h1m24 0h1M14 242.5h1m20 0h1m94 0h1M13 241.5h1m2 0h1m51 0h1M8 240.5h1m73 0h1m21 0h1m25 0h1M7 239.5h1m33 0h1m17 0h1M102 238.5h1M13 237.5h1m12 0h1m29 0h1m7 0h1m31 0h1m2 0h1m1 0h1m43 0h1M46 236.5h1m10 0h1m72 0h1M29 235.5h1m38 0h1m4 0h1m3 0h1m12 0h1M15 234.5h1m13 0h1m7 0h1m16 0h1m36 0h1m3 0h1m25 0h1M14 233.5h1m58 0h1m2 0h1m14 0h1m13 0h1M51 232.5h1m8 0h1m36 0h1M6 230.5h1m44 0h1m14 0h1m40 0h1m5 0h1m1 0h1M12 229.5h1m31 0h1m95 0h1M23 228.5h1m23 0h1m4 0h1m40 0h1m27 0h1m8 0h1M34 227.5h1m2 0h1m1 0h1m61 0h1M50 226.5h1m21 0h1m20 0h1m7 0h1m4 0h1M13 225.5h1m23 0h1m22 0h1M46 224.5h1m28 0h1m11 0h1M15 223.5h1m21 0h1m36 0h1M12 221.5h1m2 0h1m12 0h1m16 0h1m6 0h1m48 0h1M56 220.5h1m12 0h1m3 0h1m43 0h1M31 219.5h1m6 0h1m40 0h1M16 218.5h1m11 0h1m27 0h1m15 0h1M8 217.5h1m2 0h1m8 0h1m8 0h1m6 0h1m23 0h1m69 0h1M49 216.5h1m1 0h1m40 0h1M7 215.5h1m42 0h1m14 0h1M7 214.5h1m14 0h2m3 0h1m57 0h1m15 0h1m2 0h1m10 0h1M18 213.5h1m3 0h2m6 0h1m3 0h1m44 0h1m43 0h1M35 212.5h1m4 0h1m76 0h1m17 0h1M9 211.5h1m8 0h1m2 0h1m8 0h1m76 0h1m3 0h1M79 210.5h1m3 0h1m7 0h1m14 0h1m4 0h1M58 209.5h1m39 0h1m2 0h1m38 0h1m4 0h1M13 208.5h1m1 0h1m19 0h1m9 0h1m1 0h1m32 0h1m9 0h1m54 0h1M14 207.5h1m41 0h1m6 0h1M21 206.5h1m21 0h1m1 0h1m10 0h1m6 0h1m9 0h1m5 0h1m31 0h1m3 0h1M16 205.5h1m17 0h1m29 0h1m6 0h1m8 0h1m15 0h1M26 204.5h1m10 0h1m15 0h1m8 0h1M9 203.5h1m19 0h1M84 202.5h1M32 201.5h3m3 0h1m37 0h1m21 0h1m10 0h1M23 200.5h1m4 0h1m34 0h2m3 0h1m11 0h1m54 0h1M68 199.5h1m12 0h1m27 0h1M13 198.5h1m17 0h1m5 0h1m13 0h1m54 0h1M66 197.5h1M21 196.5h1m24 0h1m8 0h1m50 0h1M85 195.5h1m1 0h1m6 0h2m4 0h1M6 194.5h1m43 0h1m3 0h1M14 193.5h1m1 0h1m54 0h1m26 0h1M65 192.5h1m8 0h1m14 0h1M19 191.5h1m2 0h1m44 0h1m53 0h1M78 190.5h1m30 0h1M48 189.5h1M5 188.5h1m3 0h1m1 0h1m23 0h1m35 0h1m9 0h1m39 0h1M6 187.5h1m17 0h1m14 0h1m22 0h1M6 186.5h1m10 0h1m6 0h1m96 0h1M54 185.5h1m34 0h2m2 0h1m13 0h1m15 0h1M18 184.5h1m24 0h1m35 0h1M13 183.5h1m96 0h1M14 182.5h1m48 0h1m2 0h1m29 0h1M25 181.5h1m38 0h1m1 0h2m7 0h1M8 180.5h1m19 0h1m15 0h1m6 0h1m19 0h1m15 0h1m37 0h1M55 179.5h1m44 0h1M72 178.5h1M8 177.5h2m38 0h1m4 0h1m63 0h1m17 0h1M6 176.5h1m22 0h1m5 0h1m18 0h1m3 0h1m17 0h1m9 0h1m8 0h1m14 0h1M76 175.5h1m8 0h1m3 0h1m10 0h1m2 0h1m31 0h1M33 174.5h1m3 0h1m43 0h1m25 0h1M79 173.5h1m14 0h1m40 0h1M99 172.5h1M16 171.5h1m28 0h1m10 0h1m20 0h1m25 0h1M19 170.5h1m18 0h1m45 0h1M22 169.5h1m2 0h1m47 0h1m22 0h1M45 168.5h1m46 0h1m9 0h1m6 0h1m7 0h1m5 0h1M84 167.5h1m1 0h1M41 166.5h1m2 0h1m7 0h1m14 0h1m77 0h1M10 165.5h1m37 0h1m2 0h1m17 0h1m29 0h1m4 0h1M45 164.5h1m18 0h1m7 0h1M75 163.5h1m15 0h1m7 0h1M48 162.5h1m18 0h1m41 0h1M13 161.5h1m30 0h1m13 0h1m96 0h1M10 160.5h1m4 0h1m47 0h1m5 0h1m12 0h1M11 159.5h1m20 0h1m30 0h1M19 158.5h1m41 0h1m57 0h1M7 157.5h1m7 0h1m4 0h1m2 0h1m8 0h2m20 0h1m10 0h1m3 0h1m3 0h1m3 0h1M40 156.5h1m49 0h1m28 0h1M40 155.5h1m10 0h1m24 0h1m36 0h1M41 154.5h1m37 0h1m60 0h1M46 153.5h1m61 0h1M44 152.5h1m2 0h1m59 0h1M14 151.5h1m15 0h1m16 0h1m21 0h1m6 0h1M44 150.5h1M6 149.5h1m10 0h1m13 0h1M5 148.5h3m19 0h1m12 0h1m28 0h1m3 0h1m47 0h1M26 147.5h1m13 0h1m15 0h1m19 0h1m17 0h1M14 146.5h1m14 0h1m34 0h1m3 0h1m25 0h1m6 0h1m7 0h1m1 0h1M20 145.5h1m19 0h1m40 0h1m11 0h1M68 144.5h1M14 143.5h1m1 0h2m71 0h1m12 0h1M54 142.5h1m33 0h1m17 0h1M5 141.5h1m59 0h1m6 0h1M18 140.5h1M121 139.5h1M79 138.5h1m1 0h1m21 0h1M8 137.5h1m41 0h1m10 0h1m2 0h1m17 0h1m18 0h1M96 136.5h1M54 135.5h1M23 134.5h1m70 0h1m3 0h1M15 133.5h1m27 0h1m29 0h1m9 0h1m2 0h1m48 0h1M96 132.5h1m8 0h1M40 131.5h1m27 0h1m5 0h1m36 0h1M43 130.5h1M8 129.5h1m25 0h1m6 0h1M8 128.5h1m32 0h1m5 0h1m4 0h1M7 127.5h1m68 0h1m7 0h1m34 0h1m1 0h1M29 126.5h1m12 0h1m31 0h1m28 0h1M7 125.5h1m8 0h1m79 0h2M21 124.5h1m38 0h1m16 0h1m11 0h1m29 0h1m20 0h1M18 123.5h1m47 0h1m14 0h1m8 0h1m8 0h1m17 0h1M14 122.5h1m71 0h1M28 121.5h1m31 0h1m3 0h1m2 0h1m30 0h1M7 120.5h1m1 0h1m68 0h1m34 0h1M21 119.5h2m33 0h1m20 0h1m19 0h1m2 0h1M41 118.5h1M61 117.5h1m5 0h1m7 0h1m10 0h1M27 116.5h1m22 0h1m1 0h1m1 0h1m34 0h2M9 115.5h1m7 0h2m27 0h1m66 0h1m1 0h1M22 114.5h1m1 0h1m21 0h1m12 0h1m51 0h1M20 113.5h1m81 0h1m20 0h1m21 0h1M27 112.5h1m28 0h1m47 0h1M8 111.5h1m48 0h1M12 110.5h1m29 0h1m8 0h1m5 0h1m45 0h1M33 109.5h1m18 0h1m32 0h1m3 0h1m2 0h1m2 0h1m9 0h1M71 108.5h2m1 0h1M24 107.5h1m34 0h1m6 0h1m8 0h1m8 0h1M34 106.5h1m4 0h1m25 0h2m11 0h1m22 0h1M42 105.5h1m47 0h1m1 0h1m1 0h1m6 0h1m28 0h1m4 0h1M36 104.5h1m2 0h1m4 0h1m31 0h1M99 103.5h1M38 102.5h1m17 0h1m43 0h1m5 0h1M58 101.5h1m2 0h1m11 0h1M42 100.5h1m4 0h1m19 0h1m4 0h1m20 0h1m41 0h1M41 99.5h1m27 0h1m2 0h1m11 0h1m5 0h1m2 0h1m11 0h1m29 0h1M43 98.5h1m18 0h2m8 0h1m37 0h1m10 0h1M41 97.5h1m1 0h1m25 0h1m9 0h1m16 0h1m48 0h1M14 96.5h1m31 0h1m43 0h1m18 0h2m39 0h1M10 95.5h1m52 0h1m30 0h1M63 94.5h1m29 0h1m19 0h1M25 93.5h1m66 0h1m14 0h1m7 0h1m5 0h1M9 92.5h1m37 0h1m54 0h1M32 91.5h1m6 0h1m39 0h1m13 0h1m2 0h1m2 0h1m17 0h1M61 90.5h1m10 0h1M12 89.5h1m41 0h1m1 0h1m20 0h1m11 0h1M19 88.5h1m46 0h1M6 87.5h1m11 0h1m16 0h1m21 0h1m7 0h1m22 0h1m14 0h1m11 0h1M102 86.5h1m22 0h1M30 85.5h1m38 0h1m9 0h1m6 0h1M60 84.5h1m45 0h1M17 83.5h1m20 0h1m1 0h1m19 0h1m6 0h1m19 0h1m25 0h1M15 82.5h1m11 0h1m36 0h1m9 0h1M29 81.5h1m20 0h1m29 0h1m26 0h1M27 80.5h1m60 0h1m32 0h1M40 79.5h1m5 0h1m10 0h1m15 0h1m2 0h1m24 0h1m43 0h1M76 78.5h1m32 0h1M21 77.5h1m17 0h1m9 0h1m23 0h1m24 0h1m31 0h1M17 76.5h1m39 0h1m47 0h1M5 75.5h2m17 0h1m73 0h1m4 0h1m17 0h1m1 0h1M17 74.5h1M42 73.5h1m63 0h1M36 72.5h1m8 0h1M6 71.5h1m9 0h2m8 0h1m11 0h1m4 0h1m5 0h1m52 0h1m27 0h1M6 70.5h1m12 0h1m61 0h1m13 0h1M64 69.5h2m29 0h1M23 68.5h1m97 0h1M12 67.5h1m17 0h1m4 0h1m2 0h1m18 0h1m30 0h1M11 66.5h1m65 0h1m3 0h1M20 65.5h1m21 0h1m16 0h1m13 0h1M11 64.5h1m11 0h1m27 0h1m6 0h1m12 0h1M6 63.5h1m14 0h1m14 0h1m13 0h1m19 0h1m10 0h1m58 0h1M76 62.5h1M12 61.5h1m10 0h1m44 0h1m3 0h1m21 0h1m30 0h1m29 0h1M67 60.5h1m3 0h1m20 0h1m10 0h1M28 59.5h1m56 0h1m21 0h1M54 58.5h1m30 0h1M18 57.5h1m17 0h1m52 0h1m29 0h1m10 0h1M5 56.5h1m29 0h1m62 0h1m31 0h1M41 55.5h1m16 0h1m33 0h1m62 0h1M41 54.5h1m27 0h1m17 0h1M46 53.5h1m19 0h1m1 0h2M91 52.5h1m14 0h1m2 0h1M19 51.5h1m3 0h1m22 0h1m2 0h1M10 50.5h1m20 0h1m2 0h2m62 0h1M24 49.5h1m20 0h1m25 0h1m2 0h1m3 0h1m21 0h1m16 0h1M8 48.5h1m28 0h1m83 0h1M30 47.5h2m13 0h1m10 0h1m31 0h1m13 0h1M5 46.5h1m35 0h1M16 45.5h1m57 0h1m6 0h1m43 0h1m9 0h1m4 0h1M29 44.5h1m3 0h1m18 0h1m22 0h1m64 0h1M27 43.5h1m37 0h1m55 0h1M37 42.5h1m8 0h1m13 0h1m19 0h1m15 0h1M8 41.5h1m4 0h1m34 0h1m14 0h1m22 0h1M75 40.5h1m20 0h1m18 0h1M33 39.5h1m34 0h1M30 38.5h1m9 0h1m22 0h1m14 0h1m3 0h1m11 0h1m20 0h1M38 37.5h1m2 0h1m1 0h1m19 0h2m27 0h1m11 0h1M13 36.5h1m18 0h1m11 0h2m12 0h1m35 0h1m9 0h1m45 0h1M23 35.5h1m101 0h1M14 34.5h1m40 0h1m26 0h1m52 0h1m14 0h1M93 33.5h1M21 32.5h1m2 0h1m9 0h2m2 0h1m49 0h1m17 0h1M45 31.5h1m39 0h1m4 0h1m16 0h1m2 0h1M66 30.5h1m16 0h1m19 0h1M51 29.5h1m3 0h1m9 0h1m22 0h1m66 0h1M7 28.5h1m16 0h1m30 0h1m23 0h1M80 27.5h1m44 0h1M16 26.5h1m68 0h1m21 0h1m13 0h1M27 25.5h1m14 0h1m2 0h1m7 0h2m43 0h1M9 24.5h1m4 0h1m23 0h1m23 0h1m2 0h1m17 0h2m36 0h1m28 0h1M45 23.5h1m46 0h1m24 0h1m12 0h1m9 0h1M13 22.5h1m11 0h1m50 0h1M56 21.5h1M38 20.5h1m59 0h1m22 0h1M76 19.5h1M29 18.5h1m2 0h1M32 17.5h1m22 0h1m18 0h1m34 0h1M26 16.5h1m2 0h1m4 0h1m11 0h1m26 0h1m39 0h1m11 0h1M16 15.5h1m12 0h1m8 0h1m14 0h1m5 0h1m29 0h1M40 14.5h1m13 0h1m12 0h1M11 13.5h1m74 0h1m10 0h1m5 0h1m2 0h1m2 0h1m9 0h1M8 12.5h1m44 0h1m13 0h1m24 0h2m16 0h1m19 0h1M18 11.5h1m5 0h1m18 0h1m12 0h1m1 0h1m17 0h1m73 0h1M56 10.5h1m9 0h1m9 0h1m10 0h1m12 0h1m5 0h1M77 9.5h1M36 8.5h1m46 0h1m7 0h1m8 0h1M19 7.5h1m31 0h1m37 0h1m7 0h1m8 0h1m14 0h1M145 6.5h1M50 5.5h2m24 0h1m2 0h1m22 0h1m47 0h1M8 4.5h1m3 0h1m25 0h1m20 0h1m31 0h1M17 3.5h1m8 0h1m20 0h1M20 2.5h1m1 0h1m10 0h1m1 0h1m6 0h1m1 0h1m41 0h1m11 0h1M7 1.5h1m15 0h1m7 0h1m49 0h1M36 0.5h1m36 0h1"/>
<path stroke="#482979" d="M9 383.5h1m49 0h1m46 0h1M19 381.5h1m24 0h1m17 0h1m9 0h1m8 0h1m8 0h1m5 0h1m12 0h1M58 380.5h2m51 0h1M26 379.5h1m4 0h1m36 0h1m42 0h1M11 378.5h1m8 0h1m15 0h1m22 0h1m53 0h1M36 377.5h1m2 0h1m30 0h1M6 376.5h1m4 0h1m18 0h1m13 0h1m10 0h1m25 0h2m22 0h1m19 0h1M8 375.5h1m65 0h1m13 0h1m13 0h1M5 374.5h1m1 0h1m22 0h1m35 0h1m17 0h1m3 0h1m21 0h1m6 0h1M20 373.5h1m58 0h1m33 0h1M5 372.5h1m2 0h1m7 0h1m16 0h1m8 0h1m16 0h1m15 0h1m14 0h1M16 371.5h1m22 0h1m60 0h1M5 370.5h1m27 0h1m10 0h1m4 0h1m26 0h1m5 0h1m6 0h1m16 0h1m48 0h1M24 369.5h2m40 0h1M94 368.5h1M9 367.5h1m4 0h1m96 0h1M31 366.5h1m11 0h1m53 0h1m15 0h1m16 0h1M23 365.5h1m60 0h1M26 364.5h1M33 363.5h1m13 0h1m3 0h1m19 0h1m12 0h1m70 0h1M66 362.5h1m3 0h1m13 0h1m15 0h1M20 361.5h1M35 360.5h1m2 0h1m74 0h1M15 359.5h1m19 0h1m36 0h1M28 357.5h2m24 0h1m39 0h1M32 356.5h1M103 355.5h1M22 354.5h1m28 0h1m37 0h1m20 0h1M11 353.5h1m20 0h1m18 0h1M12 352.5h1m55 0h1m17 0h1M12 351.5h1m77 0h1m7 0h1m24 0h1M13 350.5h1m13 0h1m29 0h1m29 0h1m9 0h1m25 0h1m21 0h1M25 349.5h1m20 0h1m12 0h1M9 348.5h1m56 0h1m21 0h1m9 0h1m1 0h1m2 0h1M53 347.5h1m9 0h1m22 0h1m68 0h1M52 346.5h1m16 0h1M89 345.5h1m60 0h1M9 344.5h1m16 0h1m8 0h1m24 0h1m60 0h1M23 343.5h1m4 0h1m34 0h1M40 342.5h1m76 0h1M17 341.5h1M11 340.5h1m52 0h1m38 0h1M66 339.5h1m26 0h1M6 337.5h1m3 0h1m73 0h1m3 0h1m10 0h1M51 336.5h1M37 335.5h1m16 0h1M16 334.5h1m61 0h1M90 333.5h1M56 330.5h1m9 0h1M5 329.5h1m11 0h1m65 0h1m10 0h1M29 328.5h1m62 0h1m32 0h1M23 327.5h1m17 0h1m23 0h1M75 326.5h1M121 325.5h1M57 324.5h1M51 323.5h1m69 0h1m28 0h1M11 322.5h1M10 321.5h1m9 0h1m25 0h1m18 0h1M19 320.5h1M36 319.5h1m23 0h1M25 318.5h1m32 0h1m24 0h1M61 317.5h1M10 316.5h1m75 0h1M30 315.5h1m17 0h1m15 0h1m10 0h1M7 314.5h1M33 313.5h1m1 0h1m26 0h1m30 0h1m12 0h1M69 312.5h1m1 0h1m4 0h1M28 311.5h1m52 0h1m37 0h1M59 310.5h1m13 0h1m8 0h1m14 0h1M13 309.5h1m50 0h1m8 0h1m1 0h1m5 0h1m15 0h1M23 308.5h1m79 0h1m11 0h1M32 307.5h1m15 0h1m20 0h1m37 0h1m22 0h1m9 0h1M17 306.5h1m9 0h1m58 0h1M27 305.5h1m87 0h1M45 304.5h1m22 0h1m20 0h1M62 303.5h1m44 0h1m1 0h1M71 302.5h1M11 301.5h1m36 0h1m54 0h1M84 300.5h1M56 299.5h1m26 0h1M40 298.5h1m29 0h1m29 0h1M22 297.5h1M43 296.5h1m75 0h1m15 0h1M35 295.5h1m31 0h1m14 0h1m17 0h1M66 294.5h1M27 293.5h1m4 0h1m13 0h1M39 292.5h1m2 0h1m13 0h1m78 0h1M35 291.5h1m12 0h1M48 290.5h1m96 0h1M87 289.5h1m13 0h1M101 288.5h1M86 287.5h1M59 286.5h1m9 0h1m18 0h1m11 0h1M10 285.5h1m58 0h1m49 0h1M78 284.5h1M54 283.5h1M150 282.5h1M35 281.5h2m61 0h1m10 0h1M76 280.5h1m4 0h1M46 279.5h1m40 0h1M104 278.5h1M8 277.5h1m26 0h1m1 0h1m24 0h1m1 0h1m21 0h2M21 276.5h1m22 0h1m31 0h1m10 0h1m35 0h1M15 275.5h1m77 0h1M42 274.5h1m20 0h1M34 273.5h1M24 272.5h1m2 0h2m5 0h1m13 0h1m11 0h1M14 271.5h1m3 0h1m9 0h1m1 0h1m2 0h1m14 0h1m30 0h1m39 0h1M35 270.5h1m57 0h1M7 269.5h1m29 0h1m47 0h1m1 0h2m8 0h1M20 268.5h1m11 0h1M15 267.5h1m6 0h1m48 0h1m1 0h1m36 0h1M11 266.5h1m65 0h1m12 0h1M36 265.5h1m32 0h1m2 0h1m1 0h1M89 264.5h1m45 0h1M24 263.5h1m24 0h2M105 262.5h1m24 0h1M20 261.5h1m30 0h1M69 260.5h1m36 0h1m12 0h1m35 0h1M9 259.5h1m33 0h1M115 258.5h1m7 0h1M7 257.5h1m26 0h1m53 0h1m13 0h1M79 256.5h1m33 0h1M25 255.5h1m46 0h1M22 254.5h1m31 0h1m30 0h1m69 0h1M15 253.5h1m60 0h1m14 0h1M59 252.5h1m7 0h1m30 0h1M56 251.5h1m45 0h1m27 0h1M30 250.5h1M63 249.5h1M35 248.5h1m42 0h1M8 247.5h1m11 0h1m75 0h1M24 246.5h1m5 0h1m5 0h1m29 0h1m40 0h1m22 0h1M9 245.5h1m66 0h1M32 243.5h1m57 0h1m3 0h1m40 0h1M107 242.5h1M48 241.5h1m27 0h1m21 0h1m9 0h1M5 240.5h1m75 0h1m7 0h1M33 239.5h1m22 0h1m40 0h1m9 0h1M65 238.5h1m30 0h1m10 0h1M12 237.5h1m4 0h1M33 236.5h1m28 0h1m50 0h1M19 235.5h1M19 234.5h1m23 0h1M31 233.5h1m16 0h1m41 0h1m34 0h1M12 232.5h1m17 0h1M21 231.5h1m77 0h1m9 0h1M64 230.5h1m8 0h1m17 0h1M135 229.5h1M64 228.5h1m14 0h1m55 0h1m19 0h1M145 226.5h1M23 225.5h1m40 0h1m10 0h1m28 0h1m30 0h1M74 224.5h1m11 0h1M77 223.5h1m16 0h1M80 222.5h1m1 0h1m5 0h1m8 0h1m13 0h1M24 221.5h1m23 0h1m86 0h1M13 220.5h1m105 0h1M91 219.5h1M5 218.5h1M7 217.5h1M97 215.5h1M37 214.5h1m30 0h1m14 0h1m29 0h1M94 213.5h1m15 0h1M9 212.5h1m54 0h1m10 0h1m1 0h1M6 211.5h1m10 0h1m19 0h1m5 0h1m4 0h1m34 0h1m9 0h1m41 0h1M9 210.5h1M34 209.5h1m41 0h1m13 0h1m44 0h1M56 208.5h1m17 0h1M32 207.5h1m4 0h1m17 0h1m5 0h1m27 0h1M8 206.5h1m136 0h1M9 205.5h1m76 0h1m10 0h1m11 0h1m5 0h1M13 204.5h2m16 0h1m12 0h1m10 0h1m39 0h1m3 0h1M32 203.5h1m39 0h1M12 201.5h1M48 200.5h1m60 0h1m15 0h1M22 198.5h1m45 0h1m5 0h1m7 0h1m3 0h1M16 197.5h1m14 0h1m48 0h2m29 0h1M8 196.5h1m32 0h1m51 0h1m2 0h1M20 195.5h1m25 0h1m6 0h1m76 0h1M9 194.5h1m53 0h1m25 0h1m55 0h1M35 193.5h1m79 0h1M14 192.5h1m2 0h1M37 191.5h1m3 0h2m38 0h1M38 190.5h1m1 0h1m74 0h1M38 189.5h1M51 188.5h1m55 0h1M30 187.5h1m59 0h1m11 0h1M9 186.5h1m39 0h1m22 0h1M14 185.5h1m37 0h1m19 0h1m42 0h1m19 0h1M91 184.5h1m8 0h1m6 0h1M31 182.5h1M13 181.5h1m20 0h1m30 0h1m25 0h1M5 180.5h1m48 0h1M70 179.5h1m1 0h1m18 0h1M37 178.5h1m10 0h1m8 0h1M29 177.5h1M33 176.5h1m40 0h1M29 175.5h1m6 0h1m8 0h1m10 0h1M10 174.5h1m95 0h1M40 173.5h1m36 0h1m2 0h1M58 172.5h1m15 0h1m19 0h1m14 0h1M89 171.5h2m18 0h1m13 0h1M18 170.5h1m4 0h1m13 0h1m1 0h1M99 169.5h1m30 0h1M23 168.5h1m46 0h1m7 0h1M15 167.5h1m56 0h2m61 0h1M7 166.5h1m7 0h1m27 0h1m10 0h1m1 0h1m42 0h1m25 0h1M54 165.5h1m13 0h1m36 0h1M6 164.5h1m82 0h1M30 163.5h1m17 0h1m45 0h1M40 162.5h1m56 0h1M23 161.5h1m57 0h1M11 160.5h1m40 0h1m6 0h1M87 159.5h1M30 158.5h1m1 0h1m34 0h1m1 0h1m20 0h1m4 0h1M37 157.5h1M54 156.5h1M33 155.5h1m31 0h1m17 0h1m21 0h1m3 0h1m5 0h1M29 154.5h1m21 0h1m19 0h1M29 153.5h1M33 152.5h1m18 0h1m70 0h1M27 151.5h1m57 0h1m14 0h1M34 150.5h1m7 0h1m58 0h1M50 149.5h1m1 0h1M16 148.5h1m17 0h1m8 0h1m1 0h1m47 0h1M19 147.5h1m65 0h2M37 146.5h1m72 0h1M16 145.5h2m7 0h1m1 0h1m85 0h1m26 0h1m4 0h1M145 144.5h1m4 0h1M12 143.5h1m37 0h1m52 0h1M34 142.5h1m3 0h1m70 0h1M50 141.5h1m10 0h1m12 0h1m9 0h1m19 0h1m40 0h1M43 140.5h1m4 0h1m59 0h1M86 139.5h1m13 0h1m2 0h1m9 0h1m3 0h1M15 138.5h1m51 0h1m49 0h1M39 137.5h1M15 136.5h1m3 0h1m53 0h1m8 0h1M36 135.5h1m44 0h1m7 0h1m13 0h1M20 134.5h1m23 0h1M7 133.5h1m52 0h1m64 0h1M34 132.5h1m49 0h1m55 0h1M54 131.5h1m25 0h1m3 0h1m16 0h1M68 130.5h1m34 0h1M50 129.5h1M43 128.5h1m75 0h1M95 127.5h1M7 126.5h1m23 0h1m52 0h1M125 125.5h1M33 124.5h1M8 123.5h1m35 0h1m27 0h1M25 122.5h1m19 0h1m99 0h1M68 121.5h1m16 0h1M21 120.5h2m17 0h1m6 0h1m50 0h1m1 0h1m2 0h1m2 0h1M40 118.5h1m66 0h1M16 117.5h1m57 0h1m80 0h1M30 116.5h1m49 0h1m6 0h1m22 0h1m14 0h1M15 115.5h1m13 0h1m13 0h1m13 0h1m44 0h1M21 114.5h1m14 0h1m44 0h1M12 113.5h1m30 0h1m2 0h1m50 0h1M11 112.5h1m28 0h1m12 0h1M62 111.5h1m25 0h1m51 0h1M22 110.5h1m46 0h1m10 0h1M42 109.5h2m34 0h1m1 0h1M11 108.5h1m20 0h1m24 0h1m77 0h1m19 0h1M43 107.5h1m3 0h1m24 0h1m14 0h1m47 0h1m14 0h1M16 106.5h1m67 0h1m13 0h1m24 0h1m31 0h1M28 105.5h1m14 0h1M96 104.5h1m38 0h1M88 103.5h1m9 0h1M79 102.5h1M69 101.5h1m35 0h1M11 100.5h1m41 0h1M5 99.5h1m29 0h1m6 0h1m2 0h1m7 0h1m33 0h1M69 98.5h1M18 97.5h1m19 0h1m43 0h1m6 0h2m10 0h1m5 0h1m15 0h1M10 96.5h1m10 0h1m13 0h2m21 0h1m16 0h1m6 0h1M16 95.5h1m61 0h1m18 0h1M11 94.5h1m11 0h1m54 0h1m13 0h1M11 93.5h1m5 0h1m9 0h1m56 0h1M11 92.5h1m53 0h1m25 0h1m1 0h1m3 0h1m5 0h1M92 91.5h1m7 0h1M6 90.5h1M68 89.5h1m36 0h1M8 88.5h1m54 0h1m13 0h1M10 87.5h1m35 0h1m3 0h1m74 0h1M58 86.5h1m20 0h1m8 0h1m32 0h1M60 85.5h1m24 0h1m16 0h1M32 84.5h1m36 0h1m33 0h1M32 83.5h1m52 0h1m49 0h1M6 82.5h2m14 0h1m25 0h1m31 0h1m15 0h1m14 0h1M38 81.5h1m36 0h1m18 0h1m6 0h1m3 0h1M53 80.5h1m35 0h1m17 0h1M65 79.5h1m16 0h1m23 0h1m14 0h1M62 78.5h1m23 0h1m10 0h1M11 77.5h1m79 0h1M9 76.5h1m44 0h1m31 0h1M32 75.5h1m14 0h1m19 0h1m38 0h1M22 74.5h1m4 0h1m26 0h1m23 0h1m28 0h1M45 73.5h1m24 0h1m17 0h1m56 0h1M46 72.5h1m21 0h1m17 0h1M53 71.5h1m65 0h1M33 70.5h1m77 0h1M16 69.5h1m31 0h1m35 0h1m20 0h1m9 0h1m39 0h1M99 68.5h1M39 67.5h1m5 0h1M106 66.5h1M74 65.5h1m35 0h1M35 64.5h1m32 0h1m1 0h1M58 63.5h1m86 0h1M39 62.5h1m4 0h1m47 0h1m11 0h1m18 0h1M76 61.5h1m27 0h1M17 59.5h1m2 0h1m40 0h2M27 58.5h1m31 0h1m16 0h1M21 57.5h1m25 0h1m4 0h1m26 0h1M13 56.5h1m33 0h1M106 55.5h1M8 54.5h1m37 0h1M49 53.5h1m4 0h1M79 52.5h1M10 51.5h1m20 0h1m59 0h1m7 0h1M36 50.5h1m39 0h1M74 48.5h1M103 47.5h1M8 46.5h1m141 0h1M14 45.5h1M26 44.5h1m54 0h1m10 0h2M22 43.5h1m34 0h1m27 0h1M17 42.5h1m39 0h1M9 41.5h1m18 0h1m106 0h1M13 40.5h1m34 0h1m23 0h1m5 0h1M61 39.5h1m20 0h1M92 38.5h1m37 0h1M9 37.5h1m77 0h1M30 36.5h1m9 0h1m51 0h1M43 35.5h1m54 0h1M21 34.5h1M21 33.5h1m12 0h1m90 0h1M75 32.5h1m15 0h1M16 31.5h1m50 0h1m12 0h1M80 30.5h1m4 0h1m14 0h1M14 29.5h1m51 0h1m24 0h1M34 28.5h1m45 0h1m4 0h1m69 0h1M20 27.5h1m2 0h1M52 26.5h1m45 0h1m3 0h1m42 0h1M56 25.5h1m33 0h1M70 24.5h1m6 0h2M59 23.5h1M11 22.5h1m36 0h1m4 0h1M19 21.5h1m40 0h1M78 20.5h1m4 0h1M23 18.5h1m29 0h1m39 0h1m4 0h1M35 17.5h1m11 0h1m2 0h1m6 0h1M108 16.5h1M9 15.5h1m32 0h1m25 0h1m9 0h1m6 0h1M5 14.5h1m2 0h1m2 0h1m5 0h1m71 0h1m2 0h1m16 0h1M78 13.5h1m36 0h1M49 11.5h1m40 0h1M99 10.5h1m2 0h1M30 9.5h1m68 0h1M17 8.5h2m21 0h1m36 0h1M22 7.5h1m6 0h1m42 0h1m9 0h1m17 0h1M6 6.5h1m14 0h1m16 0h1m49 0h1m15 0h1M101 5.5h1m13 0h1M68 4.5h1m10 0h1M29 3.5h1m32 0h1m21 0h1m30 0h1m9 0h1m24 0h1M48 2.5h1m29 0h1m5 0h1m55 0h1m9 0h1M10 1.5h1m23 0h1m72 0h1M27 0.5h1m46 0h1"/>
<path stroke="#472f7d" d="M130 394.5h1M130 389.5h1M11 383.5h1m57 0h1m13 0h1m13 0h1M95 382.5h1M45 381.5h1m24 0h1m48 0h1m3 0h1M36 380.5h1M83 378.5h1M51 377.5h1m37 0h1M10 376.5h1m16 0h1m9 0h1m8 0h1m3 0h1m12 0h1m15 0h2m14 0h1m17 0h1M22 375.5h1m36 0h1m3 0h1m18 0h1m1 0h1m11 0h1m6 0h1m31 0h1M18 374.5h1m30 0h1m18 0h1m13 0h1m16 0h1M10 373.5h1m6 0h2m16 0h1m8 0h1m9 0h1m1 0h1m3 0h1m1 0h1m3 0h1m5 0h1m29 0h2M35 372.5h1m11 0h1m14 0h1M23 371.5h1m11 0h1m16 0h1m3 0h1m14 0h2m17 0h1m20 0h1m11 0h1M29 370.5h1m34 0h1M27 369.5h1m122 0h1M30 368.5h1M49 366.5h1M15 365.5h1m15 0h1m39 0h1m45 0h1M41 364.5h1m45 0h1m62 0h1M29 362.5h1m3 0h1M52 360.5h1M59 358.5h1M47 357.5h1m1 0h1m56 0h1M96 356.5h1m33 0h1m19 0h1M84 354.5h1M69 353.5h1m55 0h1M38 352.5h1m80 0h1M57 351.5h1m36 0h1m4 0h1M34 349.5h1m6 0h1m27 0h1M103 346.5h1M45 345.5h1m29 0h1m79 0h1M41 344.5h1m20 0h1m28 0h1M58 343.5h1m23 0h1M46 342.5h1m68 0h1M77 341.5h1m32 0h1M50 340.5h1m7 0h1M80 339.5h1m20 0h1M71 338.5h1M113 337.5h1M16 335.5h1m79 0h1M30 334.5h1m42 0h1m47 0h1M82 333.5h1M102 332.5h1M121 331.5h1M58 330.5h1m3 0h1m20 0h1M53 329.5h2m17 0h1m3 0h1m15 0h1M28 328.5h1m16 0h1m7 0h1M135 326.5h1M6 324.5h1m19 0h1m1 0h1m20 0h1m55 0h1M79 323.5h1m18 0h1M13 322.5h1m75 0h1M90 321.5h1m18 0h1M35 319.5h1M22 318.5h1M7 317.5h1M15 316.5h2m27 0h1m110 0h1M67 315.5h1m33 0h1m17 0h1M7 313.5h1m38 0h1m93 0h1M47 312.5h1m11 0h1m23 0h1M43 311.5h1m32 0h1M28 310.5h1M29 309.5h1m48 0h1m8 0h1M93 308.5h1M5 307.5h1m70 0h1m22 0h1M25 306.5h1M59 305.5h1M5 304.5h1M94 303.5h1M36 302.5h1m72 0h1M125 301.5h1M22 300.5h1m60 0h1m8 0h1m32 0h1M93 299.5h1M40 297.5h1m2 0h1m31 0h1M63 296.5h1m36 0h1M15 295.5h1M93 294.5h1M13 293.5h1m21 0h1m11 0h1m38 0h1M33 292.5h1M63 291.5h1M43 290.5h1m8 0h1m17 0h1M28 289.5h1m11 0h1m14 0h1M87 288.5h1M90 287.5h1M12 286.5h1M48 285.5h1m101 0h1M31 284.5h1M35 283.5h1m17 0h1m96 0h1M80 282.5h1m4 0h1m14 0h1M7 281.5h1m32 0h1m50 0h1m38 0h1M36 280.5h1m57 0h1M123 279.5h1M30 278.5h1m92 0h1M97 277.5h1M19 276.5h1m60 0h1m1 0h1m52 0h1M63 275.5h1M8 274.5h1m84 0h1m1 0h1M9 272.5h1m23 0h1m52 0h1M16 271.5h1m2 0h1M119 270.5h1M42 269.5h1m78 0h1M57 268.5h1m15 0h1m11 0h1M69 267.5h1m26 0h1M66 266.5h1m34 0h1M42 265.5h1m9 0h1m92 0h1M13 264.5h1M91 263.5h1M33 262.5h1m46 0h1M19 261.5h1M34 260.5h1m22 0h1m44 0h1M26 259.5h1m10 0h1m50 0h1M7 258.5h1m97 0h1M51 257.5h1M38 255.5h1m40 0h1m13 0h1M30 254.5h1m82 0h1M79 253.5h1M31 252.5h1m3 0h1M35 251.5h1m25 0h1m21 0h1m29 0h1M8 250.5h1m43 0h1M30 249.5h1m7 0h1m14 0h1M42 248.5h1M28 247.5h1M34 246.5h2M52 245.5h1M30 244.5h1m3 0h1m18 0h1M74 243.5h1m7 0h1M47 242.5h1m26 0h1m20 0h1m2 0h1M14 241.5h1m2 0h1m82 0h1m9 0h1m6 0h1m5 0h1M13 240.5h1m84 0h1m22 0h1M31 239.5h1M94 238.5h1m24 0h1M65 237.5h1m14 0h1M31 236.5h1m54 0h1M111 235.5h1m1 0h1M50 234.5h1M6 233.5h1m15 0h1M32 231.5h1m62 0h1M19 230.5h1m135 0h1M23 229.5h1m68 0h1m15 0h1M8 228.5h1M106 227.5h1M103 226.5h1M84 225.5h1m8 0h1M37 224.5h1M15 222.5h1m5 0h1m34 0h1m5 0h1M20 221.5h1m35 0h1m12 0h1M19 220.5h2m31 0h1m36 0h1M49 219.5h1m21 0h1M51 218.5h1M40 216.5h1m20 0h1M49 215.5h1m35 0h1m17 0h1M36 214.5h1M53 213.5h1M30 212.5h1M29 210.5h1m7 0h1m24 0h1M7 209.5h1m55 0h2M20 208.5h1m41 0h1M9 206.5h1m4 0h1m39 0h1M45 205.5h1m27 0h1M50 204.5h1m70 0h1M22 203.5h1m12 0h1m38 0h2m45 0h1M130 202.5h1M24 200.5h1M13 199.5h1m23 0h1m13 0h1m26 0h1M62 198.5h1M106 197.5h1M76 195.5h1M74 194.5h1M68 193.5h1m15 0h1M13 192.5h1m8 0h1m6 0h1m39 0h1M32 190.5h1M80 189.5h1m24 0h1M68 188.5h1M56 187.5h1M16 185.5h1m4 0h1m21 0h1M19 182.5h1m105 0h1M5 181.5h1m77 0h1m12 0h1M10 180.5h1m13 0h1m60 0h1M12 179.5h1M33 178.5h1M33 177.5h1m2 0h1M11 176.5h1m38 0h1M22 175.5h1m83 0h1M30 174.5h1m82 0h1M25 173.5h1M50 172.5h1m4 0h1M43 171.5h1m61 0h1M26 170.5h1m30 0h1M108 169.5h1M50 168.5h1M69 167.5h1m22 0h1M119 166.5h1M7 165.5h1m107 0h1M11 164.5h1m86 0h1m3 0h1m4 0h1M23 162.5h1m20 0h1m60 0h1M37 161.5h1m44 0h1M37 160.5h1m16 0h1M12 159.5h1m37 0h1m6 0h1M75 158.5h1M40 157.5h1m84 0h1M41 156.5h1m73 0h1m1 0h1M49 155.5h1M45 154.5h1m22 0h1m36 0h1M103 152.5h1m5 0h1M44 151.5h1M50 150.5h1M80 149.5h1M38 148.5h1M63 147.5h1m76 0h1M45 145.5h1M34 144.5h1m4 0h1m1 0h1M27 143.5h1m7 0h1M5 142.5h1M103 141.5h1M66 140.5h1M41 139.5h1M73 137.5h1m24 0h1M88 136.5h1M88 135.5h1m5 0h1M9 133.5h1M9 132.5h1m98 0h1m2 0h1m13 0h1M140 131.5h1M119 130.5h1M33 129.5h1m46 0h1M64 127.5h1M17 126.5h1M28 125.5h1m31 0h1m5 0h1m42 0h1M32 123.5h1M57 122.5h1m30 0h1M50 120.5h1m70 0h1M25 119.5h1m2 0h1m39 0h1m13 0h1M46 118.5h1m35 0h1M18 117.5h1M27 115.5h1m50 0h1M15 114.5h1M23 113.5h1M38 112.5h1m67 0h1M11 111.5h1m72 0h1m8 0h1m16 0h1M82 110.5h1m17 0h1m9 0h2M57 109.5h1m41 0h1M5 108.5h1m49 0h1M121 107.5h1M38 106.5h1M9 105.5h1m109 0h1M62 104.5h1m27 0h1M33 103.5h1M34 102.5h1m110 0h1M22 100.5h1m60 0h1M16 99.5h1M29 98.5h1m18 0h1m31 0h1m4 0h1m7 0h1m6 0h1m22 0h1M73 97.5h1M25 96.5h1m58 0h1m8 0h1m8 0h1M5 95.5h1m87 0h1M55 94.5h1M22 93.5h1m65 0h1M10 90.5h1m53 0h1M72 89.5h1M44 88.5h1m33 0h1m71 0h1M36 87.5h1m118 0h1M6 85.5h1m69 0h1M29 84.5h1m3 0h1m6 0h1M34 82.5h1m78 0h1M37 81.5h1m2 0h1m15 0h1m41 0h1M28 80.5h1m116 0h1M50 79.5h1M41 78.5h1M52 77.5h1m11 0h1m58 0h1M5 76.5h1m43 0h1m41 0h1M76 75.5h1M21 73.5h1m45 0h1M13 72.5h1m4 0h1m9 0h1m111 0h1m14 0h1M48 71.5h1m60 0h1M12 70.5h1m45 0h1m5 0h1m14 0h1M9 69.5h1M46 67.5h1m7 0h2m2 0h1m18 0h1M9 66.5h1m95 0h1M15 65.5h1m70 0h1M14 64.5h1m98 0h1M11 63.5h1M14 62.5h1m81 0h1M53 60.5h1M145 59.5h1M14 58.5h1m69 0h1M12 57.5h1m43 0h1m16 0h1M85 56.5h1m1 0h1M63 55.5h1m17 0h1M45 54.5h1m58 0h1M87 53.5h1m52 0h1M71 52.5h1m68 0h1M34 51.5h1m1 0h1m10 0h1m73 0h1M18 50.5h1m72 0h1M26 49.5h1m77 0h1m30 0h1m19 0h1M27 48.5h1m37 0h1M82 47.5h1M25 46.5h1m36 0h1M73 45.5h1M25 44.5h1m13 0h1m70 0h1M81 43.5h1M24 41.5h1m31 0h1M42 40.5h1m50 0h1M20 39.5h1M20 38.5h1m22 0h1m11 0h1M60 37.5h1m38 0h1m10 0h1m19 0h1M15 36.5h1m124 0h1M14 35.5h1m23 0h1m1 0h1m4 0h1m46 0h1m11 0h1M43 34.5h1m7 0h1m1 0h1m26 0h1m19 0h1m6 0h1M51 33.5h1m49 0h1M61 32.5h1M25 31.5h1M76 30.5h1m17 0h1M73 29.5h1m20 0h1M30 28.5h1m23 0h1m6 0h1m29 0h1M52 27.5h1m5 0h1M140 26.5h1M35 25.5h1m41 0h1M35 24.5h1m43 0h1m2 0h1m26 0h1M28 23.5h1M10 22.5h1m73 0h1m11 0h1M90 21.5h1M63 20.5h1M18 17.5h1m8 0h1m82 0h1M6 16.5h1m18 0h1m36 0h1m6 0h1M19 14.5h1M70 12.5h1m3 0h1m5 0h1M100 11.5h1M145 10.5h1M38 9.5h1m1 0h1M35 8.5h1m39 0h1m5 0h1m15 0h1M36 7.5h1m62 0h1M47 6.5h1M69 5.5h1M7 4.5h1m52 0h1m27 0h1m12 0h1M44 3.5h1M66 2.5h2m47 0h1M20 1.5h1M76 0.5h1"/>
<path stroke="#463480" d="M130 388.5h1M55 381.5h1m5 0h1M68 380.5h1m6 0h1M32 377.5h1m15 0h1m22 0h1m12 0h1m25 0h1m19 0h1M33 376.5h1m18 0h1m3 0h2m3 0h1m14 0h1m13 0h1m24 0h1M29 375.5h1m9 0h1m83 0h1M8 374.5h1m11 0h1m31 0h1m8 0h1m12 0h2M23 373.5h1m4 0h1m4 0h1m12 0h1m35 0h1m6 0h1M17 372.5h1m10 0h1m1 0h1m6 0h1m8 0h1m13 0h2m3 0h1m13 0h1m22 0h1m52 0h1M62 371.5h1m2 0h1m10 0h1m2 0h1M43 370.5h1m22 0h1m12 0h1M135 369.5h1M30 367.5h1m19 0h1M25 366.5h1m70 0h1M39 364.5h1m17 0h2m5 0h1m7 0h1m20 0h1M104 363.5h1M115 362.5h1M60 361.5h1m9 0h1M7 360.5h1m85 0h1M13 359.5h1m25 0h1M35 358.5h1M11 357.5h1m77 0h1M11 356.5h1M36 355.5h1m45 0h1M62 353.5h1M74 352.5h1M26 351.5h1M92 350.5h1M17 347.5h1m28 0h1m8 0h1M145 345.5h1M38 343.5h1m66 0h1M64 342.5h1M26 341.5h1M83 340.5h1m1 0h1m25 0h1M42 339.5h1m25 0h1M59 338.5h1m24 0h1M28 336.5h1m25 0h1M43 335.5h1M117 334.5h1M25 330.5h1M33 329.5h1m32 0h1M83 328.5h1m39 0h1M11 327.5h1m56 0h1M7 326.5h1m103 0h1M7 325.5h1m34 0h1M111 324.5h1M130 323.5h1M27 322.5h1M9 321.5h1M78 320.5h1m34 0h1M99 319.5h1M44 317.5h1M12 315.5h1m132 0h1M42 314.5h1m37 0h1M98 312.5h1m51 0h1M87 310.5h1M10 309.5h1M100 305.5h1M64 304.5h1m22 0h1m6 0h1M87 303.5h1m16 0h1m25 0h1M55 301.5h1m18 0h1M20 300.5h1m23 0h1M113 298.5h1M71 297.5h1m53 0h1M62 296.5h1M72 295.5h1M87 294.5h1M81 293.5h1m1 0h1M81 292.5h1m43 0h1M33 290.5h1m17 0h1m3 0h1M22 288.5h1m48 0h1M7 287.5h1m15 0h1m64 0h1M23 286.5h1m40 0h1M31 285.5h1M113 284.5h1M23 283.5h1m9 0h1m9 0h1M87 282.5h1M23 281.5h1M91 280.5h1M19 277.5h1M61 276.5h1M19 274.5h1m20 0h1m30 0h1M57 273.5h1m47 0h1M130 271.5h1M30 270.5h1m54 0h1m25 0h1M52 269.5h1m50 0h1M16 265.5h1m38 0h1M74 263.5h1m26 0h1M104 262.5h1M17 261.5h1m62 0h1m4 0h1M130 259.5h1M6 257.5h1m40 0h1m82 0h1M30 255.5h1M32 254.5h1m14 0h1M26 253.5h1m12 0h1M30 252.5h1M52 251.5h1m32 0h1m12 0h1M75 250.5h1m59 0h1M140 249.5h1M50 248.5h1m58 0h1M106 247.5h1M99 245.5h1m7 0h1M27 243.5h1m20 0h1m12 0h1m27 0h1m11 0h1m15 0h1M43 242.5h1M49 241.5h1M74 240.5h1m13 0h1m66 0h1M119 239.5h1M43 238.5h1M35 237.5h1m71 0h1m22 0h1M115 236.5h1m24 0h1M18 234.5h1m20 0h1M47 233.5h1M68 232.5h1m20 0h1m40 0h1M85 231.5h2M60 230.5h1m44 0h1M30 228.5h1m13 0h1m9 0h1m40 0h1M135 227.5h1M22 225.5h1m31 0h1m7 0h1M84 224.5h1M135 222.5h1M8 220.5h1m121 0h1M56 219.5h1m4 0h1M111 218.5h1m18 0h1M13 216.5h1m56 0h1m25 0h1M37 215.5h1m5 0h1M21 214.5h1m11 0h1m9 0h1m18 0h1m43 0h1M85 213.5h1m6 0h1m20 0h1M94 212.5h1m15 0h1m2 0h1m41 0h1M54 210.5h1m68 0h1M29 209.5h1M7 208.5h1m6 0h1m53 0h1M22 206.5h1M67 205.5h1M21 204.5h1M32 202.5h1m6 0h1m50 0h1m1 0h1M92 200.5h1M82 199.5h1M85 197.5h1M140 196.5h1M42 195.5h1M28 194.5h1m47 0h1M107 193.5h1M89 191.5h1M105 190.5h1M121 189.5h1M80 188.5h1m28 0h1M5 185.5h1m1 0h1M6 184.5h1m7 0h1m1 0h1m22 0h1m30 0h1M53 183.5h1M64 182.5h1M109 181.5h1M130 180.5h1M67 179.5h1m55 0h1m31 0h1M7 178.5h1m14 0h1m13 0h1m108 0h1M55 177.5h1M9 176.5h1m93 0h1m31 0h1M16 175.5h1m20 0h1M40 174.5h1m36 0h1M75 172.5h1M99 171.5h1M15 170.5h1M12 169.5h1m57 0h1M64 168.5h1M34 167.5h1M29 166.5h1m76 0h1M71 165.5h1m23 0h1M65 163.5h1M96 162.5h1M57 161.5h1m10 0h1m10 0h1m7 0h2m15 0h1M17 160.5h1m20 0h1M5 159.5h1m13 0h1M12 158.5h1m10 0h1m40 0h1M90 157.5h1m20 0h1M70 156.5h1m18 0h1M14 155.5h1m80 0h1M33 154.5h1M119 152.5h1M73 151.5h1M119 150.5h1M41 149.5h1m60 0h1M93 147.5h1M93 146.5h1M23 145.5h1m10 0h1m3 0h1M48 144.5h1M18 141.5h1m83 0h1m32 0h1M107 140.5h1M66 137.5h1M66 136.5h1M20 133.5h1m25 0h1m27 0h1M13 131.5h1M140 128.5h1M16 127.5h1M8 126.5h1m102 0h1M29 124.5h1M22 123.5h1M99 122.5h1M36 121.5h1m13 0h1M140 119.5h1M77 118.5h1m23 0h1M9 117.5h1M21 116.5h1m62 0h1m8 0h1M68 115.5h1m48 0h1M6 114.5h1m25 0h1m14 0h1M29 113.5h1m45 0h1m30 0h2M97 112.5h1m42 0h1M46 111.5h1m39 0h1m9 0h1m2 0h1m1 0h1M31 110.5h1m32 0h1M24 108.5h1m8 0h1m46 0h1M68 107.5h1M20 106.5h1m53 0h1m12 0h1M21 105.5h1M5 104.5h1m43 0h1M31 103.5h1M13 102.5h1m47 0h1m26 0h1M60 101.5h1m15 0h1m21 0h1M24 98.5h1m64 0h1M104 97.5h1M28 95.5h1m1 0h1m4 0h1M58 94.5h1M87 92.5h1m25 0h1M66 91.5h1m30 0h1M42 90.5h1M31 89.5h1m33 0h1m21 0h1M6 88.5h1m94 0h1M23 86.5h1m54 0h1m27 0h1m10 0h1M24 83.5h1M44 82.5h1m2 0h1m82 0h1M130 81.5h1M130 80.5h1M88 79.5h1M101 78.5h1m4 0h1M47 76.5h1M69 74.5h1m1 0h1M48 72.5h1m4 0h1m17 0h1M48 70.5h1M43 69.5h1M42 66.5h1m45 0h1M12 65.5h1m27 0h1M98 64.5h1m20 0h1m5 0h1M26 63.5h1M51 61.5h1M28 60.5h1m78 0h1M64 59.5h1m11 0h1m4 0h1m12 0h1M78 58.5h1m14 0h1M26 57.5h1M20 56.5h1M9 55.5h1M58 53.5h1m34 0h1M31 52.5h1M109 51.5h1M33 49.5h1m31 0h1m11 0h1m45 0h1M72 48.5h1M55 47.5h1M36 44.5h1M29 43.5h1M18 38.5h1m65 0h1M20 37.5h1M18 36.5h1m57 0h1M49 35.5h1m8 0h1m51 0h1M49 34.5h1M44 33.5h1m4 0h1M101 31.5h1M84 30.5h1m7 0h1m18 0h1M49 28.5h1m1 0h1M84 27.5h1m17 0h1M6 26.5h1m143 0h1M34 24.5h1m22 0h1m34 0h1M25 23.5h1m42 0h1m25 0h1M78 22.5h1M9 19.5h1m75 0h1M35 18.5h1m24 0h1m46 0h1M29 17.5h1m18 0h1M8 16.5h1m79 0h1M29 14.5h1m56 0h1M50 13.5h1m4 0h1m31 0h1M10 12.5h1m22 0h1m26 0h1m33 0h1M46 10.5h1m24 0h1m13 0h1m31 0h1M81 9.5h1m1 0h1m56 0h1M66 8.5h1m32 0h1M26 5.5h1m13 0h1m18 0h1M50 4.5h1M113 3.5h1M27 2.5h1m54 0h1m25 0h1M27 1.5h1"/>
<path stroke="#443983" d="M130 392.5h1M130 387.5h1M110 383.5h1M99 381.5h1m15 0h1m5 0h1m28 0h1M69 380.5h1m22 0h1m4 0h1M110 379.5h1M13 378.5h1m111 0h1M11 377.5h1m54 0h1m25 0h1m5 0h1m6 0h1M17 376.5h1m6 0h1m3 0h1m31 0h1m3 0h1m2 0h1m4 0h1M18 375.5h1m25 0h1m2 0h1m9 0h1m4 0h1m2 0h1m6 0h1M6 374.5h1m95 0h1M15 373.5h1m21 0h1m12 0h1M52 372.5h2M8 371.5h1m35 0h1m1 0h1m19 0h1m10 0h1M8 370.5h1m27 0h1M49 367.5h1M80 366.5h1M106 364.5h1M65 362.5h1m15 0h1M10 361.5h1M63 359.5h1M107 358.5h1M41 357.5h1m11 0h1M76 356.5h1m7 0h1M17 355.5h1m36 0h1m34 0h1m40 0h1M84 353.5h1M75 350.5h1M73 349.5h1M20 347.5h1M63 346.5h1M76 345.5h1M21 344.5h1M23 341.5h1m28 0h1M44 340.5h1m22 0h1m53 0h1M69 336.5h1M28 335.5h1M60 333.5h1M19 332.5h1m59 0h1M63 330.5h1M96 329.5h1M67 327.5h1m7 0h1M56 321.5h1M29 320.5h1M29 319.5h1M84 318.5h1M57 312.5h1M39 310.5h1M76 309.5h1m26 0h1M71 306.5h1m36 0h1M21 304.5h1M115 303.5h1M36 300.5h1M28 299.5h1M25 298.5h1M35 294.5h1m89 0h1M64 293.5h1M89 292.5h1M33 291.5h1m33 0h1M52 289.5h1M125 287.5h1M24 286.5h1M94 285.5h1M16 282.5h1M75 281.5h1M125 280.5h1m19 0h1M38 276.5h1m8 0h1m47 0h1M32 274.5h1m33 0h1M30 272.5h1m74 0h1M125 271.5h1M49 269.5h1M43 266.5h1m3 0h1m73 0h1M63 265.5h1M33 263.5h1M30 259.5h1M87 258.5h1M20 255.5h1M130 253.5h1M97 251.5h1M130 247.5h1M99 246.5h1M31 238.5h1M43 236.5h1M130 235.5h1M45 234.5h1M95 233.5h1M13 230.5h1M105 229.5h1m24 0h1M76 228.5h1M6 227.5h1m40 0h1m59 0h2m46 0h1M135 226.5h1M8 224.5h1m25 0h1M73 223.5h1m22 0h1M63 222.5h1M11 219.5h1M13 218.5h1m68 0h1m1 0h1M19 215.5h1m55 0h1M108 214.5h1M18 212.5h1M50 211.5h1M135 210.5h1M40 209.5h2M44 207.5h1m29 0h1M24 205.5h1m57 0h1M8 201.5h1m106 0h1M63 198.5h1M21 197.5h1M39 195.5h1m38 0h1M60 191.5h1m14 0h1M79 187.5h1M54 184.5h1m2 0h1M135 182.5h1M19 181.5h1m19 0h1m4 0h1M68 180.5h1m34 0h1M82 176.5h1M105 175.5h1M102 174.5h1M16 173.5h1M97 172.5h1m37 0h1M23 171.5h1M40 167.5h1m57 0h1M119 164.5h1M6 161.5h1M79 160.5h1M15 152.5h1m139 0h1M48 150.5h1m10 0h1m19 0h1M36 148.5h1M68 147.5h1M27 146.5h1M54 145.5h1M12 142.5h1m48 0h1M99 141.5h1M53 140.5h1m67 0h1M39 139.5h1M61 138.5h1M84 137.5h1M22 136.5h1M54 134.5h1m85 0h1M55 128.5h1M42 125.5h1M39 124.5h1M76 123.5h1M37 119.5h1M49 116.5h1M67 110.5h1M67 109.5h1M49 107.5h1m2 0h1m102 0h1M111 106.5h1M34 105.5h1M108 104.5h1M34 103.5h1M145 100.5h1M145 99.5h1M84 97.5h1M76 96.5h1M9 94.5h1M29 93.5h1m44 0h1M6 91.5h1m80 0h1M10 88.5h1m68 0h1M90 87.5h1M25 86.5h1m83 0h1m13 0h1M33 85.5h1M22 84.5h1m56 0h1m25 0h1M56 82.5h1M31 76.5h1m11 0h1M33 75.5h1m15 0h1m9 0h1M30 74.5h1M145 72.5h1M29 65.5h1M19 64.5h1m2 0h1M108 62.5h1M54 61.5h1M76 60.5h1M103 59.5h1M64 58.5h1m80 0h1M117 55.5h1M97 53.5h1M21 50.5h1M78 48.5h1M11 47.5h1M55 45.5h1M6 44.5h1M53 40.5h1m28 0h1M81 38.5h1M22 34.5h1m70 0h1M113 29.5h1M15 28.5h1m54 0h1m24 0h1M57 27.5h1m28 0h1M56 26.5h1M68 24.5h1M108 22.5h1M16 19.5h1M111 13.5h1M75 12.5h1m10 0h1M66 9.5h1M61 4.5h1m25 0h1M51 3.5h1m30 0h1M7 2.5h1M52 1.5h1m42 0h1"/>
<path stroke="#433e85" d="M145 385.5h1M36 383.5h1M31 382.5h1m60 0h1M6 381.5h1m1 0h1m70 0h2m6 0h2m11 0h1m34 0h1M11 380.5h1m8 0h1m80 0h1m8 0h1M75 379.5h1m15 0h1M29 378.5h1m39 0h1m45 0h1m7 0h1M45 377.5h1m34 0h1M15 376.5h1m31 0h1M30 375.5h1m114 0h1M28 374.5h1m11 0h1m3 0h1m12 0h1m45 0h1M19 373.5h1m20 0h1m26 0h1M102 371.5h1M121 370.5h1M27 366.5h1m83 0h1m11 0h1M84 364.5h1M105 363.5h1M123 354.5h1M108 349.5h1M110 344.5h1M89 338.5h1M6 330.5h1m85 0h1M90 329.5h1M41 326.5h1M74 321.5h1M81 310.5h1M104 302.5h1M117 297.5h1M95 291.5h1M50 289.5h1M113 287.5h1M66 284.5h1M80 283.5h1M10 281.5h1M130 279.5h1M61 277.5h1M121 274.5h1M28 260.5h1m72 0h1M77 259.5h1M110 258.5h1M15 254.5h1m22 0h1M28 248.5h1M51 244.5h1M130 241.5h1M100 240.5h1M49 238.5h1m38 0h1M65 231.5h1M24 230.5h1M46 228.5h1M60 227.5h1M39 226.5h1M73 222.5h1M18 219.5h1m31 0h1m33 0h1M77 216.5h1M93 213.5h1m27 0h1M26 212.5h1M110 211.5h1M7 210.5h1M10 206.5h1M121 205.5h1M88 201.5h1M95 199.5h1M44 198.5h1M96 197.5h1M27 196.5h1M8 195.5h1M50 193.5h1M36 191.5h1m108 0h1M21 190.5h1M78 189.5h1M30 186.5h1M34 182.5h1M74 180.5h1M145 177.5h1M145 176.5h1M43 175.5h1M103 172.5h1M38 167.5h1m15 0h1M16 163.5h1M48 160.5h1M94 142.5h1M123 141.5h1M80 140.5h1M121 138.5h1M78 137.5h1M8 136.5h1m5 0h1M66 135.5h1M119 123.5h1M28 122.5h1m29 0h1M140 121.5h1M30 117.5h1m35 0h1M47 113.5h1m60 0h1M27 111.5h1m28 0h1m48 0h1M63 110.5h1M94 108.5h1M54 106.5h1M79 99.5h1M150 97.5h1M18 96.5h1M100 95.5h1M47 93.5h1M105 90.5h1M54 88.5h1M41 87.5h1m108 0h1M12 86.5h1M33 81.5h1M109 77.5h1M70 76.5h1M45 75.5h1M95 71.5h1M24 62.5h1M55 61.5h1M95 54.5h1m11 0h1M121 53.5h1M14 46.5h1M100 35.5h1M20 28.5h1M96 26.5h1M67 25.5h1M64 23.5h1m6 0h1M92 21.5h1M92 20.5h1M6 17.5h1M57 16.5h1M113 15.5h1M27 3.5h1m62 0h1"/>
<path stroke="#414487" d="M84 383.5h1m50 0h1m9 0h1M135 382.5h1M47 381.5h1m1 0h1m7 0h1m47 0h1M22 380.5h1m8 0h1m66 0h1M94 379.5h1m6 0h1M86 378.5h1m11 0h1m5 0h1m2 0h2m10 0h1m1 0h1M41 377.5h1m46 0h1m15 0h1m3 0h1M77 376.5h1m23 0h1m53 0h1M49 375.5h1m3 0h1m101 0h1M19 374.5h1M6 372.5h1m8 0h1M34 361.5h1M28 360.5h1m55 0h1M93 359.5h1M22 356.5h1M87 349.5h1M83 341.5h1M13 330.5h1M26 323.5h1M101 320.5h1M34 312.5h1M121 280.5h1M105 265.5h1M130 258.5h1M58 254.5h1m9 0h1m1 0h1m8 0h1M38 253.5h1M32 251.5h1M61 250.5h1m68 0h1M130 245.5h1M61 232.5h1M109 229.5h1M78 219.5h1M12 218.5h1M62 203.5h1M69 191.5h1M91 190.5h1M48 186.5h1M155 180.5h1M108 179.5h1M37 162.5h1M42 160.5h1M33 156.5h1M41 155.5h1M106 136.5h1M94 120.5h1M82 117.5h1M78 116.5h1M21 115.5h1M21 106.5h1M57 78.5h1M62 77.5h1M150 65.5h1M108 56.5h1M66 54.5h1M48 39.5h1M35 26.5h1M16 20.5h1"/>
<path stroke="#3f4889" d="M13 383.5h1m18 0h1m38 0h1m33 0h1m1 0h1M140 382.5h1M40 381.5h1m30 0h1m1 0h1m2 0h1M93 380.5h1m11 0h1M101 378.5h1M90 377.5h1m2 0h1M35 376.5h1M10 375.5h1m53 0h1m2 0h1m8 0h1m13 0h1M15 374.5h1m1 0h1m6 0h1m8 0h1m33 0h1M6 373.5h1m27 0h1M17 371.5h1m15 0h1M53 370.5h1m2 0h1M37 367.5h1M33 361.5h1M89 309.5h1M64 308.5h1M49 274.5h1M5 272.5h1m124 0h1M84 258.5h1M130 254.5h1M19 247.5h1M44 234.5h1M130 225.5h1M53 222.5h1M22 187.5h1M73 166.5h1M56 146.5h1M102 144.5h1M56 127.5h1M16 112.5h1M39 105.5h1M130 99.5h1M79 98.5h1M18 95.5h1M101 80.5h1M72 79.5h1M74 76.5h1M27 69.5h1M64 61.5h1M62 19.5h1"/>
<path stroke="#3d4d8a" d="M58 390.5h1m71 0h1M26 386.5h1M150 385.5h1M38 384.5h1M140 383.5h1M15 381.5h1m11 0h1m9 0h1m75 0h1M13 380.5h1M98 379.5h1M84 378.5h1M65 377.5h1m12 0h1m2 0h1m14 0h1m10 0h1M7 376.5h1m6 0h1m34 0h1M27 375.5h2m31 0h1m9 0h2m5 0h1m1 0h1M9 374.5h1m50 0h1m11 0h1m4 0h1m1 0h1M72 372.5h1M81 305.5h1M109 264.5h1M13 238.5h1M15 209.5h1M32 178.5h1M111 111.5h1M88 101.5h1M84 87.5h1M50 19.5h1M8 13.5h1"/>
<path stroke="#3b528b" d="M38 387.5h1M32 386.5h1M32 385.5h1m5 0h1M98 383.5h1M18 381.5h1m16 0h1m14 0h1m1 0h1M66 380.5h1m83 0h1M11 379.5h1m81 0h1m56 0h1M39 378.5h1m45 0h1m3 0h1M63 377.5h1m10 0h1m34 0h1M5 376.5h1M6 375.5h2m9 0h1m19 0h1m23 0h1m25 0h1M14 374.5h1m19 0h1m15 0h1m25 0h1M18 372.5h1M73 333.5h1M89 113.5h1M64 109.5h1M8 53.5h1"/>
<path stroke="#39568c" d="M130 391.5h1M38 389.5h1M58 387.5h1m9 0h1M68 386.5h1M32 384.5h1M66 383.5h1M145 382.5h1M24 381.5h1m29 0h1m23 0h1M106 380.5h1M20 379.5h1m1 0h1m46 0h1M41 378.5h1m54 0h1m6 0h1M57 377.5h1m42 0h1M24 375.5h1m21 0h1M155 374.5h1M24 372.5h1M96 201.5h1"/>
<path stroke="#375b8d" d="M32 389.5h1m25 0h1M38 388.5h1M26 387.5h1M38 386.5h1M51 383.5h1m29 0h1M94 382.5h1M14 381.5h1m18 0h1m9 0h1m38 0h1m72 0h1M9 379.5h1m49 0h1m46 0h1M88 378.5h1M42 377.5h1m4 0h1m39 0h1M50 375.5h1m3 0h1M46 374.5h1M77 373.5h1M40 372.5h1M40 288.5h1"/>
<path stroke="#355f8d" d="M31 404.5h1M58 391.5h1M38 390.5h1M58 388.5h1M95 386.5h1M89 383.5h1M7 381.5h1m15 0h1m4 0h1m27 0h1m3 0h1m6 0h1M16 380.5h1m57 0h1M55 378.5h1m10 0h1M8 377.5h1m28 0h1m29 0h1m14 0h1M43 375.5h1"/>
<path stroke="#32648e" d="M11 388.5h1M32 387.5h1m42 0h1M75 384.5h1m69 0h1M16 383.5h1m86 0h1M25 381.5h1m51 0h1M39 380.5h1m8 0h1m34 0h1m19 0h1M13 379.5h1m22 0h1m4 0h1m57 0h1M48 378.5h2m1 0h1m30 0h1M73 377.5h1m25 0h1m13 0h1M33 375.5h1"/>
<path stroke="#31688e" d="M130 396.5h1M135 390.5h1M26 388.5h1M75 386.5h1M75 385.5h1m47 0h1M29 383.5h1m17 0h2m26 0h1m9 0h1m1 0h1m11 0h1m4 0h1m4 0h1M10 381.5h1m6 0h1m35 0h1m10 0h1M41 380.5h2m65 0h1M84 379.5h1m19 0h1m4 0h1M57 378.5h1m20 0h1m18 0h1m2 0h1M46 377.5h1m56 0h1m46 0h1M18 376.5h1M14 375.5h1m25 0h1"/>
<path stroke="#2d708e" d="M135 391.5h1m4 0h1M95 390.5h1M145 386.5h1M21 385.5h1m93 0h1m9 0h1M8 383.5h1m33 0h1m53 0h1m53 0h1M5 381.5h1M99 380.5h1m7 0h1M29 379.5h1m21 0h1m31 0h1M16 378.5h1m25 0h1m28 0h1m8 0h2m20 0h1m6 0h1M7 377.5h1m8 0h1m2 0h1m5 0h1m3 0h1m19 0h1m12 0h1m1 0h1m7 0h1M23 375.5h1m28 0h1m3 0h1M43 374.5h1"/>
<path stroke="#2a788e" d="M32 390.5h1M11 385.5h1m101 0h1m5 0h1M27 383.5h1m17 0h1m28 0h1m15 0h1m17 0h1M9 382.5h1m12 0h1m18 0h1M34 381.5h1m11 0h1M45 380.5h1m34 0h1m28 0h1M55 379.5h1m10 0h1m54 0h1M19 378.5h1m53 0h2m24 0h1M10 377.5h1m16 0h1m16 0h1m10 0h1m20 0h1m44 0h1m1 0h1M5 375.5h1m9 0h1m3 0h1"/>
<path stroke="#27808e" d="M130 405.5h1M145 391.5h1M26 389.5h1M31 386.5h1M20 385.5h1m100 0h1M41 384.5h1M55 383.5h1m1 0h1m20 0h1m7 0h1m15 0h1m10 0h1m3 0h1m3 0h1M20 382.5h1m70 0h1m14 0h1M70 380.5h1m14 0h2m1 0h2m29 0h1M16 379.5h1m22 0h1m8 0h1m66 0h1m9 0h1M8 378.5h1m14 0h1m9 0h1m3 0h1m7 0h1m8 0h1m10 0h1M43 377.5h1m9 0h1m6 0h1m16 0h1M35 375.5h1"/>
<path stroke="#23888e" d="M38 404.5h1M38 403.5h1M32 392.5h1m5 0h1M31 391.5h2m35 0h1m6 0h1M31 390.5h1m43 0h1m69 0h1M31 389.5h1m43 0h1M31 388.5h1m43 0h1M31 387.5h1M20 386.5h2m70 0h1M9 385.5h1m31 0h1m75 0h1M18 383.5h1m14 0h1m5 0h1m3 0h1m18 0h1m2 0h1m6 0h1m15 0h1M13 382.5h1m7 0h1m47 0h1M78 380.5h1m5 0h1m2 0h1m12 0h1m16 0h1m5 0h1m1 0h1M70 379.5h1m2 0h1m15 0h1m7 0h1m7 0h1m11 0h1m1 0h1M63 378.5h2m22 0h1M5 377.5h1m11 0h1m15 0h2m21 0h1m62 0h1m5 0h1M34 375.5h1M5 373.5h1"/>
<path stroke="#21918c" d="M58 405.5h1M12 393.5h1M12 392.5h1M11 391.5h1m26 0h1m111 0h1M94 390.5h1M68 389.5h1m76 0h1M9 388.5h1m58 0h1m26 0h1M9 386.5h1m31 0h1m98 0h1M13 385.5h1m17 0h1m63 0h1M31 384.5h1m63 0h1m39 0h1m4 0h1M54 383.5h1m1 0h1m6 0h2m5 0h1m2 0h1M98 382.5h1M57 380.5h1m15 0h1m16 0h1m5 0h1m7 0h1m10 0h1m39 0h1M45 379.5h1m39 0h1m2 0h1m7 0h1m11 0h1m4 0h1m9 0h1m31 0h1M10 378.5h1m29 0h1m3 0h1m1 0h1m20 0h1M14 377.5h2m2 0h1m9 0h1m6 0h1m16 0h1m1 0h1m60 0h1m39 0h1"/>
<path stroke="#1f988b" d="M12 405.5h1M32 404.5h1m25 0h1M12 403.5h1m45 0h1M12 394.5h1M58 392.5h1M95 391.5h1M68 390.5h1M95 389.5h1M22 388.5h1m122 0h1M145 387.5h1M135 386.5h1M19 383.5h1m14 0h1m14 0h1m29 0h1m35 0h1M110 382.5h1M29 380.5h1m24 0h2m7 0h1m17 0h1m31 0h1m7 0h1M24 379.5h1m12 0h1m9 0h1m15 0h1m17 0h1m20 0h2m3 0h1M70 378.5h1M6 377.5h1m17 0h1m5 0h1m30 0h1"/>
<path stroke="#1fa188" d="M12 396.5h1m45 0h1M58 395.5h1M58 394.5h1M58 393.5h1M140 390.5h1M140 389.5h1M21 388.5h1m37 0h1M95 387.5h1M59 386.5h1m9 0h1M36 385.5h1m64 0h1M9 384.5h1M5 383.5h1m29 0h1m1 0h1m2 0h1m3 0h1m35 0h1m42 0h1m1 0h1M11 382.5h1m72 0h1m12 0h1m7 0h1M17 380.5h1m1 0h1m5 0h1m39 0h1m6 0h1m4 0h1M6 379.5h1m58 0h1m5 0h1M18 378.5h1m6 0h1m8 0h2m16 0h1m7 0h1m1 0h1m9 0h1m4 0h1m12 0h1M117 377.5h1"/>
<path stroke="#22a884" d="M58 397.5h1M21 391.5h1M11 390.5h1m10 0h1M13 388.5h1m22 0h1m32 0h1m24 0h1M22 387.5h1m13 0h1m55 0h1M42 386.5h1m48 0h1M42 385.5h1m26 0h1m14 0h1m9 0h1M21 384.5h1M7 383.5h1m2 0h1m6 0h1m7 0h1m27 0h1m7 0h1m20 0h1m36 0h1M42 382.5h1m43 0h1m2 0h1m3 0h1m7 0h1m9 0h1M7 380.5h1m29 0h1m6 0h1m6 0h1M42 379.5h1m37 0h1m5 0h2M5 378.5h3m6 0h1m2 0h1m10 0h1m1 0h1m12 0h1m3 0h1m2 0h1M23 377.5h1m16 0h1m9 0h1m51 0h1"/>
<path stroke="#2ab07f" d="M12 397.5h1M130 393.5h1M9 390.5h1m11 0h1M21 389.5h1M135 388.5h1M11 387.5h1m82 0h1m40 0h1m4 0h1M11 386.5h1m10 0h1m13 0h1M22 385.5h1M13 384.5h1m78 0h1m1 0h1M24 383.5h1m5 0h1m15 0h1m13 0h1m15 0h1m23 0h1M63 382.5h1m49 0h1M14 380.5h1m12 0h1m7 0h1m13 0h1m52 0h1M54 379.5h1m2 0h1m9 0h1m6 0h1m3 0h1m21 0h1M24 378.5h1m51 0h1"/>
<path stroke="#35b779" d="M32 395.5h1M9 391.5h1m26 0h1m57 0h1M13 390.5h1m6 0h1M135 389.5h1M20 388.5h1m71 0h1m5 0h1M21 387.5h1M13 386.5h1m80 0h1m3 0h1M39 385.5h1m52 0h1M69 384.5h1M14 383.5h1m13 0h1m38 0h1m9 0h1M36 382.5h1m62 0h1m7 0h1m1 0h1m7 0h1m32 0h1M6 380.5h1m1 0h1m9 0h1m5 0h1m22 0h1m2 0h1m2 0h1m6 0h1m1 0h1m1 0h1m6 0h1m10 0h1M27 379.5h1m34 0h1M61 378.5h1M79 377.5h1"/>
<path stroke="#44bf70" d="M68 404.5h1M12 402.5h1M26 396.5h1m5 0h1M31 392.5h1m36 0h1M26 391.5h1m14 0h1m49 0h2m20 0h1M36 390.5h1m32 0h1m21 0h1m19 0h1m5 0h1M20 389.5h1m71 0h1M105 388.5h1M59 387.5h1M16 386.5h1m76 0h1m17 0h1M57 385.5h1m13 0h1m13 0h1m5 0h1m1 0h1m12 0h1m3 0h1m44 0h1M15 383.5h1m7 0h1m26 0h1m104 0h1M59 382.5h1m6 0h1m20 0h1m8 0h1m7 0h1m14 0h1M28 380.5h1m4 0h2m26 0h1m14 0h1m2 0h1M33 379.5h1m9 0h1m6 0h1m13 0h1m25 0h1M53 378.5h1"/>
<path stroke="#54c568" d="M12 404.5h1M68 403.5h1M38 396.5h1M38 395.5h1m91 0h1M95 392.5h1m39 0h1M115 391.5h1m1 0h1m3 0h1m1 0h1m1 0h1M41 390.5h1M9 389.5h1m84 0h1M16 388.5h1m25 0h1m31 0h1m18 0h1m46 0h1M69 387.5h1m41 0h1M39 386.5h1m49 0h1m11 0h1m5 0h1M74 385.5h1m14 0h1m8 0h1m10 0h1M59 384.5h1m24 0h1M6 383.5h1m45 0h1M39 382.5h1m60 0h1m20 0h1M10 380.5h1m32 0h1M5 379.5h1m1 0h1m2 0h1m4 0h1m3 0h1m10 0h1m3 0h1m5 0h1m8 0h1m3 0h1m2 0h1m3 0h2m10 0h1M15 378.5h1m11 0h1m28 0h1m22 0h1"/>
<path stroke="#67cc5c" d="M38 397.5h1M38 393.5h1M20 391.5h1m1 0h1m78 0h1m17 0h1M11 389.5h1m10 0h1m36 0h1M91 388.5h1m4 0h1m4 0h1m4 0h1m4 0h1M9 387.5h1m10 0h1M110 386.5h1m39 0h1M48 385.5h1m32 0h1m15 0h1m6 0h1M11 384.5h1M45 382.5h1m2 0h1m2 0h1m19 0h1m6 0h1m2 0h1m1 0h1m1 0h1m22 0h1m6 0h1M30 380.5h1M8 379.5h1m16 0h1m26 0h1m23 0h2m1 0h1"/>
<path stroke="#7ad151" d="M26 397.5h1m5 0h1M26 392.5h1M59 391.5h1M48 390.5h1m21 0h1m42 0h1m7 0h1m28 0h1M13 389.5h1m37 0h1m98 0h1M107 388.5h1M13 387.5h1m77 0h1m1 0h1M74 386.5h1m10 0h1M16 385.5h1m34 0h1m7 0h1m47 0h1m3 0h1M22 384.5h1m13 0h1M16 382.5h1m106 0h1M15 380.5h1m7 0h1m16 0h1m5 0h1m20 0h1M14 379.5h1m13 0h1m6 0h1m8 0h1"/>
<path stroke="#90d743" d="M130 404.5h1M130 403.5h1M26 393.5h1m41 0h1M48 391.5h1m106 0h1M16 390.5h1m22 0h1m17 0h1M93 389.5h1M71 388.5h1m6 0h1m1 0h1M84 387.5h1m16 0h1M19 386.5h1m28 0h1m2 0h1m10 0h1m3 0h1m4 0h1m25 0h1M49 385.5h1m5 0h1m7 0h1m19 0h1m12 0h1M91 384.5h1m21 0h1m5 0h1m30 0h1M19 382.5h1m37 0h1m30 0h1m13 0h1m22 0h1M5 380.5h1m46 0h1m3 0h1M82 379.5h1"/>
<path stroke="#a5db36" d="M140 405.5h1M12 401.5h1M145 394.5h1M13 391.5h1m37 0h1m17 0h1M8 390.5h1m75 0h1m3 0h1m12 0h1m13 0h1m3 0h1m3 0h1m1 0h1M27 388.5h1m11 0h1m17 0h1m12 0h1m12 0h1m5 0h1m13 0h1M41 387.5h1m9 0h1m31 0h1m22 0h1M78 386.5h1m5 0h1m11 0h1m9 0h1M7 385.5h2m25 0h1m30 0h1m4 0h1m15 0h1M106 384.5h1m8 0h1M27 382.5h1m21 0h1m4 0h1m10 0h1m1 0h1m9 0h1m2 0h1M23 379.5h1"/>
<path stroke="#bddf26" d="M68 397.5h1M68 396.5h1m66 0h1m9 0h1M68 395.5h1M32 393.5h1M20 392.5h2m123 0h1M39 391.5h1m38 0h1m4 0h2m13 0h1M51 390.5h1m29 0h1M51 388.5h1m14 0h1m17 0h1m25 0h1m2 0h1m9 0h1M89 387.5h1m20 0h1m39 0h1M7 386.5h1m21 0h1m40 0h1M29 385.5h1m23 0h2m12 0h1m10 0h1m26 0h1M20 384.5h1m4 0h1m16 0h1m54 0h2m18 0h1m5 0h1M17 382.5h1m19 0h1m17 0h1m34 0h1m12 0h1m51 0h1M18 379.5h1"/>
<path stroke="#d2e21b" d="M145 405.5h1M140 396.5h1M140 395.5h1M135 394.5h1M13 392.5h1M63 391.5h1m29 0h1m13 0h1M27 390.5h1m14 0h1m23 0h1m18 0h1m7 0h1m3 0h1M55 389.5h1m13 0h1m15 0h1m5 0h1m9 0h1M44 388.5h2m2 0h1m14 0h1m1 0h1m15 0h1m15 0h1m23 0h1m3 0h1M42 387.5h1m23 0h1m11 0h1M5 386.5h1m4 0h1m46 0h1m2 0h1m4 0h1m6 0h1m14 0h1m27 0h1m9 0h1M25 385.5h1m1 0h1m17 0h1m34 0h1M16 384.5h1m17 0h1m30 0h1m27 0h1m7 0h1m9 0h1m9 0h1m3 0h1M8 382.5h1m20 0h1m32 0h1m7 0h1m3 0h1M17 379.5h1"/>
<path stroke="#eae51a" d="M59 392.5h1M16 391.5h1m94 0h1M45 390.5h1m8 0h2m31 0h1M36 389.5h1m11 0h1m61 0h2M54 388.5h1m9 0h1m8 0h1m11 0h1m18 0h1m4 0h1m7 0h1m1 0h1M27 387.5h1m11 0h1m31 0h1m13 0h1m11 0h2M17 386.5h1m32 0h1m1 0h1m20 0h1m31 0h1M17 385.5h1m1 0h1m23 0h1m2 0h1m26 0h1m34 0h1M39 384.5h1m26 0h1m6 0h1m6 0h1m2 0h1m26 0h1M40 382.5h1m2 0h1m17 0h1m20 0h1"/>
<path stroke="#fde725" d="M5 405.5h7m1 0h45m1 0h53m1 0h1m1 0h1m1 0h1m1 0h1m1 0h1m1 0h1m1 0h1m9 0h1m14 0h1m4 0h1M5 404.5h7m1 0h18m2 0h5m1 0h19m1 0h9m1 0h43m1 0h1m1 0h1m1 0h1m1 0h1m1 0h1m1 0h1m1 0h1m9 0h1m4 0h1m4 0h1m4 0h1m4 0h1M5 403.5h7m1 0h25m1 0h19m1 0h9m1 0h43m1 0h1m1 0h1m1 0h1m1 0h1m1 0h1m1 0h1m1 0h1m9 0h1m4 0h1m4 0h1m4 0h1m4 0h1M5 402.5h7m1 0h99m1 0h1m1 0h1m1 0h1m1 0h1m1 0h1m1 0h1m1 0h1m4 0h1m4 0h1m4 0h1m4 0h1m4 0h1m4 0h1M5 401.5h7m1 0h99m1 0h1m1 0h1m1 0h1m1 0h1m1 0h1m1 0h1m1 0h1m4 0h1m4 0h1m4 0h1m4 0h1m4 0h1m4 0h1M5 400.5h107m1 0h1m1 0h1m1 0h1m1 0h1m1 0h1m1 0h1m1 0h1m4 0h1m4 0h1m4 0h1m4 0h1m4 0h1m4 0h1M5 399.5h107m1 0h1m1 0h1m1 0h1m1 0h1m1 0h1m1 0h1m1 0h1m4 0h1m4 0h1m4 0h1m4 0h1m4 0h1m4 0h1M5 398.5h107m1 0h1m1 0h1m1 0h1m1 0h1m1 0h1m1 0h1m1 0h1m4 0h1m4 0h1m4 0h1m4 0h1m4 0h1m4 0h1M5 397.5h7m1 0h13m1 0h5m1 0h5m1 0h19m1 0h9m1 0h43m1 0h1m1 0h1m1 0h1m1 0h1m1 0h1m1 0h1m1 0h1m4 0h1m4 0h1m4 0h1m4 0h1m4 0h1m4 0h1M5 396.5h7m1 0h13m1 0h5m1 0h5m1 0h19m1 0h9m1 0h43m1 0h1m1 0h1m1 0h1m1 0h1m1 0h1m1 0h1m1 0h1m24 0h1m4 0h1M5 395.5h27m1 0h5m1 0h19m1 0h9m1 0h43m1 0h1m1 0h1m1 0h1m1 0h1m1 0h1m1 0h1m1 0h1m9 0h1m9 0h1m4 0h1m4 0h1M5 394.5h7m1 0h45m1 0h53m1 0h1m1 0h1m1 0h1m1 0h1m1 0h1m1 0h1m1 0h1m14 0h1m9 0h1m4 0h1M5 393.5h7m1 0h13m1 0h5m1 0h5m1 0h19m1 0h9m1 0h43m1 0h1m1 0h1m1 0h1m1 0h1m1 0h1m1 0h1m1 0h1m9 0h1m4 0h1m4 0h1m4 0h1m4 0h1M5 392.5h7m2 0h6m2 0h4m1 0h4m2 0h5m1 0h19m2 0h8m1 0h26m1 0h16m1 0h1m1 0h1m1 0h1m1 0h1m1 0h1m1 0h1m1 0h1m14 0h1m9 0h1m4 0h1M5 391.5h4m1 0h1m3 0h2m1 0h3m3 0h3m1 0h4m2 0h3m1 0h1m2 0h1m1 0h6m1 0h2m1 0h6m2 0h3m1 0h4m2 0h5m1 0h2m1 0h4m2 0h6m5 0h2m1 0h2m1 0h5m1 0h3M5 390.5h3m2 0h1m3 0h2m1 0h3m3 0h3m2 0h3m2 0h3m1 0h1m2 0h1m2 0h2m1 0h2m1 0h2m1 0h2m2 0h1m2 0h7m1 0h1m3 0h4m1 0h5m1 0h2m2 0h1m2 0h2m1 0h1m3 0h1m1 0h3m1 0h9m44 0h1M5 389.5h4m1 0h1m3 0h6m3 0h3m1 0h4m2 0h3m1 0h1m1 0h9m1 0h2m1 0h3m1 0h2m2 0h8m2 0h5m1 0h9m1 0h5m5 0h5m1 0h8m3 0h1m1 0h1m1 0h1m1 0h1m1 0h1m1 0h1m1 0h1m29 0h1M5 388.5h4m1 0h1m3 0h2m1 0h3m3 0h3m2 0h3m2 0h3m1 0h1m2 0h1m2 0h1m2 0h2m1 0h2m1 0h2m1 0h2m3 0h3m4 0h1m4 0h1m3 0h2m1 0h1m2 0h1m3 0h3m1 0h1m8 0h2m1 0h1m5 0h1m6 0h1m34 0h1m4 0h1M5 387.5h4m1 0h1m3 0h6m3 0h3m2 0h3m2 0h3m1 0h1m2 0h1m2 0h8m1 0h6m2 0h6m1 0h1m2 0h1m1 0h3m1 0h2m1 0h4m3 0h3m1 0h1m5 0h1m2 0h2m1 0h4m1 0h3m3 0h1m1 0h1m1 0h1m1 0h1m1 0h1m1 0h1m1 0h1m29 0h1M6 386.5h1m1 0h1m5 0h2m2 0h1m4 0h3m1 0h2m1 0h1m2 0h3m1 0h1m2 0h1m2 0h5m1 0h1m3 0h4m4 0h1m1 0h2m2 0h1m8 0h2m1 0h5m2 0h1m1 0h1m1 0h1m8 0h2m1 0h3m3 0h2m3 0h1m3 0h1m1 0h1m1 0h1m1 0h1m31 0h1M5 385.5h2m3 0h1m3 0h2m2 0h1m4 0h2m3 0h1m1 0h1m2 0h1m1 0h1m1 0h1m2 0h1m3 0h1m2 0h1m2 0h1m1 0h1m3 0h1m3 0h3m1 0h1m1 0h1m5 0h1m3 0h2m1 0h1m2 0h1m4 0h2m1 0h1m8 0h2m1 0h2M5 384.5h4m1 0h1m3 0h2m1 0h3m3 0h2m2 0h4m2 0h1m1 0h1m1 0h1m2 0h1m2 0h15m2 0h5m2 0h1m2 0h3m1 0h1m1 0h4m1 0h2m2 0h6m5 0h1m2 0h2m1 0h4m1 0h3m45 0h1M5 382.5h3m2 0h1m3 0h2m2 0h1m4 0h3m2 0h1m1 0h1m2 0h3m8 0h1m1 0h2m2 0h1m1 0h2m2 0h1m3 0h1m3 0h1m7 0h2m2 0h1m2 0h1M46 379.5h1"/></g></svg></g>
<g stroke="#000" stroke-width="1.11" fill="none">
<rect x="98.5" y="85.5" width="864" height="737"/>
<path d="M179.5 822.5v5M287.5 822.5v5M395.5 822.5v5M503.5 822.5v5M611.5 822.5v5M719.5 822.5v5M827.5 822.5v5M935.5 822.5v5"/>
<path d="M98.5 85.5h-5M98.5 206.5h-5M98.5 327.5h-5M98.5 448.5h-5M98.5 569.5h-5M98.5 689.5h-5M98.5 810.5h-5"/>
</g>
<rect x="1016.5" y="85.5" width="36.0" height="737" fill="url(#vg)" stroke="#000" stroke-width="1.11"/>
<path stroke="#000" stroke-width="1.11" d="M1052.5 85.5h5M1052.5 208.5h5M1052.5 331.5h5M1052.5 454.5h5M1052.5 577.5h5M1052.5 699.5h5M1052.5 822.5h5"/>
<text x="179.64" y="847.64" font-size="20.833" text-anchor="middle">2</text>
<text x="286.55" y="847.68" font-size="20.833" text-anchor="middle">4</text>
<text x="394.51" y="847.94" font-size="20.833" text-anchor="middle">6</text>
<text x="502.70" y="847.92" font-size="20.833" text-anchor="middle">8</text>
<text x="609.72" y="847.86" font-size="20.833" text-anchor="middle" dx="1 -1">10</text>
<text x="717.84" y="847.71" font-size="20.833" text-anchor="middle" dx="1 -1">12</text>
<text x="825.71" y="847.73" font-size="20.833" text-anchor="middle" dx="1 -1">14</text>
<text x="933.81" y="847.88" font-size="20.833" text-anchor="middle" dx="1 -1">16</text>
<text x="88.28" y="817.94" font-size="20.833" text-anchor="end">0</text>
<text x="85.78" y="696.58" font-size="20.833" text-anchor="end" dx="1 -1">100</text>
<text x="86.76" y="576.72" font-size="20.833" text-anchor="end" dx="1 -1">200</text>
<text x="86.85" y="456.35" font-size="20.833" text-anchor="end" dx="1 -1">300</text>
<text x="87.73" y="334.60" font-size="20.833" text-anchor="end">400</text>
<text x="86.74" y="213.89" font-size="20.833" text-anchor="end" dx="1 -1">500</text>
<text x="86.78" y="92.55" font-size="20.833" text-anchor="end" dx="1 -1">600</text>
<text x="1062.00" y="829.52" font-size="20.833">0</text>
<text x="1063.04" y="706.81" font-size="20.833">5</text>
<text x="1060.90" y="584.81" font-size="20.833" dx="1 -1">10</text>
<text x="1061.05" y="461.53" font-size="20.833" dx="1 -1">15</text>
<text x="1062.04" y="338.58" font-size="20.833" dx="1 -1">20</text>
<text x="1062.02" y="215.80" font-size="20.833" dx="1 -1">25</text>
<text x="1062.06" y="92.50" font-size="20.833" dx="1 -1">30</text>
<text x="529.60" y="873.53" font-size="20.833" text-anchor="middle">Frequency (MHz)</text>
<text transform="translate(37.50 454.61) rotate(-90)" font-size="20.833" text-anchor="middle">Virtual range (km)</text>
<text transform="translate(1108.54 454.29) rotate(-90)" font-size="20.833" text-anchor="middle">SNR (dB)</text>
<text x="529.77" y="43.71" font-size="27.778" text-anchor="middle" xml:space="preserve" style="white-space:pre">IRF Kiruna Ionosonde KI167 2026-03-15 20:37:00  UT</text>
<text x="529.97" y="76.78" font-size="27.778" text-anchor="middle">noise_floor=-119.63 (dB) peak SNR=95.13</text>
</svg></body></html>
